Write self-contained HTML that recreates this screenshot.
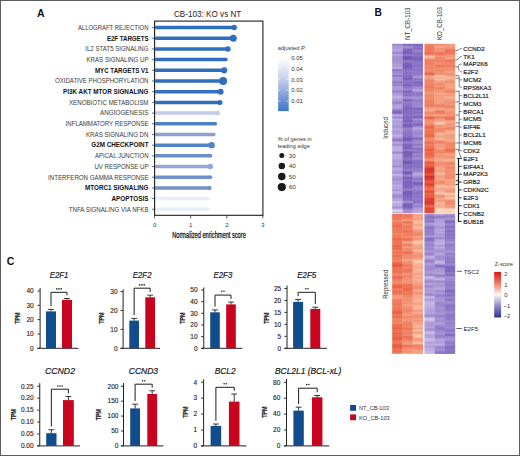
<!DOCTYPE html>
<html><head><meta charset="utf-8"><style>
html,body{margin:0;padding:0;background:#fff;overflow:hidden;}
svg{display:block;font-family:'Liberation Sans',sans-serif;}
</style></head><body>
<svg width="520" height="456" viewBox="0 0 520 456" style="font-family:'Liberation Sans',sans-serif">
<rect width="520" height="456" fill="#fff"/>
<text x="36.90" y="16.70" font-size="10.9" textLength="7.60" lengthAdjust="spacingAndGlyphs" font-weight="bold" fill="#111">A</text>
<text x="374.60" y="15.90" font-size="11.4" textLength="7.40" lengthAdjust="spacingAndGlyphs" font-weight="bold" fill="#111">B</text>
<text x="6.80" y="265.40" font-size="10.9" textLength="7.60" lengthAdjust="spacingAndGlyphs" font-weight="bold" fill="#111">C</text>
<text x="174.00" y="16.50" font-size="9.0" textLength="67.30" lengthAdjust="spacingAndGlyphs" fill="#222">CB-103: KO vs NT</text>
<text x="77.90" y="29.85" font-size="6.55" textLength="70.60" lengthAdjust="spacingAndGlyphs" fill="#3a3a3a">ALLOGRAFT REJECTION</text>
<line x1="152.2" y1="27.55" x2="154.60" y2="27.55" stroke="#333" stroke-width="0.8"/>
<line x1="155.20" y1="27.55" x2="234.20" y2="27.55" stroke="#2f6ebe" stroke-width="3.5"/>
<circle cx="234.20" cy="27.55" r="2.75" fill="#2f6ebe"/>
<text x="106.90" y="40.54" font-size="6.55" textLength="41.60" lengthAdjust="spacingAndGlyphs" font-weight="bold" fill="#111">E2F TARGETS</text>
<line x1="152.2" y1="38.24" x2="154.60" y2="38.24" stroke="#333" stroke-width="0.8"/>
<line x1="155.20" y1="38.24" x2="233.30" y2="38.24" stroke="#2f6ebe" stroke-width="3.5"/>
<circle cx="233.30" cy="38.24" r="3.50" fill="#2f6ebe"/>
<text x="85.25" y="51.23" font-size="6.55" textLength="63.25" lengthAdjust="spacingAndGlyphs" fill="#3a3a3a">IL2 STAT5 SIGNALING</text>
<line x1="152.2" y1="48.93" x2="154.60" y2="48.93" stroke="#333" stroke-width="0.8"/>
<line x1="155.20" y1="48.93" x2="227.90" y2="48.93" stroke="#2f6ebe" stroke-width="3.5"/>
<circle cx="227.90" cy="48.93" r="2.75" fill="#2f6ebe"/>
<text x="86.50" y="61.92" font-size="6.55" textLength="62.00" lengthAdjust="spacingAndGlyphs" fill="#3a3a3a">KRAS SIGNALING UP</text>
<line x1="152.2" y1="59.62" x2="154.60" y2="59.62" stroke="#333" stroke-width="0.8"/>
<line x1="155.20" y1="59.62" x2="226.00" y2="59.62" stroke="#2f6ebe" stroke-width="3.5"/>
<circle cx="226.00" cy="59.62" r="1.75" fill="#2f6ebe"/>
<text x="95.00" y="72.61" font-size="6.55" textLength="53.50" lengthAdjust="spacingAndGlyphs" font-weight="bold" fill="#111">MYC TARGETS V1</text>
<line x1="152.2" y1="70.31" x2="154.60" y2="70.31" stroke="#333" stroke-width="0.8"/>
<line x1="155.20" y1="70.31" x2="224.20" y2="70.31" stroke="#2f6ebe" stroke-width="3.5"/>
<circle cx="224.20" cy="70.31" r="3.10" fill="#2f6ebe"/>
<text x="55.00" y="83.30" font-size="6.55" textLength="93.50" lengthAdjust="spacingAndGlyphs" fill="#3a3a3a">OXIDATIVE PHOSPHORYLATION</text>
<line x1="152.2" y1="81.00" x2="154.60" y2="81.00" stroke="#333" stroke-width="0.8"/>
<line x1="155.20" y1="81.00" x2="223.10" y2="81.00" stroke="#2f6ebe" stroke-width="3.5"/>
<circle cx="223.10" cy="81.00" r="4.00" fill="#2f6ebe"/>
<text x="63.10" y="93.99" font-size="6.55" textLength="85.40" lengthAdjust="spacingAndGlyphs" font-weight="bold" fill="#111">PI3K AKT MTOR SIGNALING</text>
<line x1="152.2" y1="91.69" x2="154.60" y2="91.69" stroke="#333" stroke-width="0.8"/>
<line x1="155.20" y1="91.69" x2="220.60" y2="91.69" stroke="#3270bf" stroke-width="3.5"/>
<circle cx="220.60" cy="91.69" r="3.00" fill="#3270bf"/>
<text x="69.00" y="104.68" font-size="6.55" textLength="79.50" lengthAdjust="spacingAndGlyphs" fill="#3a3a3a">XENOBIOTIC METABOLISM</text>
<line x1="152.2" y1="102.38" x2="154.60" y2="102.38" stroke="#333" stroke-width="0.8"/>
<line x1="155.20" y1="102.38" x2="220.00" y2="102.38" stroke="#2f6ebe" stroke-width="3.5"/>
<circle cx="220.00" cy="102.38" r="2.50" fill="#2f6ebe"/>
<text x="100.00" y="115.37" font-size="6.55" textLength="48.50" lengthAdjust="spacingAndGlyphs" fill="#3a3a3a">ANGIOGENESIS</text>
<line x1="152.2" y1="113.07" x2="154.60" y2="113.07" stroke="#333" stroke-width="0.8"/>
<line x1="155.20" y1="113.07" x2="217.80" y2="113.07" stroke="#c4cde6" stroke-width="3.5"/>
<circle cx="217.80" cy="113.07" r="2.30" fill="#c4cde6"/>
<text x="65.60" y="126.06" font-size="6.55" textLength="82.90" lengthAdjust="spacingAndGlyphs" fill="#3a3a3a">INFLAMMATORY RESPONSE</text>
<line x1="152.2" y1="123.76" x2="154.60" y2="123.76" stroke="#333" stroke-width="0.8"/>
<line x1="155.20" y1="123.76" x2="215.50" y2="123.76" stroke="#4f82c4" stroke-width="3.5"/>
<circle cx="215.50" cy="123.76" r="1.75" fill="#4f82c4"/>
<text x="86.00" y="136.75" font-size="6.55" textLength="62.50" lengthAdjust="spacingAndGlyphs" fill="#3a3a3a">KRAS SIGNALING DN</text>
<line x1="152.2" y1="134.45" x2="154.60" y2="134.45" stroke="#333" stroke-width="0.8"/>
<line x1="155.20" y1="134.45" x2="213.90" y2="134.45" stroke="#8ba1d4" stroke-width="3.5"/>
<circle cx="213.90" cy="134.45" r="1.75" fill="#8ba1d4"/>
<text x="91.25" y="147.44" font-size="6.55" textLength="57.25" lengthAdjust="spacingAndGlyphs" font-weight="bold" fill="#111">G2M CHECKPOINT</text>
<line x1="152.2" y1="145.14" x2="154.60" y2="145.14" stroke="#333" stroke-width="0.8"/>
<line x1="155.20" y1="145.14" x2="211.60" y2="145.14" stroke="#5384c5" stroke-width="3.5"/>
<circle cx="211.60" cy="145.14" r="3.20" fill="#5384c5"/>
<text x="95.00" y="158.13" font-size="6.55" textLength="53.50" lengthAdjust="spacingAndGlyphs" fill="#3a3a3a">APICAL JUNCTION</text>
<line x1="152.2" y1="155.83" x2="154.60" y2="155.83" stroke="#333" stroke-width="0.8"/>
<line x1="155.20" y1="155.83" x2="210.60" y2="155.83" stroke="#6b8ec9" stroke-width="3.5"/>
<circle cx="210.60" cy="155.83" r="1.75" fill="#6b8ec9"/>
<text x="94.40" y="168.82" font-size="6.55" textLength="54.10" lengthAdjust="spacingAndGlyphs" fill="#3a3a3a">UV RESPONSE UP</text>
<line x1="152.2" y1="166.52" x2="154.60" y2="166.52" stroke="#333" stroke-width="0.8"/>
<line x1="155.20" y1="166.52" x2="210.30" y2="166.52" stroke="#92a7d7" stroke-width="3.5"/>
<circle cx="210.30" cy="166.52" r="2.70" fill="#92a7d7"/>
<text x="48.10" y="179.51" font-size="6.55" textLength="100.40" lengthAdjust="spacingAndGlyphs" fill="#3a3a3a">INTERFERON GAMMA RESPONSE</text>
<line x1="152.2" y1="177.21" x2="154.60" y2="177.21" stroke="#333" stroke-width="0.8"/>
<line x1="155.20" y1="177.21" x2="210.60" y2="177.21" stroke="#6f90ca" stroke-width="3.5"/>
<circle cx="210.60" cy="177.21" r="1.75" fill="#6f90ca"/>
<text x="85.00" y="190.20" font-size="6.55" textLength="63.50" lengthAdjust="spacingAndGlyphs" font-weight="bold" fill="#111">MTORC1 SIGNALING</text>
<line x1="152.2" y1="187.90" x2="154.60" y2="187.90" stroke="#333" stroke-width="0.8"/>
<line x1="155.20" y1="187.90" x2="209.40" y2="187.90" stroke="#7591cc" stroke-width="3.5"/>
<circle cx="209.40" cy="187.90" r="2.20" fill="#7591cc"/>
<text x="111.50" y="200.89" font-size="6.55" textLength="37.00" lengthAdjust="spacingAndGlyphs" font-weight="bold" fill="#111">APOPTOSIS</text>
<line x1="152.2" y1="198.59" x2="154.60" y2="198.59" stroke="#333" stroke-width="0.8"/>
<line x1="155.20" y1="198.59" x2="208.30" y2="198.59" stroke="#eceef5" stroke-width="3.5"/>
<circle cx="208.30" cy="198.59" r="1.70" fill="#eceef5"/>
<text x="68.75" y="211.58" font-size="6.55" textLength="79.75" lengthAdjust="spacingAndGlyphs" fill="#3a3a3a">TNFA SIGNALING VIA NFKB</text>
<line x1="152.2" y1="209.28" x2="154.60" y2="209.28" stroke="#333" stroke-width="0.8"/>
<line x1="155.20" y1="209.28" x2="208.00" y2="209.28" stroke="#e9edf7" stroke-width="3.5"/>
<circle cx="208.00" cy="209.28" r="1.70" fill="#e9edf7"/>
<rect x="154.60" y="21.10" width="108.30" height="194.20" fill="none" stroke="#1e1e1e" stroke-width="1.1"/>
<line x1="154.60" y1="215.30" x2="154.60" y2="218.4" stroke="#333" stroke-width="0.8"/>
<text x="154.60" y="226.80" font-size="6.0" text-anchor="middle" fill="#333">0</text>
<line x1="190.70" y1="215.30" x2="190.70" y2="218.4" stroke="#333" stroke-width="0.8"/>
<text x="190.70" y="226.80" font-size="6.0" text-anchor="middle" fill="#333">1</text>
<line x1="226.80" y1="215.30" x2="226.80" y2="218.4" stroke="#333" stroke-width="0.8"/>
<text x="226.80" y="226.80" font-size="6.0" text-anchor="middle" fill="#333">2</text>
<line x1="262.90" y1="215.30" x2="262.90" y2="218.4" stroke="#333" stroke-width="0.8"/>
<text x="262.90" y="226.80" font-size="6.0" text-anchor="middle" fill="#333">3</text>
<text x="172.20" y="238.30" font-size="8.8" textLength="73.60" lengthAdjust="spacingAndGlyphs" fill="#2a2a2a" stroke="#2a2a2a" stroke-width="0.35">Normalized enrichment score</text>
<text x="277.80" y="50.20" font-size="5.7" fill="#333">adjusted <tspan font-style="italic">P</tspan></text>
<defs><linearGradient id="gp" x1="0" y1="0" x2="0" y2="1"><stop offset="0" stop-color="#ffffff"/><stop offset="0.2" stop-color="#e3e9f5"/><stop offset="0.4" stop-color="#c3d1eb"/><stop offset="0.6" stop-color="#9cb3de"/><stop offset="0.8" stop-color="#6b92cf"/><stop offset="1" stop-color="#3a7ac6"/></linearGradient><linearGradient id="gz" x1="0" y1="0" x2="0" y2="1"><stop offset="0" stop-color="#d71414"/><stop offset="0.25" stop-color="#f07a68"/><stop offset="0.5" stop-color="#faf6f8"/><stop offset="0.75" stop-color="#9088cc"/><stop offset="1" stop-color="#2b3590"/></linearGradient></defs>
<rect x="278.1" y="57.2" width="10.6" height="53.9" fill="url(#gp)"/>
<text x="291.30" y="59.60" font-size="6.0" textLength="11.50" lengthAdjust="spacingAndGlyphs" fill="#333">0.05</text>
<line x1="278.1" y1="68.35" x2="280.3" y2="68.35" stroke="#fff" stroke-width="0.6"/><line x1="286.5" y1="68.35" x2="288.7" y2="68.35" stroke="#fff" stroke-width="0.6"/>
<text x="291.30" y="70.55" font-size="6.0" textLength="11.50" lengthAdjust="spacingAndGlyphs" fill="#333">0.04</text>
<line x1="278.1" y1="79.30" x2="280.3" y2="79.30" stroke="#fff" stroke-width="0.6"/><line x1="286.5" y1="79.30" x2="288.7" y2="79.30" stroke="#fff" stroke-width="0.6"/>
<text x="291.30" y="81.50" font-size="6.0" textLength="11.50" lengthAdjust="spacingAndGlyphs" fill="#333">0.03</text>
<line x1="278.1" y1="90.25" x2="280.3" y2="90.25" stroke="#fff" stroke-width="0.6"/><line x1="286.5" y1="90.25" x2="288.7" y2="90.25" stroke="#fff" stroke-width="0.6"/>
<text x="291.30" y="92.45" font-size="6.0" textLength="11.50" lengthAdjust="spacingAndGlyphs" fill="#333">0.02</text>
<line x1="278.1" y1="101.20" x2="280.3" y2="101.20" stroke="#fff" stroke-width="0.6"/><line x1="286.5" y1="101.20" x2="288.7" y2="101.20" stroke="#fff" stroke-width="0.6"/>
<text x="291.30" y="103.40" font-size="6.0" textLength="11.50" lengthAdjust="spacingAndGlyphs" fill="#333">0.01</text>
<text x="277.80" y="141.40" font-size="5.6" fill="#333">% of genes in</text>
<text x="277.80" y="147.70" font-size="5.6" fill="#333">leading edge</text>
<circle cx="281.8" cy="155.40" r="2.5" fill="#1a1a1a"/>
<text x="288.80" y="157.60" font-size="6.0" textLength="6.90" lengthAdjust="spacingAndGlyphs" fill="#333">30</text>
<circle cx="281.8" cy="165.95" r="3.25" fill="#1a1a1a"/>
<text x="288.80" y="168.15" font-size="6.0" textLength="6.90" lengthAdjust="spacingAndGlyphs" fill="#333">40</text>
<circle cx="281.8" cy="176.50" r="3.75" fill="#1a1a1a"/>
<text x="288.80" y="178.70" font-size="6.0" textLength="6.90" lengthAdjust="spacingAndGlyphs" fill="#333">50</text>
<circle cx="281.8" cy="187.05" r="4.1" fill="#1a1a1a"/>
<text x="288.80" y="189.25" font-size="6.0" textLength="6.90" lengthAdjust="spacingAndGlyphs" fill="#333">60</text>
<rect x="392.20" y="43.80" width="10.35" height="1.05" fill="#8d75c7"/>
<rect x="392.20" y="44.80" width="10.35" height="1.05" fill="#9680cc"/>
<rect x="392.20" y="45.80" width="10.35" height="1.05" fill="#9d88d0"/>
<rect x="392.20" y="46.80" width="10.35" height="1.05" fill="#a48fd3"/>
<rect x="392.20" y="47.80" width="10.35" height="1.05" fill="#a28dd2"/>
<rect x="392.20" y="48.80" width="10.35" height="1.05" fill="#ab96d6"/>
<rect x="392.20" y="49.80" width="10.35" height="1.05" fill="#b09dda"/>
<rect x="392.20" y="50.80" width="10.35" height="1.05" fill="#a793d5"/>
<rect x="392.20" y="51.80" width="10.35" height="1.05" fill="#927ac9"/>
<rect x="392.20" y="52.80" width="10.35" height="1.05" fill="#8a71c5"/>
<rect x="392.20" y="53.80" width="10.35" height="1.05" fill="#a590d3"/>
<rect x="392.20" y="54.80" width="10.35" height="1.05" fill="#ad99d8"/>
<rect x="392.20" y="55.80" width="10.35" height="1.05" fill="#9b85ce"/>
<rect x="392.20" y="56.80" width="10.35" height="1.05" fill="#9982cd"/>
<rect x="392.20" y="57.80" width="10.35" height="1.05" fill="#9881cd"/>
<rect x="392.20" y="58.80" width="10.35" height="1.05" fill="#9882cd"/>
<rect x="392.20" y="59.80" width="10.35" height="1.05" fill="#9780cc"/>
<rect x="392.20" y="60.80" width="10.35" height="1.05" fill="#9882cd"/>
<rect x="392.20" y="61.80" width="10.35" height="1.05" fill="#9d88cf"/>
<rect x="392.20" y="62.80" width="10.35" height="1.05" fill="#9b85ce"/>
<rect x="392.20" y="63.80" width="10.35" height="1.05" fill="#a692d4"/>
<rect x="392.20" y="64.80" width="10.35" height="1.05" fill="#a48fd3"/>
<rect x="392.20" y="65.80" width="10.35" height="1.05" fill="#a08ad1"/>
<rect x="392.20" y="66.80" width="10.35" height="1.05" fill="#b3a0db"/>
<rect x="392.20" y="67.80" width="10.35" height="1.05" fill="#b19dda"/>
<rect x="392.20" y="68.80" width="10.35" height="1.05" fill="#8d75c7"/>
<rect x="392.20" y="69.80" width="10.35" height="1.05" fill="#7c62be"/>
<rect x="392.20" y="70.80" width="10.35" height="1.05" fill="#8d75c7"/>
<rect x="392.20" y="71.80" width="10.35" height="1.05" fill="#8b73c6"/>
<rect x="392.20" y="72.80" width="10.35" height="1.05" fill="#9881cc"/>
<rect x="392.20" y="73.80" width="10.35" height="1.05" fill="#a28cd2"/>
<rect x="392.20" y="74.80" width="10.35" height="1.05" fill="#846bc2"/>
<rect x="392.20" y="75.80" width="10.35" height="1.05" fill="#8168c0"/>
<rect x="392.20" y="76.80" width="10.35" height="1.05" fill="#9c86cf"/>
<rect x="392.20" y="77.80" width="10.35" height="1.05" fill="#9e88d0"/>
<rect x="392.20" y="78.80" width="10.35" height="1.05" fill="#9b85ce"/>
<rect x="392.20" y="79.80" width="10.35" height="1.05" fill="#9a84ce"/>
<rect x="392.20" y="80.80" width="10.35" height="1.05" fill="#8b73c6"/>
<rect x="392.20" y="81.80" width="10.35" height="1.05" fill="#8067c0"/>
<rect x="392.20" y="82.80" width="10.35" height="1.05" fill="#917ac9"/>
<rect x="392.20" y="83.80" width="10.35" height="1.05" fill="#917ac9"/>
<rect x="392.20" y="84.80" width="10.35" height="1.05" fill="#876fc4"/>
<rect x="392.20" y="85.80" width="10.35" height="1.05" fill="#a08ad1"/>
<rect x="392.20" y="86.80" width="10.35" height="1.05" fill="#a691d4"/>
<rect x="392.20" y="87.80" width="10.35" height="1.05" fill="#a48ed3"/>
<rect x="392.20" y="88.80" width="10.35" height="1.05" fill="#a48fd3"/>
<rect x="392.20" y="89.80" width="10.35" height="1.05" fill="#9882cd"/>
<rect x="392.20" y="90.80" width="10.35" height="1.05" fill="#886fc4"/>
<rect x="392.20" y="91.80" width="10.35" height="1.05" fill="#917ac9"/>
<rect x="392.20" y="92.80" width="10.35" height="1.05" fill="#9f89d0"/>
<rect x="392.20" y="93.80" width="10.35" height="1.05" fill="#9f89d0"/>
<rect x="392.20" y="94.80" width="10.35" height="1.05" fill="#aa96d6"/>
<rect x="392.20" y="95.80" width="10.35" height="1.05" fill="#b6a4dd"/>
<rect x="392.20" y="96.80" width="10.35" height="1.05" fill="#bfaee2"/>
<rect x="392.20" y="97.80" width="10.35" height="1.05" fill="#ad9ad8"/>
<rect x="392.20" y="98.80" width="10.35" height="1.05" fill="#a692d4"/>
<rect x="392.20" y="99.80" width="10.35" height="1.05" fill="#a38dd2"/>
<rect x="392.20" y="100.80" width="10.35" height="1.05" fill="#9781cc"/>
<rect x="392.20" y="101.80" width="10.35" height="1.05" fill="#8a72c5"/>
<rect x="392.20" y="102.80" width="10.35" height="1.05" fill="#8e76c7"/>
<rect x="392.20" y="103.80" width="10.35" height="1.05" fill="#9e89d0"/>
<rect x="392.20" y="104.80" width="10.35" height="1.05" fill="#a691d4"/>
<rect x="392.20" y="105.80" width="10.35" height="1.05" fill="#ad99d8"/>
<rect x="392.20" y="106.80" width="10.35" height="1.05" fill="#ae9ad8"/>
<rect x="392.20" y="107.80" width="10.35" height="1.05" fill="#a590d3"/>
<rect x="392.20" y="108.80" width="10.35" height="1.05" fill="#947dca"/>
<rect x="392.20" y="109.80" width="10.35" height="1.05" fill="#8066c0"/>
<rect x="392.20" y="110.80" width="10.35" height="1.05" fill="#7459b9"/>
<rect x="392.20" y="111.80" width="10.35" height="1.05" fill="#6c50b5"/>
<rect x="392.20" y="112.80" width="10.35" height="1.05" fill="#7358b9"/>
<rect x="392.20" y="113.80" width="10.35" height="1.05" fill="#9f89d0"/>
<rect x="392.20" y="114.80" width="10.35" height="1.05" fill="#b7a5dd"/>
<rect x="392.20" y="115.80" width="10.35" height="1.05" fill="#a38ed3"/>
<rect x="392.20" y="116.80" width="10.35" height="1.05" fill="#8f77c8"/>
<rect x="392.20" y="117.80" width="10.35" height="1.05" fill="#9b85ce"/>
<rect x="392.20" y="118.80" width="10.35" height="1.05" fill="#b6a4dd"/>
<rect x="392.20" y="119.80" width="10.35" height="1.05" fill="#ad99d8"/>
<rect x="392.20" y="120.80" width="10.35" height="1.05" fill="#a48fd3"/>
<rect x="392.20" y="121.80" width="10.35" height="1.05" fill="#a691d4"/>
<rect x="392.20" y="122.80" width="10.35" height="1.05" fill="#a894d5"/>
<rect x="392.20" y="123.80" width="10.35" height="1.05" fill="#ab97d7"/>
<rect x="392.20" y="124.80" width="10.35" height="1.05" fill="#a691d4"/>
<rect x="392.20" y="125.80" width="10.35" height="1.05" fill="#a08ad1"/>
<rect x="392.20" y="126.80" width="10.35" height="1.05" fill="#9d87cf"/>
<rect x="392.20" y="127.80" width="10.35" height="1.05" fill="#ad99d8"/>
<rect x="392.20" y="128.80" width="10.35" height="1.05" fill="#ae9bd9"/>
<rect x="392.20" y="129.80" width="10.35" height="1.05" fill="#ad99d8"/>
<rect x="392.20" y="130.80" width="10.35" height="1.05" fill="#a08bd1"/>
<rect x="392.20" y="131.80" width="10.35" height="1.05" fill="#a18bd1"/>
<rect x="392.20" y="132.80" width="10.35" height="1.05" fill="#a691d4"/>
<rect x="392.20" y="133.80" width="10.35" height="1.05" fill="#a691d4"/>
<rect x="392.20" y="134.80" width="10.35" height="1.05" fill="#bba8df"/>
<rect x="392.20" y="135.80" width="10.35" height="1.05" fill="#b6a3dc"/>
<rect x="392.20" y="136.80" width="10.35" height="1.05" fill="#a590d3"/>
<rect x="392.20" y="137.80" width="10.35" height="1.05" fill="#9983cd"/>
<rect x="392.20" y="138.80" width="10.35" height="1.05" fill="#8870c4"/>
<rect x="392.20" y="139.80" width="10.35" height="1.05" fill="#7e64bf"/>
<rect x="392.20" y="140.80" width="10.35" height="1.05" fill="#937cca"/>
<rect x="392.20" y="141.80" width="10.35" height="1.05" fill="#ac97d7"/>
<rect x="392.20" y="142.80" width="10.35" height="1.05" fill="#b19dda"/>
<rect x="392.20" y="143.80" width="10.35" height="1.05" fill="#9882cd"/>
<rect x="392.20" y="144.80" width="10.35" height="1.05" fill="#9781cc"/>
<rect x="392.20" y="145.80" width="10.35" height="1.05" fill="#aa96d6"/>
<rect x="392.20" y="146.80" width="10.35" height="1.05" fill="#b9a7de"/>
<rect x="392.20" y="147.80" width="10.35" height="1.05" fill="#b29eda"/>
<rect x="392.20" y="148.80" width="10.35" height="1.05" fill="#b29fda"/>
<rect x="392.20" y="149.80" width="10.35" height="1.05" fill="#bcaae0"/>
<rect x="392.20" y="150.80" width="10.35" height="1.05" fill="#a995d6"/>
<rect x="392.20" y="151.80" width="10.35" height="1.05" fill="#917ac9"/>
<rect x="392.20" y="152.80" width="10.35" height="1.05" fill="#947dcb"/>
<rect x="392.20" y="153.80" width="10.35" height="1.05" fill="#b19eda"/>
<rect x="392.20" y="154.80" width="10.35" height="1.05" fill="#b8a5de"/>
<rect x="392.20" y="155.80" width="10.35" height="1.05" fill="#b7a5dd"/>
<rect x="392.20" y="156.80" width="10.35" height="1.05" fill="#b3a0db"/>
<rect x="392.20" y="157.80" width="10.35" height="1.05" fill="#b4a1db"/>
<rect x="392.20" y="158.80" width="10.35" height="1.05" fill="#af9bd9"/>
<rect x="392.20" y="159.80" width="10.35" height="1.05" fill="#a590d4"/>
<rect x="392.20" y="160.80" width="10.35" height="1.05" fill="#a08bd1"/>
<rect x="392.20" y="161.80" width="10.35" height="1.05" fill="#a590d4"/>
<rect x="392.20" y="162.80" width="10.35" height="1.05" fill="#a894d5"/>
<rect x="392.20" y="163.80" width="10.35" height="1.05" fill="#a692d4"/>
<rect x="392.20" y="164.80" width="10.35" height="1.05" fill="#9f89d0"/>
<rect x="392.20" y="165.80" width="10.35" height="1.05" fill="#927ac9"/>
<rect x="392.20" y="166.80" width="10.35" height="1.05" fill="#a08ad1"/>
<rect x="392.20" y="167.80" width="10.35" height="1.05" fill="#b19eda"/>
<rect x="392.20" y="168.80" width="10.35" height="1.05" fill="#b4a1dc"/>
<rect x="392.20" y="169.80" width="10.35" height="1.05" fill="#a995d6"/>
<rect x="392.20" y="170.80" width="10.35" height="1.05" fill="#a38ed3"/>
<rect x="392.20" y="171.80" width="10.35" height="1.05" fill="#9983cd"/>
<rect x="392.20" y="172.80" width="10.35" height="1.05" fill="#a08bd1"/>
<rect x="392.20" y="173.80" width="10.35" height="1.05" fill="#baa8df"/>
<rect x="392.20" y="174.80" width="10.35" height="1.05" fill="#b8a5de"/>
<rect x="392.20" y="175.80" width="10.35" height="1.05" fill="#a994d5"/>
<rect x="392.20" y="176.80" width="10.35" height="1.05" fill="#a38ed2"/>
<rect x="392.20" y="177.80" width="10.35" height="1.05" fill="#9c86cf"/>
<rect x="392.20" y="178.80" width="10.35" height="1.05" fill="#927ac9"/>
<rect x="392.20" y="179.80" width="10.35" height="1.05" fill="#9e88d0"/>
<rect x="392.20" y="180.80" width="10.35" height="1.05" fill="#a18cd2"/>
<rect x="392.20" y="181.80" width="10.35" height="1.05" fill="#a792d5"/>
<rect x="392.20" y="182.80" width="10.35" height="1.05" fill="#a08ad1"/>
<rect x="392.20" y="183.80" width="10.35" height="1.05" fill="#a995d6"/>
<rect x="392.20" y="184.80" width="10.35" height="1.05" fill="#b5a2dc"/>
<rect x="392.20" y="185.80" width="10.35" height="1.05" fill="#b19eda"/>
<rect x="392.20" y="186.80" width="10.35" height="1.05" fill="#ab96d6"/>
<rect x="392.20" y="187.80" width="10.35" height="1.05" fill="#b19dda"/>
<rect x="392.20" y="188.80" width="10.35" height="1.05" fill="#a893d5"/>
<rect x="392.20" y="189.80" width="10.35" height="1.05" fill="#9c86cf"/>
<rect x="392.20" y="190.80" width="10.35" height="1.05" fill="#ae9bd9"/>
<rect x="392.20" y="191.80" width="10.35" height="1.05" fill="#bdabe0"/>
<rect x="392.20" y="192.80" width="10.35" height="1.05" fill="#ae9ad8"/>
<rect x="392.20" y="193.80" width="10.35" height="1.05" fill="#9f89d0"/>
<rect x="392.20" y="194.80" width="10.35" height="1.05" fill="#967fcc"/>
<rect x="392.20" y="195.80" width="10.35" height="1.05" fill="#947dca"/>
<rect x="392.20" y="196.80" width="10.35" height="1.05" fill="#937cca"/>
<rect x="392.20" y="197.80" width="10.35" height="1.05" fill="#a691d4"/>
<rect x="392.20" y="198.80" width="10.35" height="1.05" fill="#ad99d8"/>
<rect x="392.20" y="199.80" width="10.35" height="1.05" fill="#a591d4"/>
<rect x="392.20" y="200.80" width="10.35" height="1.05" fill="#c0aee2"/>
<rect x="392.20" y="201.80" width="10.35" height="1.05" fill="#ccbce8"/>
<rect x="392.20" y="202.80" width="10.35" height="1.05" fill="#b4a1dc"/>
<rect x="392.20" y="203.80" width="10.35" height="1.05" fill="#b6a3dc"/>
<rect x="392.20" y="204.80" width="10.35" height="1.05" fill="#b8a6de"/>
<rect x="392.20" y="205.80" width="10.35" height="1.05" fill="#a38ed2"/>
<rect x="392.20" y="206.80" width="10.35" height="1.05" fill="#9e88d0"/>
<rect x="392.20" y="207.80" width="10.35" height="1.05" fill="#9d87cf"/>
<rect x="392.20" y="208.80" width="10.35" height="1.05" fill="#c9b9e7"/>
<rect x="392.20" y="209.80" width="10.35" height="1.05" fill="#dbcdf0"/>
<rect x="392.20" y="210.80" width="10.35" height="1.05" fill="#d6c8ee"/>
<rect x="392.20" y="211.80" width="10.35" height="1.05" fill="#bcaae0"/>
<rect x="402.50" y="43.80" width="10.35" height="1.05" fill="#7257b8"/>
<rect x="402.50" y="44.80" width="10.35" height="1.05" fill="#755bba"/>
<rect x="402.50" y="45.80" width="10.35" height="1.05" fill="#8b73c6"/>
<rect x="402.50" y="46.80" width="10.35" height="1.05" fill="#9d88cf"/>
<rect x="402.50" y="47.80" width="10.35" height="1.05" fill="#8971c5"/>
<rect x="402.50" y="48.80" width="10.35" height="1.05" fill="#7358b9"/>
<rect x="402.50" y="49.80" width="10.35" height="1.05" fill="#6e52b6"/>
<rect x="402.50" y="50.80" width="10.35" height="1.05" fill="#7257b8"/>
<rect x="402.50" y="51.80" width="10.35" height="1.05" fill="#644ab0"/>
<rect x="402.50" y="52.80" width="10.35" height="1.05" fill="#644ab0"/>
<rect x="402.50" y="53.80" width="10.35" height="1.05" fill="#7f65bf"/>
<rect x="402.50" y="54.80" width="10.35" height="1.05" fill="#856cc2"/>
<rect x="402.50" y="55.80" width="10.35" height="1.05" fill="#6a4eb4"/>
<rect x="402.50" y="56.80" width="10.35" height="1.05" fill="#5e45ab"/>
<rect x="402.50" y="57.80" width="10.35" height="1.05" fill="#5d44aa"/>
<rect x="402.50" y="58.80" width="10.35" height="1.05" fill="#6248ae"/>
<rect x="402.50" y="59.80" width="10.35" height="1.05" fill="#7459b9"/>
<rect x="402.50" y="60.80" width="10.35" height="1.05" fill="#8971c5"/>
<rect x="402.50" y="61.80" width="10.35" height="1.05" fill="#7a60bc"/>
<rect x="402.50" y="62.80" width="10.35" height="1.05" fill="#6d52b6"/>
<rect x="402.50" y="63.80" width="10.35" height="1.05" fill="#6b4fb5"/>
<rect x="402.50" y="64.80" width="10.35" height="1.05" fill="#694db3"/>
<rect x="402.50" y="65.80" width="10.35" height="1.05" fill="#6148ae"/>
<rect x="402.50" y="66.80" width="10.35" height="1.05" fill="#644ab0"/>
<rect x="402.50" y="67.80" width="10.35" height="1.05" fill="#6e53b6"/>
<rect x="402.50" y="68.80" width="10.35" height="1.05" fill="#7054b7"/>
<rect x="402.50" y="69.80" width="10.35" height="1.05" fill="#795fbc"/>
<rect x="402.50" y="70.80" width="10.35" height="1.05" fill="#836ac1"/>
<rect x="402.50" y="71.80" width="10.35" height="1.05" fill="#7e64be"/>
<rect x="402.50" y="72.80" width="10.35" height="1.05" fill="#785dbb"/>
<rect x="402.50" y="73.80" width="10.35" height="1.05" fill="#8167c0"/>
<rect x="402.50" y="74.80" width="10.35" height="1.05" fill="#775dbb"/>
<rect x="402.50" y="75.80" width="10.35" height="1.05" fill="#755aba"/>
<rect x="402.50" y="76.80" width="10.35" height="1.05" fill="#7359b9"/>
<rect x="402.50" y="77.80" width="10.35" height="1.05" fill="#664bb1"/>
<rect x="402.50" y="78.80" width="10.35" height="1.05" fill="#684db3"/>
<rect x="402.50" y="79.80" width="10.35" height="1.05" fill="#7b62bd"/>
<rect x="402.50" y="80.80" width="10.35" height="1.05" fill="#7a60bd"/>
<rect x="402.50" y="81.80" width="10.35" height="1.05" fill="#785ebc"/>
<rect x="402.50" y="82.80" width="10.35" height="1.05" fill="#7f65bf"/>
<rect x="402.50" y="83.80" width="10.35" height="1.05" fill="#7054b7"/>
<rect x="402.50" y="84.80" width="10.35" height="1.05" fill="#694db3"/>
<rect x="402.50" y="85.80" width="10.35" height="1.05" fill="#7c63be"/>
<rect x="402.50" y="86.80" width="10.35" height="1.05" fill="#8167c0"/>
<rect x="402.50" y="87.80" width="10.35" height="1.05" fill="#8269c1"/>
<rect x="402.50" y="88.80" width="10.35" height="1.05" fill="#967fcb"/>
<rect x="402.50" y="89.80" width="10.35" height="1.05" fill="#856cc3"/>
<rect x="402.50" y="90.80" width="10.35" height="1.05" fill="#684cb2"/>
<rect x="402.50" y="91.80" width="10.35" height="1.05" fill="#6e53b6"/>
<rect x="402.50" y="92.80" width="10.35" height="1.05" fill="#846cc2"/>
<rect x="402.50" y="93.80" width="10.35" height="1.05" fill="#7e65bf"/>
<rect x="402.50" y="94.80" width="10.35" height="1.05" fill="#765bba"/>
<rect x="402.50" y="95.80" width="10.35" height="1.05" fill="#8971c5"/>
<rect x="402.50" y="96.80" width="10.35" height="1.05" fill="#9882cd"/>
<rect x="402.50" y="97.80" width="10.35" height="1.05" fill="#9780cc"/>
<rect x="402.50" y="98.80" width="10.35" height="1.05" fill="#7d63be"/>
<rect x="402.50" y="99.80" width="10.35" height="1.05" fill="#7155b8"/>
<rect x="402.50" y="100.80" width="10.35" height="1.05" fill="#775cbb"/>
<rect x="402.50" y="101.80" width="10.35" height="1.05" fill="#8b73c6"/>
<rect x="402.50" y="102.80" width="10.35" height="1.05" fill="#8168c0"/>
<rect x="402.50" y="103.80" width="10.35" height="1.05" fill="#8067c0"/>
<rect x="402.50" y="104.80" width="10.35" height="1.05" fill="#7c62bd"/>
<rect x="402.50" y="105.80" width="10.35" height="1.05" fill="#7d63be"/>
<rect x="402.50" y="106.80" width="10.35" height="1.05" fill="#7055b7"/>
<rect x="402.50" y="107.80" width="10.35" height="1.05" fill="#6b4fb4"/>
<rect x="402.50" y="108.80" width="10.35" height="1.05" fill="#745aba"/>
<rect x="402.50" y="109.80" width="10.35" height="1.05" fill="#7257b8"/>
<rect x="402.50" y="110.80" width="10.35" height="1.05" fill="#7257b8"/>
<rect x="402.50" y="111.80" width="10.35" height="1.05" fill="#7359b9"/>
<rect x="402.50" y="112.80" width="10.35" height="1.05" fill="#7156b8"/>
<rect x="402.50" y="113.80" width="10.35" height="1.05" fill="#7b61bd"/>
<rect x="402.50" y="114.80" width="10.35" height="1.05" fill="#7c62be"/>
<rect x="402.50" y="115.80" width="10.35" height="1.05" fill="#745aba"/>
<rect x="402.50" y="116.80" width="10.35" height="1.05" fill="#6d51b5"/>
<rect x="402.50" y="117.80" width="10.35" height="1.05" fill="#7055b7"/>
<rect x="402.50" y="118.80" width="10.35" height="1.05" fill="#785ebb"/>
<rect x="402.50" y="119.80" width="10.35" height="1.05" fill="#6a4eb4"/>
<rect x="402.50" y="120.80" width="10.35" height="1.05" fill="#684cb2"/>
<rect x="402.50" y="121.80" width="10.35" height="1.05" fill="#795fbc"/>
<rect x="402.50" y="122.80" width="10.35" height="1.05" fill="#7c62bd"/>
<rect x="402.50" y="123.80" width="10.35" height="1.05" fill="#694eb4"/>
<rect x="402.50" y="124.80" width="10.35" height="1.05" fill="#684cb2"/>
<rect x="402.50" y="125.80" width="10.35" height="1.05" fill="#6a4eb4"/>
<rect x="402.50" y="126.80" width="10.35" height="1.05" fill="#7257b8"/>
<rect x="402.50" y="127.80" width="10.35" height="1.05" fill="#886fc4"/>
<rect x="402.50" y="128.80" width="10.35" height="1.05" fill="#8a72c5"/>
<rect x="402.50" y="129.80" width="10.35" height="1.05" fill="#8b73c5"/>
<rect x="402.50" y="130.80" width="10.35" height="1.05" fill="#8167c0"/>
<rect x="402.50" y="131.80" width="10.35" height="1.05" fill="#7f65bf"/>
<rect x="402.50" y="132.80" width="10.35" height="1.05" fill="#7f65bf"/>
<rect x="402.50" y="133.80" width="10.35" height="1.05" fill="#7b61bd"/>
<rect x="402.50" y="134.80" width="10.35" height="1.05" fill="#7e64bf"/>
<rect x="402.50" y="135.80" width="10.35" height="1.05" fill="#775dbb"/>
<rect x="402.50" y="136.80" width="10.35" height="1.05" fill="#785dbb"/>
<rect x="402.50" y="137.80" width="10.35" height="1.05" fill="#664bb1"/>
<rect x="402.50" y="138.80" width="10.35" height="1.05" fill="#5e45ab"/>
<rect x="402.50" y="139.80" width="10.35" height="1.05" fill="#694db3"/>
<rect x="402.50" y="140.80" width="10.35" height="1.05" fill="#775dbb"/>
<rect x="402.50" y="141.80" width="10.35" height="1.05" fill="#876fc4"/>
<rect x="402.50" y="142.80" width="10.35" height="1.05" fill="#856cc2"/>
<rect x="402.50" y="143.80" width="10.35" height="1.05" fill="#6e53b6"/>
<rect x="402.50" y="144.80" width="10.35" height="1.05" fill="#674cb2"/>
<rect x="402.50" y="145.80" width="10.35" height="1.05" fill="#755aba"/>
<rect x="402.50" y="146.80" width="10.35" height="1.05" fill="#6d52b6"/>
<rect x="402.50" y="147.80" width="10.35" height="1.05" fill="#664bb1"/>
<rect x="402.50" y="148.80" width="10.35" height="1.05" fill="#775cbb"/>
<rect x="402.50" y="149.80" width="10.35" height="1.05" fill="#856cc2"/>
<rect x="402.50" y="150.80" width="10.35" height="1.05" fill="#6e52b6"/>
<rect x="402.50" y="151.80" width="10.35" height="1.05" fill="#6349af"/>
<rect x="402.50" y="152.80" width="10.35" height="1.05" fill="#664bb1"/>
<rect x="402.50" y="153.80" width="10.35" height="1.05" fill="#694db3"/>
<rect x="402.50" y="154.80" width="10.35" height="1.05" fill="#6d52b6"/>
<rect x="402.50" y="155.80" width="10.35" height="1.05" fill="#6c50b5"/>
<rect x="402.50" y="156.80" width="10.35" height="1.05" fill="#7054b7"/>
<rect x="402.50" y="157.80" width="10.35" height="1.05" fill="#8066c0"/>
<rect x="402.50" y="158.80" width="10.35" height="1.05" fill="#7d63be"/>
<rect x="402.50" y="159.80" width="10.35" height="1.05" fill="#775cbb"/>
<rect x="402.50" y="160.80" width="10.35" height="1.05" fill="#684cb2"/>
<rect x="402.50" y="161.80" width="10.35" height="1.05" fill="#5e45ab"/>
<rect x="402.50" y="162.80" width="10.35" height="1.05" fill="#5d45ab"/>
<rect x="402.50" y="163.80" width="10.35" height="1.05" fill="#7459b9"/>
<rect x="402.50" y="164.80" width="10.35" height="1.05" fill="#785dbb"/>
<rect x="402.50" y="165.80" width="10.35" height="1.05" fill="#6f54b7"/>
<rect x="402.50" y="166.80" width="10.35" height="1.05" fill="#765bba"/>
<rect x="402.50" y="167.80" width="10.35" height="1.05" fill="#755aba"/>
<rect x="402.50" y="168.80" width="10.35" height="1.05" fill="#836ac1"/>
<rect x="402.50" y="169.80" width="10.35" height="1.05" fill="#8870c4"/>
<rect x="402.50" y="170.80" width="10.35" height="1.05" fill="#755aba"/>
<rect x="402.50" y="171.80" width="10.35" height="1.05" fill="#6349af"/>
<rect x="402.50" y="172.80" width="10.35" height="1.05" fill="#6147ad"/>
<rect x="402.50" y="173.80" width="10.35" height="1.05" fill="#755bba"/>
<rect x="402.50" y="174.80" width="10.35" height="1.05" fill="#8f78c8"/>
<rect x="402.50" y="175.80" width="10.35" height="1.05" fill="#866dc3"/>
<rect x="402.50" y="176.80" width="10.35" height="1.05" fill="#6c50b5"/>
<rect x="402.50" y="177.80" width="10.35" height="1.05" fill="#654ab0"/>
<rect x="402.50" y="178.80" width="10.35" height="1.05" fill="#7156b8"/>
<rect x="402.50" y="179.80" width="10.35" height="1.05" fill="#7e64be"/>
<rect x="402.50" y="180.80" width="10.35" height="1.05" fill="#674cb2"/>
<rect x="402.50" y="181.80" width="10.35" height="1.05" fill="#6a4eb4"/>
<rect x="402.50" y="182.80" width="10.35" height="1.05" fill="#6c50b5"/>
<rect x="402.50" y="183.80" width="10.35" height="1.05" fill="#7054b7"/>
<rect x="402.50" y="184.80" width="10.35" height="1.05" fill="#6a4eb4"/>
<rect x="402.50" y="185.80" width="10.35" height="1.05" fill="#7156b8"/>
<rect x="402.50" y="186.80" width="10.35" height="1.05" fill="#6c50b5"/>
<rect x="402.50" y="187.80" width="10.35" height="1.05" fill="#785ebc"/>
<rect x="402.50" y="188.80" width="10.35" height="1.05" fill="#8971c5"/>
<rect x="402.50" y="189.80" width="10.35" height="1.05" fill="#8168c0"/>
<rect x="402.50" y="190.80" width="10.35" height="1.05" fill="#6f54b7"/>
<rect x="402.50" y="191.80" width="10.35" height="1.05" fill="#644ab0"/>
<rect x="402.50" y="192.80" width="10.35" height="1.05" fill="#6248ae"/>
<rect x="402.50" y="193.80" width="10.35" height="1.05" fill="#694db3"/>
<rect x="402.50" y="194.80" width="10.35" height="1.05" fill="#6f53b6"/>
<rect x="402.50" y="195.80" width="10.35" height="1.05" fill="#6a4eb4"/>
<rect x="402.50" y="196.80" width="10.35" height="1.05" fill="#6f53b6"/>
<rect x="402.50" y="197.80" width="10.35" height="1.05" fill="#765bba"/>
<rect x="402.50" y="198.80" width="10.35" height="1.05" fill="#7257b8"/>
<rect x="402.50" y="199.80" width="10.35" height="1.05" fill="#795ebc"/>
<rect x="402.50" y="200.80" width="10.35" height="1.05" fill="#957ecb"/>
<rect x="402.50" y="201.80" width="10.35" height="1.05" fill="#9b85ce"/>
<rect x="402.50" y="202.80" width="10.35" height="1.05" fill="#785ebc"/>
<rect x="402.50" y="203.80" width="10.35" height="1.05" fill="#6a4eb4"/>
<rect x="402.50" y="204.80" width="10.35" height="1.05" fill="#684db3"/>
<rect x="402.50" y="205.80" width="10.35" height="1.05" fill="#654bb1"/>
<rect x="402.50" y="206.80" width="10.35" height="1.05" fill="#6f53b7"/>
<rect x="402.50" y="207.80" width="10.35" height="1.05" fill="#7459b9"/>
<rect x="402.50" y="208.80" width="10.35" height="1.05" fill="#8e76c7"/>
<rect x="402.50" y="209.80" width="10.35" height="1.05" fill="#957ecb"/>
<rect x="402.50" y="210.80" width="10.35" height="1.05" fill="#9a83ce"/>
<rect x="402.50" y="211.80" width="10.35" height="1.05" fill="#967fcb"/>
<rect x="412.80" y="43.80" width="10.25" height="1.05" fill="#7257b8"/>
<rect x="412.80" y="44.80" width="10.25" height="1.05" fill="#6e53b6"/>
<rect x="412.80" y="45.80" width="10.25" height="1.05" fill="#7b61bd"/>
<rect x="412.80" y="46.80" width="10.25" height="1.05" fill="#8168c0"/>
<rect x="412.80" y="47.80" width="10.25" height="1.05" fill="#7156b8"/>
<rect x="412.80" y="48.80" width="10.25" height="1.05" fill="#7c62be"/>
<rect x="412.80" y="49.80" width="10.25" height="1.05" fill="#8c74c6"/>
<rect x="412.80" y="50.80" width="10.25" height="1.05" fill="#8b73c5"/>
<rect x="412.80" y="51.80" width="10.25" height="1.05" fill="#8167c0"/>
<rect x="412.80" y="52.80" width="10.25" height="1.05" fill="#775dbb"/>
<rect x="412.80" y="53.80" width="10.25" height="1.05" fill="#7a60bc"/>
<rect x="412.80" y="54.80" width="10.25" height="1.05" fill="#7f65bf"/>
<rect x="412.80" y="55.80" width="10.25" height="1.05" fill="#775cbb"/>
<rect x="412.80" y="56.80" width="10.25" height="1.05" fill="#7257b8"/>
<rect x="412.80" y="57.80" width="10.25" height="1.05" fill="#684cb2"/>
<rect x="412.80" y="58.80" width="10.25" height="1.05" fill="#6e52b6"/>
<rect x="412.80" y="59.80" width="10.25" height="1.05" fill="#755aba"/>
<rect x="412.80" y="60.80" width="10.25" height="1.05" fill="#795fbc"/>
<rect x="412.80" y="61.80" width="10.25" height="1.05" fill="#7b61bd"/>
<rect x="412.80" y="62.80" width="10.25" height="1.05" fill="#836ac1"/>
<rect x="412.80" y="63.80" width="10.25" height="1.05" fill="#7d63be"/>
<rect x="412.80" y="64.80" width="10.25" height="1.05" fill="#7d64be"/>
<rect x="412.80" y="65.80" width="10.25" height="1.05" fill="#785dbb"/>
<rect x="412.80" y="66.80" width="10.25" height="1.05" fill="#8168c0"/>
<rect x="412.80" y="67.80" width="10.25" height="1.05" fill="#8870c4"/>
<rect x="412.80" y="68.80" width="10.25" height="1.05" fill="#7e64bf"/>
<rect x="412.80" y="69.80" width="10.25" height="1.05" fill="#795ebc"/>
<rect x="412.80" y="70.80" width="10.25" height="1.05" fill="#836ac1"/>
<rect x="412.80" y="71.80" width="10.25" height="1.05" fill="#846bc2"/>
<rect x="412.80" y="72.80" width="10.25" height="1.05" fill="#8067c0"/>
<rect x="412.80" y="73.80" width="10.25" height="1.05" fill="#8067c0"/>
<rect x="412.80" y="74.80" width="10.25" height="1.05" fill="#8b73c6"/>
<rect x="412.80" y="75.80" width="10.25" height="1.05" fill="#9d87cf"/>
<rect x="412.80" y="76.80" width="10.25" height="1.05" fill="#9f89d0"/>
<rect x="412.80" y="77.80" width="10.25" height="1.05" fill="#8870c4"/>
<rect x="412.80" y="78.80" width="10.25" height="1.05" fill="#7d63be"/>
<rect x="412.80" y="79.80" width="10.25" height="1.05" fill="#8a72c5"/>
<rect x="412.80" y="80.80" width="10.25" height="1.05" fill="#7c62be"/>
<rect x="412.80" y="81.80" width="10.25" height="1.05" fill="#684cb2"/>
<rect x="412.80" y="82.80" width="10.25" height="1.05" fill="#7a60bc"/>
<rect x="412.80" y="83.80" width="10.25" height="1.05" fill="#795fbc"/>
<rect x="412.80" y="84.80" width="10.25" height="1.05" fill="#6e52b6"/>
<rect x="412.80" y="85.80" width="10.25" height="1.05" fill="#846bc2"/>
<rect x="412.80" y="86.80" width="10.25" height="1.05" fill="#937cca"/>
<rect x="412.80" y="87.80" width="10.25" height="1.05" fill="#9179c9"/>
<rect x="412.80" y="88.80" width="10.25" height="1.05" fill="#a590d3"/>
<rect x="412.80" y="89.80" width="10.25" height="1.05" fill="#ae9ad8"/>
<rect x="412.80" y="90.80" width="10.25" height="1.05" fill="#9c87cf"/>
<rect x="412.80" y="91.80" width="10.25" height="1.05" fill="#8e76c7"/>
<rect x="412.80" y="92.80" width="10.25" height="1.05" fill="#856cc2"/>
<rect x="412.80" y="93.80" width="10.25" height="1.05" fill="#7b61bd"/>
<rect x="412.80" y="94.80" width="10.25" height="1.05" fill="#836ac1"/>
<rect x="412.80" y="95.80" width="10.25" height="1.05" fill="#9179c9"/>
<rect x="412.80" y="96.80" width="10.25" height="1.05" fill="#9b85ce"/>
<rect x="412.80" y="97.80" width="10.25" height="1.05" fill="#9d87cf"/>
<rect x="412.80" y="98.80" width="10.25" height="1.05" fill="#927ac9"/>
<rect x="412.80" y="99.80" width="10.25" height="1.05" fill="#846bc2"/>
<rect x="412.80" y="100.80" width="10.25" height="1.05" fill="#866dc3"/>
<rect x="412.80" y="101.80" width="10.25" height="1.05" fill="#8f77c8"/>
<rect x="412.80" y="102.80" width="10.25" height="1.05" fill="#8d75c7"/>
<rect x="412.80" y="103.80" width="10.25" height="1.05" fill="#9079c8"/>
<rect x="412.80" y="104.80" width="10.25" height="1.05" fill="#917ac9"/>
<rect x="412.80" y="105.80" width="10.25" height="1.05" fill="#947dca"/>
<rect x="412.80" y="106.80" width="10.25" height="1.05" fill="#8e76c7"/>
<rect x="412.80" y="107.80" width="10.25" height="1.05" fill="#7054b7"/>
<rect x="412.80" y="108.80" width="10.25" height="1.05" fill="#6d51b5"/>
<rect x="412.80" y="109.80" width="10.25" height="1.05" fill="#8168c0"/>
<rect x="412.80" y="110.80" width="10.25" height="1.05" fill="#7c62bd"/>
<rect x="412.80" y="111.80" width="10.25" height="1.05" fill="#795fbc"/>
<rect x="412.80" y="112.80" width="10.25" height="1.05" fill="#785ebc"/>
<rect x="412.80" y="113.80" width="10.25" height="1.05" fill="#866ec3"/>
<rect x="412.80" y="114.80" width="10.25" height="1.05" fill="#846bc2"/>
<rect x="412.80" y="115.80" width="10.25" height="1.05" fill="#7156b8"/>
<rect x="412.80" y="116.80" width="10.25" height="1.05" fill="#684db3"/>
<rect x="412.80" y="117.80" width="10.25" height="1.05" fill="#8168c0"/>
<rect x="412.80" y="118.80" width="10.25" height="1.05" fill="#9b85ce"/>
<rect x="412.80" y="119.80" width="10.25" height="1.05" fill="#9078c8"/>
<rect x="412.80" y="120.80" width="10.25" height="1.05" fill="#836ac1"/>
<rect x="412.80" y="121.80" width="10.25" height="1.05" fill="#8a72c5"/>
<rect x="412.80" y="122.80" width="10.25" height="1.05" fill="#836ac1"/>
<rect x="412.80" y="123.80" width="10.25" height="1.05" fill="#6a4eb4"/>
<rect x="412.80" y="124.80" width="10.25" height="1.05" fill="#7459b9"/>
<rect x="412.80" y="125.80" width="10.25" height="1.05" fill="#8c74c6"/>
<rect x="412.80" y="126.80" width="10.25" height="1.05" fill="#9c87cf"/>
<rect x="412.80" y="127.80" width="10.25" height="1.05" fill="#af9bd9"/>
<rect x="412.80" y="128.80" width="10.25" height="1.05" fill="#a995d6"/>
<rect x="412.80" y="129.80" width="10.25" height="1.05" fill="#9a84ce"/>
<rect x="412.80" y="130.80" width="10.25" height="1.05" fill="#9780cc"/>
<rect x="412.80" y="131.80" width="10.25" height="1.05" fill="#947dcb"/>
<rect x="412.80" y="132.80" width="10.25" height="1.05" fill="#9078c8"/>
<rect x="412.80" y="133.80" width="10.25" height="1.05" fill="#917ac9"/>
<rect x="412.80" y="134.80" width="10.25" height="1.05" fill="#9c86cf"/>
<rect x="412.80" y="135.80" width="10.25" height="1.05" fill="#9a84ce"/>
<rect x="412.80" y="136.80" width="10.25" height="1.05" fill="#8970c4"/>
<rect x="412.80" y="137.80" width="10.25" height="1.05" fill="#765bba"/>
<rect x="412.80" y="138.80" width="10.25" height="1.05" fill="#795fbc"/>
<rect x="412.80" y="139.80" width="10.25" height="1.05" fill="#8b73c6"/>
<rect x="412.80" y="140.80" width="10.25" height="1.05" fill="#8e77c8"/>
<rect x="412.80" y="141.80" width="10.25" height="1.05" fill="#9b84ce"/>
<rect x="412.80" y="142.80" width="10.25" height="1.05" fill="#947ecb"/>
<rect x="412.80" y="143.80" width="10.25" height="1.05" fill="#8269c1"/>
<rect x="412.80" y="144.80" width="10.25" height="1.05" fill="#846bc2"/>
<rect x="412.80" y="145.80" width="10.25" height="1.05" fill="#967fcb"/>
<rect x="412.80" y="146.80" width="10.25" height="1.05" fill="#947dcb"/>
<rect x="412.80" y="147.80" width="10.25" height="1.05" fill="#7a60bd"/>
<rect x="412.80" y="148.80" width="10.25" height="1.05" fill="#7b61bd"/>
<rect x="412.80" y="149.80" width="10.25" height="1.05" fill="#8a72c5"/>
<rect x="412.80" y="150.80" width="10.25" height="1.05" fill="#8066c0"/>
<rect x="412.80" y="151.80" width="10.25" height="1.05" fill="#755aba"/>
<rect x="412.80" y="152.80" width="10.25" height="1.05" fill="#8b73c5"/>
<rect x="412.80" y="153.80" width="10.25" height="1.05" fill="#917ac9"/>
<rect x="412.80" y="154.80" width="10.25" height="1.05" fill="#886fc4"/>
<rect x="412.80" y="155.80" width="10.25" height="1.05" fill="#876fc4"/>
<rect x="412.80" y="156.80" width="10.25" height="1.05" fill="#8f77c8"/>
<rect x="412.80" y="157.80" width="10.25" height="1.05" fill="#967fcc"/>
<rect x="412.80" y="158.80" width="10.25" height="1.05" fill="#947ecb"/>
<rect x="412.80" y="159.80" width="10.25" height="1.05" fill="#8067c0"/>
<rect x="412.80" y="160.80" width="10.25" height="1.05" fill="#775dbb"/>
<rect x="412.80" y="161.80" width="10.25" height="1.05" fill="#795fbc"/>
<rect x="412.80" y="162.80" width="10.25" height="1.05" fill="#7156b8"/>
<rect x="412.80" y="163.80" width="10.25" height="1.05" fill="#7e64bf"/>
<rect x="412.80" y="164.80" width="10.25" height="1.05" fill="#8168c0"/>
<rect x="412.80" y="165.80" width="10.25" height="1.05" fill="#7359b9"/>
<rect x="412.80" y="166.80" width="10.25" height="1.05" fill="#7d64be"/>
<rect x="412.80" y="167.80" width="10.25" height="1.05" fill="#8067c0"/>
<rect x="412.80" y="168.80" width="10.25" height="1.05" fill="#8b73c6"/>
<rect x="412.80" y="169.80" width="10.25" height="1.05" fill="#846bc2"/>
<rect x="412.80" y="170.80" width="10.25" height="1.05" fill="#8c75c6"/>
<rect x="412.80" y="171.80" width="10.25" height="1.05" fill="#9e88d0"/>
<rect x="412.80" y="172.80" width="10.25" height="1.05" fill="#aa96d6"/>
<rect x="412.80" y="173.80" width="10.25" height="1.05" fill="#b4a1dc"/>
<rect x="412.80" y="174.80" width="10.25" height="1.05" fill="#a691d4"/>
<rect x="412.80" y="175.80" width="10.25" height="1.05" fill="#9882cd"/>
<rect x="412.80" y="176.80" width="10.25" height="1.05" fill="#9780cc"/>
<rect x="412.80" y="177.80" width="10.25" height="1.05" fill="#856dc3"/>
<rect x="412.80" y="178.80" width="10.25" height="1.05" fill="#7b61bd"/>
<rect x="412.80" y="179.80" width="10.25" height="1.05" fill="#8b73c6"/>
<rect x="412.80" y="180.80" width="10.25" height="1.05" fill="#8870c4"/>
<rect x="412.80" y="181.80" width="10.25" height="1.05" fill="#755aba"/>
<rect x="412.80" y="182.80" width="10.25" height="1.05" fill="#664bb1"/>
<rect x="412.80" y="183.80" width="10.25" height="1.05" fill="#694db3"/>
<rect x="412.80" y="184.80" width="10.25" height="1.05" fill="#7c63be"/>
<rect x="412.80" y="185.80" width="10.25" height="1.05" fill="#8870c4"/>
<rect x="412.80" y="186.80" width="10.25" height="1.05" fill="#8c74c6"/>
<rect x="412.80" y="187.80" width="10.25" height="1.05" fill="#957ecb"/>
<rect x="412.80" y="188.80" width="10.25" height="1.05" fill="#9079c9"/>
<rect x="412.80" y="189.80" width="10.25" height="1.05" fill="#846bc2"/>
<rect x="412.80" y="190.80" width="10.25" height="1.05" fill="#8168c1"/>
<rect x="412.80" y="191.80" width="10.25" height="1.05" fill="#7a60bc"/>
<rect x="412.80" y="192.80" width="10.25" height="1.05" fill="#795fbc"/>
<rect x="412.80" y="193.80" width="10.25" height="1.05" fill="#7d63be"/>
<rect x="412.80" y="194.80" width="10.25" height="1.05" fill="#866ec3"/>
<rect x="412.80" y="195.80" width="10.25" height="1.05" fill="#7b61bd"/>
<rect x="412.80" y="196.80" width="10.25" height="1.05" fill="#7a60bd"/>
<rect x="412.80" y="197.80" width="10.25" height="1.05" fill="#8870c4"/>
<rect x="412.80" y="198.80" width="10.25" height="1.05" fill="#846bc2"/>
<rect x="412.80" y="199.80" width="10.25" height="1.05" fill="#7e65bf"/>
<rect x="412.80" y="200.80" width="10.25" height="1.05" fill="#7a60bc"/>
<rect x="412.80" y="201.80" width="10.25" height="1.05" fill="#7d63be"/>
<rect x="412.80" y="202.80" width="10.25" height="1.05" fill="#856cc2"/>
<rect x="412.80" y="203.80" width="10.25" height="1.05" fill="#9d87cf"/>
<rect x="412.80" y="204.80" width="10.25" height="1.05" fill="#937cca"/>
<rect x="412.80" y="205.80" width="10.25" height="1.05" fill="#846bc2"/>
<rect x="412.80" y="206.80" width="10.25" height="1.05" fill="#9a84ce"/>
<rect x="412.80" y="207.80" width="10.25" height="1.05" fill="#a38ed3"/>
<rect x="412.80" y="208.80" width="10.25" height="1.05" fill="#ab97d7"/>
<rect x="412.80" y="209.80" width="10.25" height="1.05" fill="#a48fd3"/>
<rect x="412.80" y="210.80" width="10.25" height="1.05" fill="#b3a0db"/>
<rect x="412.80" y="211.80" width="10.25" height="1.05" fill="#b09dda"/>
<rect x="424.50" y="43.80" width="10.25" height="1.05" fill="#f07754"/>
<rect x="424.50" y="44.80" width="10.25" height="1.05" fill="#ef7351"/>
<rect x="424.50" y="45.80" width="10.25" height="1.05" fill="#ef6b49"/>
<rect x="424.50" y="46.80" width="10.25" height="1.05" fill="#ef6e4b"/>
<rect x="424.50" y="47.80" width="10.25" height="1.05" fill="#ef6e4b"/>
<rect x="424.50" y="48.80" width="10.25" height="1.05" fill="#ee6744"/>
<rect x="424.50" y="49.80" width="10.25" height="1.05" fill="#ee6a48"/>
<rect x="424.50" y="50.80" width="10.25" height="1.05" fill="#ef6f4d"/>
<rect x="424.50" y="51.80" width="10.25" height="1.05" fill="#ee6441"/>
<rect x="424.50" y="52.80" width="10.25" height="1.05" fill="#ed5f3c"/>
<rect x="424.50" y="53.80" width="10.25" height="1.05" fill="#ed613e"/>
<rect x="424.50" y="54.80" width="10.25" height="1.05" fill="#f39271"/>
<rect x="424.50" y="55.80" width="10.25" height="1.05" fill="#f7b594"/>
<rect x="424.50" y="56.80" width="10.25" height="1.05" fill="#f6b392"/>
<rect x="424.50" y="57.80" width="10.25" height="1.05" fill="#f49a79"/>
<rect x="424.50" y="58.80" width="10.25" height="1.05" fill="#f18360"/>
<rect x="424.50" y="59.80" width="10.25" height="1.05" fill="#ef6d4a"/>
<rect x="424.50" y="60.80" width="10.25" height="1.05" fill="#ef704d"/>
<rect x="424.50" y="61.80" width="10.25" height="1.05" fill="#f07653"/>
<rect x="424.50" y="62.80" width="10.25" height="1.05" fill="#ef6c49"/>
<rect x="424.50" y="63.80" width="10.25" height="1.05" fill="#f07553"/>
<rect x="424.50" y="64.80" width="10.25" height="1.05" fill="#f07653"/>
<rect x="424.50" y="65.80" width="10.25" height="1.05" fill="#f1815f"/>
<rect x="424.50" y="66.80" width="10.25" height="1.05" fill="#ef7351"/>
<rect x="424.50" y="67.80" width="10.25" height="1.05" fill="#ef6e4b"/>
<rect x="424.50" y="68.80" width="10.25" height="1.05" fill="#f07957"/>
<rect x="424.50" y="69.80" width="10.25" height="1.05" fill="#f17f5d"/>
<rect x="424.50" y="70.80" width="10.25" height="1.05" fill="#f07b58"/>
<rect x="424.50" y="71.80" width="10.25" height="1.05" fill="#ef724f"/>
<rect x="424.50" y="72.80" width="10.25" height="1.05" fill="#ec5835"/>
<rect x="424.50" y="73.80" width="10.25" height="1.05" fill="#eb4c29"/>
<rect x="424.50" y="74.80" width="10.25" height="1.05" fill="#f07b58"/>
<rect x="424.50" y="75.80" width="10.25" height="1.05" fill="#f49c7a"/>
<rect x="424.50" y="76.80" width="10.25" height="1.05" fill="#f49b79"/>
<rect x="424.50" y="77.80" width="10.25" height="1.05" fill="#f39473"/>
<rect x="424.50" y="78.80" width="10.25" height="1.05" fill="#f28c6a"/>
<rect x="424.50" y="79.80" width="10.25" height="1.05" fill="#f07553"/>
<rect x="424.50" y="80.80" width="10.25" height="1.05" fill="#ef7350"/>
<rect x="424.50" y="81.80" width="10.25" height="1.05" fill="#f07a58"/>
<rect x="424.50" y="82.80" width="10.25" height="1.05" fill="#f07c5a"/>
<rect x="424.50" y="83.80" width="10.25" height="1.05" fill="#ef6f4d"/>
<rect x="424.50" y="84.80" width="10.25" height="1.05" fill="#f07856"/>
<rect x="424.50" y="85.80" width="10.25" height="1.05" fill="#ee6a47"/>
<rect x="424.50" y="86.80" width="10.25" height="1.05" fill="#ee6542"/>
<rect x="424.50" y="87.80" width="10.25" height="1.05" fill="#f07653"/>
<rect x="424.50" y="88.80" width="10.25" height="1.05" fill="#f07553"/>
<rect x="424.50" y="89.80" width="10.25" height="1.05" fill="#ef7351"/>
<rect x="424.50" y="90.80" width="10.25" height="1.05" fill="#f07754"/>
<rect x="424.50" y="91.80" width="10.25" height="1.05" fill="#f28967"/>
<rect x="424.50" y="92.80" width="10.25" height="1.05" fill="#f3906e"/>
<rect x="424.50" y="93.80" width="10.25" height="1.05" fill="#f17f5d"/>
<rect x="424.50" y="94.80" width="10.25" height="1.05" fill="#f07855"/>
<rect x="424.50" y="95.80" width="10.25" height="1.05" fill="#f07d5b"/>
<rect x="424.50" y="96.80" width="10.25" height="1.05" fill="#f07c5a"/>
<rect x="424.50" y="97.80" width="10.25" height="1.05" fill="#f17e5b"/>
<rect x="424.50" y="98.80" width="10.25" height="1.05" fill="#f07c5a"/>
<rect x="424.50" y="99.80" width="10.25" height="1.05" fill="#f07754"/>
<rect x="424.50" y="100.80" width="10.25" height="1.05" fill="#ef6d4a"/>
<rect x="424.50" y="101.80" width="10.25" height="1.05" fill="#ef714e"/>
<rect x="424.50" y="102.80" width="10.25" height="1.05" fill="#ef7451"/>
<rect x="424.50" y="103.80" width="10.25" height="1.05" fill="#ef704d"/>
<rect x="424.50" y="104.80" width="10.25" height="1.05" fill="#ee6744"/>
<rect x="424.50" y="105.80" width="10.25" height="1.05" fill="#f07755"/>
<rect x="424.50" y="106.80" width="10.25" height="1.05" fill="#f18260"/>
<rect x="424.50" y="107.80" width="10.25" height="1.05" fill="#f39371"/>
<rect x="424.50" y="108.80" width="10.25" height="1.05" fill="#f49e7d"/>
<rect x="424.50" y="109.80" width="10.25" height="1.05" fill="#f49d7c"/>
<rect x="424.50" y="110.80" width="10.25" height="1.05" fill="#f39170"/>
<rect x="424.50" y="111.80" width="10.25" height="1.05" fill="#f17e5c"/>
<rect x="424.50" y="112.80" width="10.25" height="1.05" fill="#f07b58"/>
<rect x="424.50" y="113.80" width="10.25" height="1.05" fill="#f17f5d"/>
<rect x="424.50" y="114.80" width="10.25" height="1.05" fill="#f39675"/>
<rect x="424.50" y="115.80" width="10.25" height="1.05" fill="#f17f5d"/>
<rect x="424.50" y="116.80" width="10.25" height="1.05" fill="#eb4b28"/>
<rect x="424.50" y="117.80" width="10.25" height="1.05" fill="#ec512e"/>
<rect x="424.50" y="118.80" width="10.25" height="1.05" fill="#ef6d4b"/>
<rect x="424.50" y="119.80" width="10.25" height="1.05" fill="#f1805e"/>
<rect x="424.50" y="120.80" width="10.25" height="1.05" fill="#f28765"/>
<rect x="424.50" y="121.80" width="10.25" height="1.05" fill="#f18664"/>
<rect x="424.50" y="122.80" width="10.25" height="1.05" fill="#f28c6a"/>
<rect x="424.50" y="123.80" width="10.25" height="1.05" fill="#f17e5c"/>
<rect x="424.50" y="124.80" width="10.25" height="1.05" fill="#ef6b49"/>
<rect x="424.50" y="125.80" width="10.25" height="1.05" fill="#ee623f"/>
<rect x="424.50" y="126.80" width="10.25" height="1.05" fill="#eb4c29"/>
<rect x="424.50" y="127.80" width="10.25" height="1.05" fill="#ed5936"/>
<rect x="424.50" y="128.80" width="10.25" height="1.05" fill="#ee6542"/>
<rect x="424.50" y="129.80" width="10.25" height="1.05" fill="#ee6946"/>
<rect x="424.50" y="130.80" width="10.25" height="1.05" fill="#ed5b38"/>
<rect x="424.50" y="131.80" width="10.25" height="1.05" fill="#ed5f3c"/>
<rect x="424.50" y="132.80" width="10.25" height="1.05" fill="#ee6845"/>
<rect x="424.50" y="133.80" width="10.25" height="1.05" fill="#ed5d3a"/>
<rect x="424.50" y="134.80" width="10.25" height="1.05" fill="#ec532f"/>
<rect x="424.50" y="135.80" width="10.25" height="1.05" fill="#ec5431"/>
<rect x="424.50" y="136.80" width="10.25" height="1.05" fill="#ee6a47"/>
<rect x="424.50" y="137.80" width="10.25" height="1.05" fill="#f1815f"/>
<rect x="424.50" y="138.80" width="10.25" height="1.05" fill="#f18360"/>
<rect x="424.50" y="139.80" width="10.25" height="1.05" fill="#f07956"/>
<rect x="424.50" y="140.80" width="10.25" height="1.05" fill="#ef7451"/>
<rect x="424.50" y="141.80" width="10.25" height="1.05" fill="#ed613e"/>
<rect x="424.50" y="142.80" width="10.25" height="1.05" fill="#ed613e"/>
<rect x="424.50" y="143.80" width="10.25" height="1.05" fill="#ef6f4c"/>
<rect x="424.50" y="144.80" width="10.25" height="1.05" fill="#ef6f4c"/>
<rect x="424.50" y="145.80" width="10.25" height="1.05" fill="#ed5f3b"/>
<rect x="424.50" y="146.80" width="10.25" height="1.05" fill="#ee6441"/>
<rect x="424.50" y="147.80" width="10.25" height="1.05" fill="#ed5e3b"/>
<rect x="424.50" y="148.80" width="10.25" height="1.05" fill="#eb4b28"/>
<rect x="424.50" y="149.80" width="10.25" height="1.05" fill="#ea4622"/>
<rect x="424.50" y="150.80" width="10.25" height="1.05" fill="#ed5b38"/>
<rect x="424.50" y="151.80" width="10.25" height="1.05" fill="#ed5b38"/>
<rect x="424.50" y="152.80" width="10.25" height="1.05" fill="#ec5633"/>
<rect x="424.50" y="153.80" width="10.25" height="1.05" fill="#ec512e"/>
<rect x="424.50" y="154.80" width="10.25" height="1.05" fill="#ed5a37"/>
<rect x="424.50" y="155.80" width="10.25" height="1.05" fill="#ed603c"/>
<rect x="424.50" y="156.80" width="10.25" height="1.05" fill="#ed603d"/>
<rect x="424.50" y="157.80" width="10.25" height="1.05" fill="#f07855"/>
<rect x="424.50" y="158.80" width="10.25" height="1.05" fill="#f28764"/>
<rect x="424.50" y="159.80" width="10.25" height="1.05" fill="#f28e6c"/>
<rect x="424.50" y="160.80" width="10.25" height="1.05" fill="#ee6b48"/>
<rect x="424.50" y="161.80" width="10.25" height="1.05" fill="#eb4824"/>
<rect x="424.50" y="162.80" width="10.25" height="1.05" fill="#eb4824"/>
<rect x="424.50" y="163.80" width="10.25" height="1.05" fill="#ec5633"/>
<rect x="424.50" y="164.80" width="10.25" height="1.05" fill="#eb4e2b"/>
<rect x="424.50" y="165.80" width="10.25" height="1.05" fill="#eb4825"/>
<rect x="424.50" y="166.80" width="10.25" height="1.05" fill="#e53b1d"/>
<rect x="424.50" y="167.80" width="10.25" height="1.05" fill="#d5231a"/>
<rect x="424.50" y="168.80" width="10.25" height="1.05" fill="#d4211a"/>
<rect x="424.50" y="169.80" width="10.25" height="1.05" fill="#cf1b19"/>
<rect x="424.50" y="170.80" width="10.25" height="1.05" fill="#d6241a"/>
<rect x="424.50" y="171.80" width="10.25" height="1.05" fill="#d8271b"/>
<rect x="424.50" y="172.80" width="10.25" height="1.05" fill="#df321c"/>
<rect x="424.50" y="173.80" width="10.25" height="1.05" fill="#ea431f"/>
<rect x="424.50" y="174.80" width="10.25" height="1.05" fill="#e53a1d"/>
<rect x="424.50" y="175.80" width="10.25" height="1.05" fill="#cc1619"/>
<rect x="424.50" y="176.80" width="10.25" height="1.05" fill="#ca1318"/>
<rect x="424.50" y="177.80" width="10.25" height="1.05" fill="#d5231a"/>
<rect x="424.50" y="178.80" width="10.25" height="1.05" fill="#d4211a"/>
<rect x="424.50" y="179.80" width="10.25" height="1.05" fill="#df321c"/>
<rect x="424.50" y="180.80" width="10.25" height="1.05" fill="#eb4a26"/>
<rect x="424.50" y="181.80" width="10.25" height="1.05" fill="#ea431f"/>
<rect x="424.50" y="182.80" width="10.25" height="1.05" fill="#e3371d"/>
<rect x="424.50" y="183.80" width="10.25" height="1.05" fill="#d6251b"/>
<rect x="424.50" y="184.80" width="10.25" height="1.05" fill="#e2361d"/>
<rect x="424.50" y="185.80" width="10.25" height="1.05" fill="#eb4925"/>
<rect x="424.50" y="186.80" width="10.25" height="1.05" fill="#eb4f2b"/>
<rect x="424.50" y="187.80" width="10.25" height="1.05" fill="#ed5d3a"/>
<rect x="424.50" y="188.80" width="10.25" height="1.05" fill="#ed623f"/>
<rect x="424.50" y="189.80" width="10.25" height="1.05" fill="#ec522f"/>
<rect x="424.50" y="190.80" width="10.25" height="1.05" fill="#e53b1d"/>
<rect x="424.50" y="191.80" width="10.25" height="1.05" fill="#e53a1d"/>
<rect x="424.50" y="192.80" width="10.25" height="1.05" fill="#ec5431"/>
<rect x="424.50" y="193.80" width="10.25" height="1.05" fill="#eb4f2b"/>
<rect x="424.50" y="194.80" width="10.25" height="1.05" fill="#ea4622"/>
<rect x="424.50" y="195.80" width="10.25" height="1.05" fill="#eb4925"/>
<rect x="424.50" y="196.80" width="10.25" height="1.05" fill="#eb4c29"/>
<rect x="424.50" y="197.80" width="10.25" height="1.05" fill="#dc2d1c"/>
<rect x="424.50" y="198.80" width="10.25" height="1.05" fill="#d6251a"/>
<rect x="424.50" y="199.80" width="10.25" height="1.05" fill="#da2b1b"/>
<rect x="424.50" y="200.80" width="10.25" height="1.05" fill="#d7261b"/>
<rect x="424.50" y="201.80" width="10.25" height="1.05" fill="#d4221a"/>
<rect x="424.50" y="202.80" width="10.25" height="1.05" fill="#d7261b"/>
<rect x="424.50" y="203.80" width="10.25" height="1.05" fill="#da2b1b"/>
<rect x="424.50" y="204.80" width="10.25" height="1.05" fill="#eb4723"/>
<rect x="424.50" y="205.80" width="10.25" height="1.05" fill="#ed603d"/>
<rect x="424.50" y="206.80" width="10.25" height="1.05" fill="#eb4925"/>
<rect x="424.50" y="207.80" width="10.25" height="1.05" fill="#dc2e1c"/>
<rect x="424.50" y="208.80" width="10.25" height="1.05" fill="#de311c"/>
<rect x="424.50" y="209.80" width="10.25" height="1.05" fill="#e3381d"/>
<rect x="424.50" y="210.80" width="10.25" height="1.05" fill="#e53a1d"/>
<rect x="424.50" y="211.80" width="10.25" height="1.05" fill="#da2b1b"/>
<rect x="434.70" y="43.80" width="10.25" height="1.05" fill="#f07d5b"/>
<rect x="434.70" y="44.80" width="10.25" height="1.05" fill="#f28765"/>
<rect x="434.70" y="45.80" width="10.25" height="1.05" fill="#f39674"/>
<rect x="434.70" y="46.80" width="10.25" height="1.05" fill="#f49d7b"/>
<rect x="434.70" y="47.80" width="10.25" height="1.05" fill="#f28967"/>
<rect x="434.70" y="48.80" width="10.25" height="1.05" fill="#f07c59"/>
<rect x="434.70" y="49.80" width="10.25" height="1.05" fill="#f28866"/>
<rect x="434.70" y="50.80" width="10.25" height="1.05" fill="#f28a68"/>
<rect x="434.70" y="51.80" width="10.25" height="1.05" fill="#ef7351"/>
<rect x="434.70" y="52.80" width="10.25" height="1.05" fill="#ee6542"/>
<rect x="434.70" y="53.80" width="10.25" height="1.05" fill="#ee6542"/>
<rect x="434.70" y="54.80" width="10.25" height="1.05" fill="#f07956"/>
<rect x="434.70" y="55.80" width="10.25" height="1.05" fill="#f28a68"/>
<rect x="434.70" y="56.80" width="10.25" height="1.05" fill="#f07957"/>
<rect x="434.70" y="57.80" width="10.25" height="1.05" fill="#f07c59"/>
<rect x="434.70" y="58.80" width="10.25" height="1.05" fill="#f07a57"/>
<rect x="434.70" y="59.80" width="10.25" height="1.05" fill="#ef704d"/>
<rect x="434.70" y="60.80" width="10.25" height="1.05" fill="#f07552"/>
<rect x="434.70" y="61.80" width="10.25" height="1.05" fill="#f07a57"/>
<rect x="434.70" y="62.80" width="10.25" height="1.05" fill="#f1815f"/>
<rect x="434.70" y="63.80" width="10.25" height="1.05" fill="#f17e5c"/>
<rect x="434.70" y="64.80" width="10.25" height="1.05" fill="#ed623f"/>
<rect x="434.70" y="65.80" width="10.25" height="1.05" fill="#ef6c4a"/>
<rect x="434.70" y="66.80" width="10.25" height="1.05" fill="#ef7350"/>
<rect x="434.70" y="67.80" width="10.25" height="1.05" fill="#f1815f"/>
<rect x="434.70" y="68.80" width="10.25" height="1.05" fill="#f18361"/>
<rect x="434.70" y="69.80" width="10.25" height="1.05" fill="#f07654"/>
<rect x="434.70" y="70.80" width="10.25" height="1.05" fill="#f07b58"/>
<rect x="434.70" y="71.80" width="10.25" height="1.05" fill="#f28765"/>
<rect x="434.70" y="72.80" width="10.25" height="1.05" fill="#f1805e"/>
<rect x="434.70" y="73.80" width="10.25" height="1.05" fill="#f17f5d"/>
<rect x="434.70" y="74.80" width="10.25" height="1.05" fill="#f6ac8b"/>
<rect x="434.70" y="75.80" width="10.25" height="1.05" fill="#f8bf9e"/>
<rect x="434.70" y="76.80" width="10.25" height="1.05" fill="#f5a482"/>
<rect x="434.70" y="77.80" width="10.25" height="1.05" fill="#f5a988"/>
<rect x="434.70" y="78.80" width="10.25" height="1.05" fill="#f7b897"/>
<rect x="434.70" y="79.80" width="10.25" height="1.05" fill="#f5a685"/>
<rect x="434.70" y="80.80" width="10.25" height="1.05" fill="#f49a78"/>
<rect x="434.70" y="81.80" width="10.25" height="1.05" fill="#f28a68"/>
<rect x="434.70" y="82.80" width="10.25" height="1.05" fill="#f17f5d"/>
<rect x="434.70" y="83.80" width="10.25" height="1.05" fill="#f17f5c"/>
<rect x="434.70" y="84.80" width="10.25" height="1.05" fill="#f18461"/>
<rect x="434.70" y="85.80" width="10.25" height="1.05" fill="#f28a68"/>
<rect x="434.70" y="86.80" width="10.25" height="1.05" fill="#f1805d"/>
<rect x="434.70" y="87.80" width="10.25" height="1.05" fill="#ef7250"/>
<rect x="434.70" y="88.80" width="10.25" height="1.05" fill="#f07957"/>
<rect x="434.70" y="89.80" width="10.25" height="1.05" fill="#f28e6c"/>
<rect x="434.70" y="90.80" width="10.25" height="1.05" fill="#f18563"/>
<rect x="434.70" y="91.80" width="10.25" height="1.05" fill="#f28b69"/>
<rect x="434.70" y="92.80" width="10.25" height="1.05" fill="#f49f7e"/>
<rect x="434.70" y="93.80" width="10.25" height="1.05" fill="#f49d7b"/>
<rect x="434.70" y="94.80" width="10.25" height="1.05" fill="#f3906f"/>
<rect x="434.70" y="95.80" width="10.25" height="1.05" fill="#f39270"/>
<rect x="434.70" y="96.80" width="10.25" height="1.05" fill="#f39674"/>
<rect x="434.70" y="97.80" width="10.25" height="1.05" fill="#f3916f"/>
<rect x="434.70" y="98.80" width="10.25" height="1.05" fill="#f39472"/>
<rect x="434.70" y="99.80" width="10.25" height="1.05" fill="#f49a78"/>
<rect x="434.70" y="100.80" width="10.25" height="1.05" fill="#f28c6a"/>
<rect x="434.70" y="101.80" width="10.25" height="1.05" fill="#f39574"/>
<rect x="434.70" y="102.80" width="10.25" height="1.05" fill="#f3916f"/>
<rect x="434.70" y="103.80" width="10.25" height="1.05" fill="#f18562"/>
<rect x="434.70" y="104.80" width="10.25" height="1.05" fill="#ef7250"/>
<rect x="434.70" y="105.80" width="10.25" height="1.05" fill="#f07552"/>
<rect x="434.70" y="106.80" width="10.25" height="1.05" fill="#f18462"/>
<rect x="434.70" y="107.80" width="10.25" height="1.05" fill="#f39270"/>
<rect x="434.70" y="108.80" width="10.25" height="1.05" fill="#f49f7e"/>
<rect x="434.70" y="109.80" width="10.25" height="1.05" fill="#f18664"/>
<rect x="434.70" y="110.80" width="10.25" height="1.05" fill="#ee6441"/>
<rect x="434.70" y="111.80" width="10.25" height="1.05" fill="#ef6c49"/>
<rect x="434.70" y="112.80" width="10.25" height="1.05" fill="#ef6e4c"/>
<rect x="434.70" y="113.80" width="10.25" height="1.05" fill="#f18563"/>
<rect x="434.70" y="114.80" width="10.25" height="1.05" fill="#f49c7b"/>
<rect x="434.70" y="115.80" width="10.25" height="1.05" fill="#f28966"/>
<rect x="434.70" y="116.80" width="10.25" height="1.05" fill="#ee6a47"/>
<rect x="434.70" y="117.80" width="10.25" height="1.05" fill="#f07956"/>
<rect x="434.70" y="118.80" width="10.25" height="1.05" fill="#f39371"/>
<rect x="434.70" y="119.80" width="10.25" height="1.05" fill="#f39674"/>
<rect x="434.70" y="120.80" width="10.25" height="1.05" fill="#f49d7c"/>
<rect x="434.70" y="121.80" width="10.25" height="1.05" fill="#f7b796"/>
<rect x="434.70" y="122.80" width="10.25" height="1.05" fill="#f9cbab"/>
<rect x="434.70" y="123.80" width="10.25" height="1.05" fill="#f6b08f"/>
<rect x="434.70" y="124.80" width="10.25" height="1.05" fill="#f28f6d"/>
<rect x="434.70" y="125.80" width="10.25" height="1.05" fill="#f28b69"/>
<rect x="434.70" y="126.80" width="10.25" height="1.05" fill="#f28967"/>
<rect x="434.70" y="127.80" width="10.25" height="1.05" fill="#f07c59"/>
<rect x="434.70" y="128.80" width="10.25" height="1.05" fill="#f07d5b"/>
<rect x="434.70" y="129.80" width="10.25" height="1.05" fill="#f07c5a"/>
<rect x="434.70" y="130.80" width="10.25" height="1.05" fill="#f07654"/>
<rect x="434.70" y="131.80" width="10.25" height="1.05" fill="#f28c6a"/>
<rect x="434.70" y="132.80" width="10.25" height="1.05" fill="#f5a382"/>
<rect x="434.70" y="133.80" width="10.25" height="1.05" fill="#f6b08f"/>
<rect x="434.70" y="134.80" width="10.25" height="1.05" fill="#f49a79"/>
<rect x="434.70" y="135.80" width="10.25" height="1.05" fill="#f39472"/>
<rect x="434.70" y="136.80" width="10.25" height="1.05" fill="#f49b7a"/>
<rect x="434.70" y="137.80" width="10.25" height="1.05" fill="#f5ab89"/>
<rect x="434.70" y="138.80" width="10.25" height="1.05" fill="#f5aa89"/>
<rect x="434.70" y="139.80" width="10.25" height="1.05" fill="#f39573"/>
<rect x="434.70" y="140.80" width="10.25" height="1.05" fill="#f17d5b"/>
<rect x="434.70" y="141.80" width="10.25" height="1.05" fill="#ef6b48"/>
<rect x="434.70" y="142.80" width="10.25" height="1.05" fill="#f07b59"/>
<rect x="434.70" y="143.80" width="10.25" height="1.05" fill="#f39371"/>
<rect x="434.70" y="144.80" width="10.25" height="1.05" fill="#f28f6d"/>
<rect x="434.70" y="145.80" width="10.25" height="1.05" fill="#f18361"/>
<rect x="434.70" y="146.80" width="10.25" height="1.05" fill="#f39472"/>
<rect x="434.70" y="147.80" width="10.25" height="1.05" fill="#f39876"/>
<rect x="434.70" y="148.80" width="10.25" height="1.05" fill="#f28a68"/>
<rect x="434.70" y="149.80" width="10.25" height="1.05" fill="#f07c5a"/>
<rect x="434.70" y="150.80" width="10.25" height="1.05" fill="#f07b59"/>
<rect x="434.70" y="151.80" width="10.25" height="1.05" fill="#ef7350"/>
<rect x="434.70" y="152.80" width="10.25" height="1.05" fill="#f1805d"/>
<rect x="434.70" y="153.80" width="10.25" height="1.05" fill="#f39371"/>
<rect x="434.70" y="154.80" width="10.25" height="1.05" fill="#f17f5d"/>
<rect x="434.70" y="155.80" width="10.25" height="1.05" fill="#f28866"/>
<rect x="434.70" y="156.80" width="10.25" height="1.05" fill="#f3916f"/>
<rect x="434.70" y="157.80" width="10.25" height="1.05" fill="#f3916f"/>
<rect x="434.70" y="158.80" width="10.25" height="1.05" fill="#f49c7b"/>
<rect x="434.70" y="159.80" width="10.25" height="1.05" fill="#f5a786"/>
<rect x="434.70" y="160.80" width="10.25" height="1.05" fill="#f39674"/>
<rect x="434.70" y="161.80" width="10.25" height="1.05" fill="#f18361"/>
<rect x="434.70" y="162.80" width="10.25" height="1.05" fill="#f07956"/>
<rect x="434.70" y="163.80" width="10.25" height="1.05" fill="#f18663"/>
<rect x="434.70" y="164.80" width="10.25" height="1.05" fill="#f1815f"/>
<rect x="434.70" y="165.80" width="10.25" height="1.05" fill="#f28765"/>
<rect x="434.70" y="166.80" width="10.25" height="1.05" fill="#f39775"/>
<rect x="434.70" y="167.80" width="10.25" height="1.05" fill="#f49c7a"/>
<rect x="434.70" y="168.80" width="10.25" height="1.05" fill="#f49977"/>
<rect x="434.70" y="169.80" width="10.25" height="1.05" fill="#f28f6e"/>
<rect x="434.70" y="170.80" width="10.25" height="1.05" fill="#f39371"/>
<rect x="434.70" y="171.80" width="10.25" height="1.05" fill="#f4a17f"/>
<rect x="434.70" y="172.80" width="10.25" height="1.05" fill="#f6af8e"/>
<rect x="434.70" y="173.80" width="10.25" height="1.05" fill="#f6b190"/>
<rect x="434.70" y="174.80" width="10.25" height="1.05" fill="#f49a78"/>
<rect x="434.70" y="175.80" width="10.25" height="1.05" fill="#f28d6b"/>
<rect x="434.70" y="176.80" width="10.25" height="1.05" fill="#f39674"/>
<rect x="434.70" y="177.80" width="10.25" height="1.05" fill="#f39674"/>
<rect x="434.70" y="178.80" width="10.25" height="1.05" fill="#f49a79"/>
<rect x="434.70" y="179.80" width="10.25" height="1.05" fill="#f39170"/>
<rect x="434.70" y="180.80" width="10.25" height="1.05" fill="#f18563"/>
<rect x="434.70" y="181.80" width="10.25" height="1.05" fill="#f17e5c"/>
<rect x="434.70" y="182.80" width="10.25" height="1.05" fill="#f1805e"/>
<rect x="434.70" y="183.80" width="10.25" height="1.05" fill="#f28e6c"/>
<rect x="434.70" y="184.80" width="10.25" height="1.05" fill="#f5a887"/>
<rect x="434.70" y="185.80" width="10.25" height="1.05" fill="#f7b897"/>
<rect x="434.70" y="186.80" width="10.25" height="1.05" fill="#f6ac8b"/>
<rect x="434.70" y="187.80" width="10.25" height="1.05" fill="#f4a07f"/>
<rect x="434.70" y="188.80" width="10.25" height="1.05" fill="#f39876"/>
<rect x="434.70" y="189.80" width="10.25" height="1.05" fill="#f4a180"/>
<rect x="434.70" y="190.80" width="10.25" height="1.05" fill="#f4a07f"/>
<rect x="434.70" y="191.80" width="10.25" height="1.05" fill="#f7b594"/>
<rect x="434.70" y="192.80" width="10.25" height="1.05" fill="#f9cdad"/>
<rect x="434.70" y="193.80" width="10.25" height="1.05" fill="#f6ad8c"/>
<rect x="434.70" y="194.80" width="10.25" height="1.05" fill="#f18664"/>
<rect x="434.70" y="195.80" width="10.25" height="1.05" fill="#f18260"/>
<rect x="434.70" y="196.80" width="10.25" height="1.05" fill="#f28765"/>
<rect x="434.70" y="197.80" width="10.25" height="1.05" fill="#f39876"/>
<rect x="434.70" y="198.80" width="10.25" height="1.05" fill="#f5a382"/>
<rect x="434.70" y="199.80" width="10.25" height="1.05" fill="#f3916f"/>
<rect x="434.70" y="200.80" width="10.25" height="1.05" fill="#f28b69"/>
<rect x="434.70" y="201.80" width="10.25" height="1.05" fill="#f5a685"/>
<rect x="434.70" y="202.80" width="10.25" height="1.05" fill="#f7b796"/>
<rect x="434.70" y="203.80" width="10.25" height="1.05" fill="#f6ac8b"/>
<rect x="434.70" y="204.80" width="10.25" height="1.05" fill="#f49f7e"/>
<rect x="434.70" y="205.80" width="10.25" height="1.05" fill="#f49f7e"/>
<rect x="434.70" y="206.80" width="10.25" height="1.05" fill="#f5a584"/>
<rect x="434.70" y="207.80" width="10.25" height="1.05" fill="#f8be9d"/>
<rect x="434.70" y="208.80" width="10.25" height="1.05" fill="#fad4b4"/>
<rect x="434.70" y="209.80" width="10.25" height="1.05" fill="#fad4b4"/>
<rect x="434.70" y="210.80" width="10.25" height="1.05" fill="#fad4b4"/>
<rect x="434.70" y="211.80" width="10.25" height="1.05" fill="#fad4b4"/>
<rect x="444.90" y="43.80" width="10.25" height="1.05" fill="#f3916f"/>
<rect x="444.90" y="44.80" width="10.25" height="1.05" fill="#f39674"/>
<rect x="444.90" y="45.80" width="10.25" height="1.05" fill="#f3916f"/>
<rect x="444.90" y="46.80" width="10.25" height="1.05" fill="#f28c6a"/>
<rect x="444.90" y="47.80" width="10.25" height="1.05" fill="#f18462"/>
<rect x="444.90" y="48.80" width="10.25" height="1.05" fill="#f07654"/>
<rect x="444.90" y="49.80" width="10.25" height="1.05" fill="#ed5b38"/>
<rect x="444.90" y="50.80" width="10.25" height="1.05" fill="#ed613e"/>
<rect x="444.90" y="51.80" width="10.25" height="1.05" fill="#ee6946"/>
<rect x="444.90" y="52.80" width="10.25" height="1.05" fill="#ee6744"/>
<rect x="444.90" y="53.80" width="10.25" height="1.05" fill="#ef7451"/>
<rect x="444.90" y="54.80" width="10.25" height="1.05" fill="#f28f6d"/>
<rect x="444.90" y="55.80" width="10.25" height="1.05" fill="#f28765"/>
<rect x="444.90" y="56.80" width="10.25" height="1.05" fill="#f28e6c"/>
<rect x="444.90" y="57.80" width="10.25" height="1.05" fill="#f5a382"/>
<rect x="444.90" y="58.80" width="10.25" height="1.05" fill="#f1815f"/>
<rect x="444.90" y="59.80" width="10.25" height="1.05" fill="#ed623e"/>
<rect x="444.90" y="60.80" width="10.25" height="1.05" fill="#ef6d4a"/>
<rect x="444.90" y="61.80" width="10.25" height="1.05" fill="#f07452"/>
<rect x="444.90" y="62.80" width="10.25" height="1.05" fill="#f07754"/>
<rect x="444.90" y="63.80" width="10.25" height="1.05" fill="#f07c59"/>
<rect x="444.90" y="64.80" width="10.25" height="1.05" fill="#ef6c49"/>
<rect x="444.90" y="65.80" width="10.25" height="1.05" fill="#ef6d4a"/>
<rect x="444.90" y="66.80" width="10.25" height="1.05" fill="#f07956"/>
<rect x="444.90" y="67.80" width="10.25" height="1.05" fill="#f18563"/>
<rect x="444.90" y="68.80" width="10.25" height="1.05" fill="#f1805d"/>
<rect x="444.90" y="69.80" width="10.25" height="1.05" fill="#f1815f"/>
<rect x="444.90" y="70.80" width="10.25" height="1.05" fill="#f28e6c"/>
<rect x="444.90" y="71.80" width="10.25" height="1.05" fill="#f49978"/>
<rect x="444.90" y="72.80" width="10.25" height="1.05" fill="#f18462"/>
<rect x="444.90" y="73.80" width="10.25" height="1.05" fill="#f1815f"/>
<rect x="444.90" y="74.80" width="10.25" height="1.05" fill="#f28b69"/>
<rect x="444.90" y="75.80" width="10.25" height="1.05" fill="#f49d7c"/>
<rect x="444.90" y="76.80" width="10.25" height="1.05" fill="#f6ad8c"/>
<rect x="444.90" y="77.80" width="10.25" height="1.05" fill="#f6ae8d"/>
<rect x="444.90" y="78.80" width="10.25" height="1.05" fill="#f5a382"/>
<rect x="444.90" y="79.80" width="10.25" height="1.05" fill="#f28f6d"/>
<rect x="444.90" y="80.80" width="10.25" height="1.05" fill="#f18664"/>
<rect x="444.90" y="81.80" width="10.25" height="1.05" fill="#f18360"/>
<rect x="444.90" y="82.80" width="10.25" height="1.05" fill="#f28a68"/>
<rect x="444.90" y="83.80" width="10.25" height="1.05" fill="#f39372"/>
<rect x="444.90" y="84.80" width="10.25" height="1.05" fill="#f49a78"/>
<rect x="444.90" y="85.80" width="10.25" height="1.05" fill="#f39473"/>
<rect x="444.90" y="86.80" width="10.25" height="1.05" fill="#f39775"/>
<rect x="444.90" y="87.80" width="10.25" height="1.05" fill="#f39372"/>
<rect x="444.90" y="88.80" width="10.25" height="1.05" fill="#f28967"/>
<rect x="444.90" y="89.80" width="10.25" height="1.05" fill="#f17f5d"/>
<rect x="444.90" y="90.80" width="10.25" height="1.05" fill="#ef704d"/>
<rect x="444.90" y="91.80" width="10.25" height="1.05" fill="#f07754"/>
<rect x="444.90" y="92.80" width="10.25" height="1.05" fill="#f39270"/>
<rect x="444.90" y="93.80" width="10.25" height="1.05" fill="#f28e6d"/>
<rect x="444.90" y="94.80" width="10.25" height="1.05" fill="#f28e6d"/>
<rect x="444.90" y="95.80" width="10.25" height="1.05" fill="#f49b7a"/>
<rect x="444.90" y="96.80" width="10.25" height="1.05" fill="#f6ab8a"/>
<rect x="444.90" y="97.80" width="10.25" height="1.05" fill="#f5a281"/>
<rect x="444.90" y="98.80" width="10.25" height="1.05" fill="#f39371"/>
<rect x="444.90" y="99.80" width="10.25" height="1.05" fill="#f3906e"/>
<rect x="444.90" y="100.80" width="10.25" height="1.05" fill="#f28866"/>
<rect x="444.90" y="101.80" width="10.25" height="1.05" fill="#f18462"/>
<rect x="444.90" y="102.80" width="10.25" height="1.05" fill="#f18461"/>
<rect x="444.90" y="103.80" width="10.25" height="1.05" fill="#f28f6d"/>
<rect x="444.90" y="104.80" width="10.25" height="1.05" fill="#f18462"/>
<rect x="444.90" y="105.80" width="10.25" height="1.05" fill="#ef704d"/>
<rect x="444.90" y="106.80" width="10.25" height="1.05" fill="#f07957"/>
<rect x="444.90" y="107.80" width="10.25" height="1.05" fill="#f18563"/>
<rect x="444.90" y="108.80" width="10.25" height="1.05" fill="#f39674"/>
<rect x="444.90" y="109.80" width="10.25" height="1.05" fill="#f49b7a"/>
<rect x="444.90" y="110.80" width="10.25" height="1.05" fill="#f28b69"/>
<rect x="444.90" y="111.80" width="10.25" height="1.05" fill="#f28967"/>
<rect x="444.90" y="112.80" width="10.25" height="1.05" fill="#f17e5b"/>
<rect x="444.90" y="113.80" width="10.25" height="1.05" fill="#f18664"/>
<rect x="444.90" y="114.80" width="10.25" height="1.05" fill="#f28866"/>
<rect x="444.90" y="115.80" width="10.25" height="1.05" fill="#f1805e"/>
<rect x="444.90" y="116.80" width="10.25" height="1.05" fill="#ee6a47"/>
<rect x="444.90" y="117.80" width="10.25" height="1.05" fill="#ec5834"/>
<rect x="444.90" y="118.80" width="10.25" height="1.05" fill="#ee6441"/>
<rect x="444.90" y="119.80" width="10.25" height="1.05" fill="#f18664"/>
<rect x="444.90" y="120.80" width="10.25" height="1.05" fill="#f4a07f"/>
<rect x="444.90" y="121.80" width="10.25" height="1.05" fill="#f4a07f"/>
<rect x="444.90" y="122.80" width="10.25" height="1.05" fill="#f39674"/>
<rect x="444.90" y="123.80" width="10.25" height="1.05" fill="#f18260"/>
<rect x="444.90" y="124.80" width="10.25" height="1.05" fill="#f28e6c"/>
<rect x="444.90" y="125.80" width="10.25" height="1.05" fill="#f39775"/>
<rect x="444.90" y="126.80" width="10.25" height="1.05" fill="#f18462"/>
<rect x="444.90" y="127.80" width="10.25" height="1.05" fill="#f07552"/>
<rect x="444.90" y="128.80" width="10.25" height="1.05" fill="#f07956"/>
<rect x="444.90" y="129.80" width="10.25" height="1.05" fill="#f3916f"/>
<rect x="444.90" y="130.80" width="10.25" height="1.05" fill="#f5a482"/>
<rect x="444.90" y="131.80" width="10.25" height="1.05" fill="#f5a887"/>
<rect x="444.90" y="132.80" width="10.25" height="1.05" fill="#f5a483"/>
<rect x="444.90" y="133.80" width="10.25" height="1.05" fill="#f39876"/>
<rect x="444.90" y="134.80" width="10.25" height="1.05" fill="#f28f6d"/>
<rect x="444.90" y="135.80" width="10.25" height="1.05" fill="#f39675"/>
<rect x="444.90" y="136.80" width="10.25" height="1.05" fill="#f28b69"/>
<rect x="444.90" y="137.80" width="10.25" height="1.05" fill="#f39270"/>
<rect x="444.90" y="138.80" width="10.25" height="1.05" fill="#f49d7b"/>
<rect x="444.90" y="139.80" width="10.25" height="1.05" fill="#f4a180"/>
<rect x="444.90" y="140.80" width="10.25" height="1.05" fill="#f39876"/>
<rect x="444.90" y="141.80" width="10.25" height="1.05" fill="#f18462"/>
<rect x="444.90" y="142.80" width="10.25" height="1.05" fill="#f07855"/>
<rect x="444.90" y="143.80" width="10.25" height="1.05" fill="#f07755"/>
<rect x="444.90" y="144.80" width="10.25" height="1.05" fill="#f17e5c"/>
<rect x="444.90" y="145.80" width="10.25" height="1.05" fill="#f07956"/>
<rect x="444.90" y="146.80" width="10.25" height="1.05" fill="#f07c59"/>
<rect x="444.90" y="147.80" width="10.25" height="1.05" fill="#f07553"/>
<rect x="444.90" y="148.80" width="10.25" height="1.05" fill="#ee6744"/>
<rect x="444.90" y="149.80" width="10.25" height="1.05" fill="#ed5936"/>
<rect x="444.90" y="150.80" width="10.25" height="1.05" fill="#ed623f"/>
<rect x="444.90" y="151.80" width="10.25" height="1.05" fill="#ef6f4c"/>
<rect x="444.90" y="152.80" width="10.25" height="1.05" fill="#f18462"/>
<rect x="444.90" y="153.80" width="10.25" height="1.05" fill="#f49978"/>
<rect x="444.90" y="154.80" width="10.25" height="1.05" fill="#f49d7b"/>
<rect x="444.90" y="155.80" width="10.25" height="1.05" fill="#f18462"/>
<rect x="444.90" y="156.80" width="10.25" height="1.05" fill="#f1815f"/>
<rect x="444.90" y="157.80" width="10.25" height="1.05" fill="#f39674"/>
<rect x="444.90" y="158.80" width="10.25" height="1.05" fill="#f4a180"/>
<rect x="444.90" y="159.80" width="10.25" height="1.05" fill="#f5a887"/>
<rect x="444.90" y="160.80" width="10.25" height="1.05" fill="#f49f7e"/>
<rect x="444.90" y="161.80" width="10.25" height="1.05" fill="#f18462"/>
<rect x="444.90" y="162.80" width="10.25" height="1.05" fill="#ef7451"/>
<rect x="444.90" y="163.80" width="10.25" height="1.05" fill="#f07b58"/>
<rect x="444.90" y="164.80" width="10.25" height="1.05" fill="#f18563"/>
<rect x="444.90" y="165.80" width="10.25" height="1.05" fill="#f18562"/>
<rect x="444.90" y="166.80" width="10.25" height="1.05" fill="#f07754"/>
<rect x="444.90" y="167.80" width="10.25" height="1.05" fill="#f07552"/>
<rect x="444.90" y="168.80" width="10.25" height="1.05" fill="#f18664"/>
<rect x="444.90" y="169.80" width="10.25" height="1.05" fill="#f28765"/>
<rect x="444.90" y="170.80" width="10.25" height="1.05" fill="#f07855"/>
<rect x="444.90" y="171.80" width="10.25" height="1.05" fill="#f18260"/>
<rect x="444.90" y="172.80" width="10.25" height="1.05" fill="#f28866"/>
<rect x="444.90" y="173.80" width="10.25" height="1.05" fill="#f07c5a"/>
<rect x="444.90" y="174.80" width="10.25" height="1.05" fill="#f17f5c"/>
<rect x="444.90" y="175.80" width="10.25" height="1.05" fill="#f17f5d"/>
<rect x="444.90" y="176.80" width="10.25" height="1.05" fill="#f07a58"/>
<rect x="444.90" y="177.80" width="10.25" height="1.05" fill="#f07b58"/>
<rect x="444.90" y="178.80" width="10.25" height="1.05" fill="#f28e6c"/>
<rect x="444.90" y="179.80" width="10.25" height="1.05" fill="#f49e7d"/>
<rect x="444.90" y="180.80" width="10.25" height="1.05" fill="#f49977"/>
<rect x="444.90" y="181.80" width="10.25" height="1.05" fill="#f28e6c"/>
<rect x="444.90" y="182.80" width="10.25" height="1.05" fill="#f49978"/>
<rect x="444.90" y="183.80" width="10.25" height="1.05" fill="#f28a68"/>
<rect x="444.90" y="184.80" width="10.25" height="1.05" fill="#f49b79"/>
<rect x="444.90" y="185.80" width="10.25" height="1.05" fill="#f7b594"/>
<rect x="444.90" y="186.80" width="10.25" height="1.05" fill="#f6b190"/>
<rect x="444.90" y="187.80" width="10.25" height="1.05" fill="#f49e7d"/>
<rect x="444.90" y="188.80" width="10.25" height="1.05" fill="#f28e6c"/>
<rect x="444.90" y="189.80" width="10.25" height="1.05" fill="#f39472"/>
<rect x="444.90" y="190.80" width="10.25" height="1.05" fill="#f1815e"/>
<rect x="444.90" y="191.80" width="10.25" height="1.05" fill="#f28966"/>
<rect x="444.90" y="192.80" width="10.25" height="1.05" fill="#f8c2a2"/>
<rect x="444.90" y="193.80" width="10.25" height="1.05" fill="#f8c1a1"/>
<rect x="444.90" y="194.80" width="10.25" height="1.05" fill="#f5aa89"/>
<rect x="444.90" y="195.80" width="10.25" height="1.05" fill="#f49c7a"/>
<rect x="444.90" y="196.80" width="10.25" height="1.05" fill="#f6b291"/>
<rect x="444.90" y="197.80" width="10.25" height="1.05" fill="#f8c09f"/>
<rect x="444.90" y="198.80" width="10.25" height="1.05" fill="#f5aa88"/>
<rect x="444.90" y="199.80" width="10.25" height="1.05" fill="#f28765"/>
<rect x="444.90" y="200.80" width="10.25" height="1.05" fill="#f07d5a"/>
<rect x="444.90" y="201.80" width="10.25" height="1.05" fill="#f17f5d"/>
<rect x="444.90" y="202.80" width="10.25" height="1.05" fill="#f07754"/>
<rect x="444.90" y="203.80" width="10.25" height="1.05" fill="#f18260"/>
<rect x="444.90" y="204.80" width="10.25" height="1.05" fill="#f3916f"/>
<rect x="444.90" y="205.80" width="10.25" height="1.05" fill="#f28d6b"/>
<rect x="444.90" y="206.80" width="10.25" height="1.05" fill="#f28d6b"/>
<rect x="444.90" y="207.80" width="10.25" height="1.05" fill="#f5aa89"/>
<rect x="444.90" y="208.80" width="10.25" height="1.05" fill="#fad4b4"/>
<rect x="444.90" y="209.80" width="10.25" height="1.05" fill="#fad4b4"/>
<rect x="444.90" y="210.80" width="10.25" height="1.05" fill="#f9cfaf"/>
<rect x="444.90" y="211.80" width="10.25" height="1.05" fill="#f9ceae"/>
<rect x="392.20" y="213.70" width="10.35" height="1.05" fill="#ed603d"/>
<rect x="392.20" y="214.70" width="10.35" height="1.05" fill="#ec5834"/>
<rect x="392.20" y="215.70" width="10.35" height="1.05" fill="#ec5734"/>
<rect x="392.20" y="216.70" width="10.35" height="1.05" fill="#ee623f"/>
<rect x="392.20" y="217.70" width="10.35" height="1.05" fill="#ed5b37"/>
<rect x="392.20" y="218.70" width="10.35" height="1.05" fill="#ed5f3c"/>
<rect x="392.20" y="219.70" width="10.35" height="1.05" fill="#ef714e"/>
<rect x="392.20" y="220.70" width="10.35" height="1.05" fill="#ef7350"/>
<rect x="392.20" y="221.70" width="10.35" height="1.05" fill="#ee6946"/>
<rect x="392.20" y="222.70" width="10.35" height="1.05" fill="#ed603c"/>
<rect x="392.20" y="223.70" width="10.35" height="1.05" fill="#ec5835"/>
<rect x="392.20" y="224.70" width="10.35" height="1.05" fill="#ec5834"/>
<rect x="392.20" y="225.70" width="10.35" height="1.05" fill="#eb4926"/>
<rect x="392.20" y="226.70" width="10.35" height="1.05" fill="#eb4f2c"/>
<rect x="392.20" y="227.70" width="10.35" height="1.05" fill="#ed613e"/>
<rect x="392.20" y="228.70" width="10.35" height="1.05" fill="#ed5b38"/>
<rect x="392.20" y="229.70" width="10.35" height="1.05" fill="#ed5c39"/>
<rect x="392.20" y="230.70" width="10.35" height="1.05" fill="#ed613e"/>
<rect x="392.20" y="231.70" width="10.35" height="1.05" fill="#ed5f3c"/>
<rect x="392.20" y="232.70" width="10.35" height="1.05" fill="#ed613e"/>
<rect x="392.20" y="233.70" width="10.35" height="1.05" fill="#ef7250"/>
<rect x="392.20" y="234.70" width="10.35" height="1.05" fill="#ee6946"/>
<rect x="392.20" y="235.70" width="10.35" height="1.05" fill="#ed623e"/>
<rect x="392.20" y="236.70" width="10.35" height="1.05" fill="#ee6643"/>
<rect x="392.20" y="237.70" width="10.35" height="1.05" fill="#ec5532"/>
<rect x="392.20" y="238.70" width="10.35" height="1.05" fill="#eb4824"/>
<rect x="392.20" y="239.70" width="10.35" height="1.05" fill="#ec512d"/>
<rect x="392.20" y="240.70" width="10.35" height="1.05" fill="#ed5a36"/>
<rect x="392.20" y="241.70" width="10.35" height="1.05" fill="#ec5734"/>
<rect x="392.20" y="242.70" width="10.35" height="1.05" fill="#ed5b38"/>
<rect x="392.20" y="243.70" width="10.35" height="1.05" fill="#ed5b38"/>
<rect x="392.20" y="244.70" width="10.35" height="1.05" fill="#ec5330"/>
<rect x="392.20" y="245.70" width="10.35" height="1.05" fill="#ea4320"/>
<rect x="392.20" y="246.70" width="10.35" height="1.05" fill="#ec5330"/>
<rect x="392.20" y="247.70" width="10.35" height="1.05" fill="#ec512d"/>
<rect x="392.20" y="248.70" width="10.35" height="1.05" fill="#eb4b27"/>
<rect x="392.20" y="249.70" width="10.35" height="1.05" fill="#ee6340"/>
<rect x="392.20" y="250.70" width="10.35" height="1.05" fill="#ee6a47"/>
<rect x="392.20" y="251.70" width="10.35" height="1.05" fill="#ec502c"/>
<rect x="392.20" y="252.70" width="10.35" height="1.05" fill="#ec5935"/>
<rect x="392.20" y="253.70" width="10.35" height="1.05" fill="#ee6643"/>
<rect x="392.20" y="254.70" width="10.35" height="1.05" fill="#ec5431"/>
<rect x="392.20" y="255.70" width="10.35" height="1.05" fill="#eb4c28"/>
<rect x="392.20" y="256.70" width="10.35" height="1.05" fill="#ed5c39"/>
<rect x="392.20" y="257.70" width="10.35" height="1.05" fill="#ed5f3c"/>
<rect x="392.20" y="258.70" width="10.35" height="1.05" fill="#ed623e"/>
<rect x="392.20" y="259.70" width="10.35" height="1.05" fill="#ef6e4c"/>
<rect x="392.20" y="260.70" width="10.35" height="1.05" fill="#ef6c49"/>
<rect x="392.20" y="261.70" width="10.35" height="1.05" fill="#ec5430"/>
<rect x="392.20" y="262.70" width="10.35" height="1.05" fill="#ea4420"/>
<rect x="392.20" y="263.70" width="10.35" height="1.05" fill="#e63d1d"/>
<rect x="392.20" y="264.70" width="10.35" height="1.05" fill="#dd2f1c"/>
<rect x="392.20" y="265.70" width="10.35" height="1.05" fill="#e53a1d"/>
<rect x="392.20" y="266.70" width="10.35" height="1.05" fill="#ec512d"/>
<rect x="392.20" y="267.70" width="10.35" height="1.05" fill="#ec5532"/>
<rect x="392.20" y="268.70" width="10.35" height="1.05" fill="#ec5531"/>
<rect x="392.20" y="269.70" width="10.35" height="1.05" fill="#ec5935"/>
<rect x="392.20" y="270.70" width="10.35" height="1.05" fill="#ec5431"/>
<rect x="392.20" y="271.70" width="10.35" height="1.05" fill="#eb4f2b"/>
<rect x="392.20" y="272.70" width="10.35" height="1.05" fill="#ed5d39"/>
<rect x="392.20" y="273.70" width="10.35" height="1.05" fill="#ef704d"/>
<rect x="392.20" y="274.70" width="10.35" height="1.05" fill="#ef6c4a"/>
<rect x="392.20" y="275.70" width="10.35" height="1.05" fill="#ed5c39"/>
<rect x="392.20" y="276.70" width="10.35" height="1.05" fill="#eb4e2b"/>
<rect x="392.20" y="277.70" width="10.35" height="1.05" fill="#eb4a27"/>
<rect x="392.20" y="278.70" width="10.35" height="1.05" fill="#ed5e3b"/>
<rect x="392.20" y="279.70" width="10.35" height="1.05" fill="#ee6845"/>
<rect x="392.20" y="280.70" width="10.35" height="1.05" fill="#ee6946"/>
<rect x="392.20" y="281.70" width="10.35" height="1.05" fill="#f07855"/>
<rect x="392.20" y="282.70" width="10.35" height="1.05" fill="#f07654"/>
<rect x="392.20" y="283.70" width="10.35" height="1.05" fill="#ed603c"/>
<rect x="392.20" y="284.70" width="10.35" height="1.05" fill="#ec522e"/>
<rect x="392.20" y="285.70" width="10.35" height="1.05" fill="#e9401e"/>
<rect x="392.20" y="286.70" width="10.35" height="1.05" fill="#e63c1d"/>
<rect x="392.20" y="287.70" width="10.35" height="1.05" fill="#eb4f2c"/>
<rect x="392.20" y="288.70" width="10.35" height="1.05" fill="#ee6845"/>
<rect x="392.20" y="289.70" width="10.35" height="1.05" fill="#ed5d3a"/>
<rect x="392.20" y="290.70" width="10.35" height="1.05" fill="#ec5431"/>
<rect x="392.20" y="291.70" width="10.35" height="1.05" fill="#ec502c"/>
<rect x="392.20" y="292.70" width="10.35" height="1.05" fill="#ec5430"/>
<rect x="392.20" y="293.70" width="10.35" height="1.05" fill="#ed603d"/>
<rect x="392.20" y="294.70" width="10.35" height="1.05" fill="#f07855"/>
<rect x="392.20" y="295.70" width="10.35" height="1.05" fill="#f28866"/>
<rect x="392.20" y="296.70" width="10.35" height="1.05" fill="#f18664"/>
<rect x="392.20" y="297.70" width="10.35" height="1.05" fill="#f18361"/>
<rect x="392.20" y="298.70" width="10.35" height="1.05" fill="#f07856"/>
<rect x="392.20" y="299.70" width="10.35" height="1.05" fill="#ee6441"/>
<rect x="392.20" y="300.70" width="10.35" height="1.05" fill="#ed5c39"/>
<rect x="392.20" y="301.70" width="10.35" height="1.05" fill="#ee6643"/>
<rect x="392.20" y="302.70" width="10.35" height="1.05" fill="#ed5c39"/>
<rect x="392.20" y="303.70" width="10.35" height="1.05" fill="#ed5936"/>
<rect x="392.20" y="304.70" width="10.35" height="1.05" fill="#ec5835"/>
<rect x="392.20" y="305.70" width="10.35" height="1.05" fill="#ee6542"/>
<rect x="392.20" y="306.70" width="10.35" height="1.05" fill="#ee6542"/>
<rect x="392.20" y="307.70" width="10.35" height="1.05" fill="#ed5e3b"/>
<rect x="392.20" y="308.70" width="10.35" height="1.05" fill="#ec5532"/>
<rect x="392.20" y="309.70" width="10.35" height="1.05" fill="#ec5633"/>
<rect x="392.20" y="310.70" width="10.35" height="1.05" fill="#eb4f2b"/>
<rect x="392.20" y="311.70" width="10.35" height="1.05" fill="#e73e1d"/>
<rect x="392.20" y="312.70" width="10.35" height="1.05" fill="#ea431f"/>
<rect x="392.20" y="313.70" width="10.35" height="1.05" fill="#ec5633"/>
<rect x="392.20" y="314.70" width="10.35" height="1.05" fill="#ed5d3a"/>
<rect x="392.20" y="315.70" width="10.35" height="1.05" fill="#ec5330"/>
<rect x="392.20" y="316.70" width="10.35" height="1.05" fill="#eb4c28"/>
<rect x="392.20" y="317.70" width="10.35" height="1.05" fill="#ed5e3a"/>
<rect x="392.20" y="318.70" width="10.35" height="1.05" fill="#ef6e4b"/>
<rect x="392.20" y="319.70" width="10.35" height="1.05" fill="#ef6d4a"/>
<rect x="392.20" y="320.70" width="10.35" height="1.05" fill="#ed5d3a"/>
<rect x="392.20" y="321.70" width="10.35" height="1.05" fill="#ef6c4a"/>
<rect x="392.20" y="322.70" width="10.35" height="1.05" fill="#ef6f4d"/>
<rect x="392.20" y="323.70" width="10.35" height="1.05" fill="#ed5d3a"/>
<rect x="392.20" y="324.70" width="10.35" height="1.05" fill="#ec512d"/>
<rect x="392.20" y="325.70" width="10.35" height="1.05" fill="#eb4d2a"/>
<rect x="392.20" y="326.70" width="10.35" height="1.05" fill="#eb4b27"/>
<rect x="392.20" y="327.70" width="10.35" height="1.05" fill="#e73e1e"/>
<rect x="392.20" y="328.70" width="10.35" height="1.05" fill="#eb4f2c"/>
<rect x="392.20" y="329.70" width="10.35" height="1.05" fill="#ec5734"/>
<rect x="392.20" y="330.70" width="10.35" height="1.05" fill="#ec5734"/>
<rect x="392.20" y="331.70" width="10.35" height="1.05" fill="#ec5430"/>
<rect x="392.20" y="332.70" width="10.35" height="1.05" fill="#e83f1e"/>
<rect x="392.20" y="333.70" width="10.35" height="1.05" fill="#eb4f2c"/>
<rect x="392.20" y="334.70" width="10.35" height="1.05" fill="#ec522f"/>
<rect x="392.20" y="335.70" width="10.35" height="1.05" fill="#eb4a26"/>
<rect x="392.20" y="336.70" width="10.35" height="1.05" fill="#ea4623"/>
<rect x="392.20" y="337.70" width="10.35" height="1.05" fill="#e8401e"/>
<rect x="392.20" y="338.70" width="10.35" height="1.05" fill="#e83f1e"/>
<rect x="392.20" y="339.70" width="10.35" height="1.05" fill="#eb4e2a"/>
<rect x="392.20" y="340.70" width="10.35" height="1.05" fill="#ec5835"/>
<rect x="392.20" y="341.70" width="10.35" height="1.05" fill="#ee6340"/>
<rect x="392.20" y="342.70" width="10.35" height="1.05" fill="#ed5936"/>
<rect x="392.20" y="343.70" width="10.35" height="1.05" fill="#eb4c29"/>
<rect x="392.20" y="344.70" width="10.35" height="1.05" fill="#e73d1d"/>
<rect x="392.20" y="345.70" width="10.35" height="1.05" fill="#e0341c"/>
<rect x="392.20" y="346.70" width="10.35" height="1.05" fill="#e9411e"/>
<rect x="392.20" y="347.70" width="10.35" height="1.05" fill="#e83f1e"/>
<rect x="392.20" y="348.70" width="10.35" height="1.05" fill="#ec5835"/>
<rect x="392.20" y="349.70" width="10.35" height="1.05" fill="#ed5b38"/>
<rect x="392.20" y="350.70" width="10.35" height="1.05" fill="#eb4a26"/>
<rect x="392.20" y="351.70" width="10.35" height="1.05" fill="#ec5834"/>
<rect x="392.20" y="352.70" width="10.35" height="1.05" fill="#ef724f"/>
<rect x="402.50" y="213.70" width="10.35" height="1.05" fill="#ef6c49"/>
<rect x="402.50" y="214.70" width="10.35" height="1.05" fill="#ed5d3a"/>
<rect x="402.50" y="215.70" width="10.35" height="1.05" fill="#ed5d3a"/>
<rect x="402.50" y="216.70" width="10.35" height="1.05" fill="#ed5e3b"/>
<rect x="402.50" y="217.70" width="10.35" height="1.05" fill="#ed5d3a"/>
<rect x="402.50" y="218.70" width="10.35" height="1.05" fill="#f1815e"/>
<rect x="402.50" y="219.70" width="10.35" height="1.05" fill="#f28f6d"/>
<rect x="402.50" y="220.70" width="10.35" height="1.05" fill="#ef714f"/>
<rect x="402.50" y="221.70" width="10.35" height="1.05" fill="#ec522f"/>
<rect x="402.50" y="222.70" width="10.35" height="1.05" fill="#ee6542"/>
<rect x="402.50" y="223.70" width="10.35" height="1.05" fill="#ef7350"/>
<rect x="402.50" y="224.70" width="10.35" height="1.05" fill="#ef6d4b"/>
<rect x="402.50" y="225.70" width="10.35" height="1.05" fill="#ee6340"/>
<rect x="402.50" y="226.70" width="10.35" height="1.05" fill="#ec5835"/>
<rect x="402.50" y="227.70" width="10.35" height="1.05" fill="#ee6946"/>
<rect x="402.50" y="228.70" width="10.35" height="1.05" fill="#ee6845"/>
<rect x="402.50" y="229.70" width="10.35" height="1.05" fill="#ed5f3c"/>
<rect x="402.50" y="230.70" width="10.35" height="1.05" fill="#eb4d29"/>
<rect x="402.50" y="231.70" width="10.35" height="1.05" fill="#ed5c39"/>
<rect x="402.50" y="232.70" width="10.35" height="1.05" fill="#ee6441"/>
<rect x="402.50" y="233.70" width="10.35" height="1.05" fill="#ee6744"/>
<rect x="402.50" y="234.70" width="10.35" height="1.05" fill="#ed5c39"/>
<rect x="402.50" y="235.70" width="10.35" height="1.05" fill="#ef6c49"/>
<rect x="402.50" y="236.70" width="10.35" height="1.05" fill="#f17f5d"/>
<rect x="402.50" y="237.70" width="10.35" height="1.05" fill="#ed5f3b"/>
<rect x="402.50" y="238.70" width="10.35" height="1.05" fill="#ec502c"/>
<rect x="402.50" y="239.70" width="10.35" height="1.05" fill="#ec5935"/>
<rect x="402.50" y="240.70" width="10.35" height="1.05" fill="#ef6f4d"/>
<rect x="402.50" y="241.70" width="10.35" height="1.05" fill="#f39472"/>
<rect x="402.50" y="242.70" width="10.35" height="1.05" fill="#f39270"/>
<rect x="402.50" y="243.70" width="10.35" height="1.05" fill="#ef6c49"/>
<rect x="402.50" y="244.70" width="10.35" height="1.05" fill="#ed623e"/>
<rect x="402.50" y="245.70" width="10.35" height="1.05" fill="#f07855"/>
<rect x="402.50" y="246.70" width="10.35" height="1.05" fill="#f28b69"/>
<rect x="402.50" y="247.70" width="10.35" height="1.05" fill="#f07c5a"/>
<rect x="402.50" y="248.70" width="10.35" height="1.05" fill="#ef6f4c"/>
<rect x="402.50" y="249.70" width="10.35" height="1.05" fill="#f07856"/>
<rect x="402.50" y="250.70" width="10.35" height="1.05" fill="#ef704d"/>
<rect x="402.50" y="251.70" width="10.35" height="1.05" fill="#ec522e"/>
<rect x="402.50" y="252.70" width="10.35" height="1.05" fill="#ec5633"/>
<rect x="402.50" y="253.70" width="10.35" height="1.05" fill="#ef6d4a"/>
<rect x="402.50" y="254.70" width="10.35" height="1.05" fill="#ef724f"/>
<rect x="402.50" y="255.70" width="10.35" height="1.05" fill="#f07a58"/>
<rect x="402.50" y="256.70" width="10.35" height="1.05" fill="#ef704d"/>
<rect x="402.50" y="257.70" width="10.35" height="1.05" fill="#ef6f4c"/>
<rect x="402.50" y="258.70" width="10.35" height="1.05" fill="#f28765"/>
<rect x="402.50" y="259.70" width="10.35" height="1.05" fill="#f39776"/>
<rect x="402.50" y="260.70" width="10.35" height="1.05" fill="#f18664"/>
<rect x="402.50" y="261.70" width="10.35" height="1.05" fill="#f07653"/>
<rect x="402.50" y="262.70" width="10.35" height="1.05" fill="#f07754"/>
<rect x="402.50" y="263.70" width="10.35" height="1.05" fill="#f07754"/>
<rect x="402.50" y="264.70" width="10.35" height="1.05" fill="#ed5936"/>
<rect x="402.50" y="265.70" width="10.35" height="1.05" fill="#ed5b38"/>
<rect x="402.50" y="266.70" width="10.35" height="1.05" fill="#f07856"/>
<rect x="402.50" y="267.70" width="10.35" height="1.05" fill="#ef6d4a"/>
<rect x="402.50" y="268.70" width="10.35" height="1.05" fill="#ed5f3c"/>
<rect x="402.50" y="269.70" width="10.35" height="1.05" fill="#ed5b38"/>
<rect x="402.50" y="270.70" width="10.35" height="1.05" fill="#ed5936"/>
<rect x="402.50" y="271.70" width="10.35" height="1.05" fill="#ee6643"/>
<rect x="402.50" y="272.70" width="10.35" height="1.05" fill="#ef704e"/>
<rect x="402.50" y="273.70" width="10.35" height="1.05" fill="#f17e5c"/>
<rect x="402.50" y="274.70" width="10.35" height="1.05" fill="#f07b59"/>
<rect x="402.50" y="275.70" width="10.35" height="1.05" fill="#ee6744"/>
<rect x="402.50" y="276.70" width="10.35" height="1.05" fill="#ee6b48"/>
<rect x="402.50" y="277.70" width="10.35" height="1.05" fill="#f07654"/>
<rect x="402.50" y="278.70" width="10.35" height="1.05" fill="#f17e5b"/>
<rect x="402.50" y="279.70" width="10.35" height="1.05" fill="#f17f5d"/>
<rect x="402.50" y="280.70" width="10.35" height="1.05" fill="#f07a57"/>
<rect x="402.50" y="281.70" width="10.35" height="1.05" fill="#f1805d"/>
<rect x="402.50" y="282.70" width="10.35" height="1.05" fill="#f07d5b"/>
<rect x="402.50" y="283.70" width="10.35" height="1.05" fill="#ed5c38"/>
<rect x="402.50" y="284.70" width="10.35" height="1.05" fill="#eb4d29"/>
<rect x="402.50" y="285.70" width="10.35" height="1.05" fill="#ed5e3b"/>
<rect x="402.50" y="286.70" width="10.35" height="1.05" fill="#ec5835"/>
<rect x="402.50" y="287.70" width="10.35" height="1.05" fill="#ec502c"/>
<rect x="402.50" y="288.70" width="10.35" height="1.05" fill="#eb4925"/>
<rect x="402.50" y="289.70" width="10.35" height="1.05" fill="#eb4a27"/>
<rect x="402.50" y="290.70" width="10.35" height="1.05" fill="#ec5734"/>
<rect x="402.50" y="291.70" width="10.35" height="1.05" fill="#ed613d"/>
<rect x="402.50" y="292.70" width="10.35" height="1.05" fill="#ed5c39"/>
<rect x="402.50" y="293.70" width="10.35" height="1.05" fill="#ec512e"/>
<rect x="402.50" y="294.70" width="10.35" height="1.05" fill="#ef6e4b"/>
<rect x="402.50" y="295.70" width="10.35" height="1.05" fill="#ef6c49"/>
<rect x="402.50" y="296.70" width="10.35" height="1.05" fill="#ef724f"/>
<rect x="402.50" y="297.70" width="10.35" height="1.05" fill="#f1815e"/>
<rect x="402.50" y="298.70" width="10.35" height="1.05" fill="#f07754"/>
<rect x="402.50" y="299.70" width="10.35" height="1.05" fill="#ef6c49"/>
<rect x="402.50" y="300.70" width="10.35" height="1.05" fill="#f18664"/>
<rect x="402.50" y="301.70" width="10.35" height="1.05" fill="#f18260"/>
<rect x="402.50" y="302.70" width="10.35" height="1.05" fill="#f07452"/>
<rect x="402.50" y="303.70" width="10.35" height="1.05" fill="#f18664"/>
<rect x="402.50" y="304.70" width="10.35" height="1.05" fill="#f39371"/>
<rect x="402.50" y="305.70" width="10.35" height="1.05" fill="#f18361"/>
<rect x="402.50" y="306.70" width="10.35" height="1.05" fill="#f18260"/>
<rect x="402.50" y="307.70" width="10.35" height="1.05" fill="#f07b59"/>
<rect x="402.50" y="308.70" width="10.35" height="1.05" fill="#f07552"/>
<rect x="402.50" y="309.70" width="10.35" height="1.05" fill="#ee6744"/>
<rect x="402.50" y="310.70" width="10.35" height="1.05" fill="#ee6845"/>
<rect x="402.50" y="311.70" width="10.35" height="1.05" fill="#f07b58"/>
<rect x="402.50" y="312.70" width="10.35" height="1.05" fill="#f07654"/>
<rect x="402.50" y="313.70" width="10.35" height="1.05" fill="#f07d5a"/>
<rect x="402.50" y="314.70" width="10.35" height="1.05" fill="#f28f6d"/>
<rect x="402.50" y="315.70" width="10.35" height="1.05" fill="#f07b59"/>
<rect x="402.50" y="316.70" width="10.35" height="1.05" fill="#ee6845"/>
<rect x="402.50" y="317.70" width="10.35" height="1.05" fill="#f07c5a"/>
<rect x="402.50" y="318.70" width="10.35" height="1.05" fill="#f07d5a"/>
<rect x="402.50" y="319.70" width="10.35" height="1.05" fill="#f18664"/>
<rect x="402.50" y="320.70" width="10.35" height="1.05" fill="#f1805d"/>
<rect x="402.50" y="321.70" width="10.35" height="1.05" fill="#ee6b48"/>
<rect x="402.50" y="322.70" width="10.35" height="1.05" fill="#ee6946"/>
<rect x="402.50" y="323.70" width="10.35" height="1.05" fill="#ee6b48"/>
<rect x="402.50" y="324.70" width="10.35" height="1.05" fill="#ed613e"/>
<rect x="402.50" y="325.70" width="10.35" height="1.05" fill="#ef6e4b"/>
<rect x="402.50" y="326.70" width="10.35" height="1.05" fill="#f07754"/>
<rect x="402.50" y="327.70" width="10.35" height="1.05" fill="#ec5330"/>
<rect x="402.50" y="328.70" width="10.35" height="1.05" fill="#ed5e3a"/>
<rect x="402.50" y="329.70" width="10.35" height="1.05" fill="#ee6a47"/>
<rect x="402.50" y="330.70" width="10.35" height="1.05" fill="#ef6e4b"/>
<rect x="402.50" y="331.70" width="10.35" height="1.05" fill="#ef704d"/>
<rect x="402.50" y="332.70" width="10.35" height="1.05" fill="#ed5f3c"/>
<rect x="402.50" y="333.70" width="10.35" height="1.05" fill="#ef704d"/>
<rect x="402.50" y="334.70" width="10.35" height="1.05" fill="#f07552"/>
<rect x="402.50" y="335.70" width="10.35" height="1.05" fill="#ed5e3b"/>
<rect x="402.50" y="336.70" width="10.35" height="1.05" fill="#eb4e2a"/>
<rect x="402.50" y="337.70" width="10.35" height="1.05" fill="#ec5632"/>
<rect x="402.50" y="338.70" width="10.35" height="1.05" fill="#ee6744"/>
<rect x="402.50" y="339.70" width="10.35" height="1.05" fill="#ef6c49"/>
<rect x="402.50" y="340.70" width="10.35" height="1.05" fill="#ef714e"/>
<rect x="402.50" y="341.70" width="10.35" height="1.05" fill="#f18260"/>
<rect x="402.50" y="342.70" width="10.35" height="1.05" fill="#f18664"/>
<rect x="402.50" y="343.70" width="10.35" height="1.05" fill="#f18664"/>
<rect x="402.50" y="344.70" width="10.35" height="1.05" fill="#ee6542"/>
<rect x="402.50" y="345.70" width="10.35" height="1.05" fill="#eb4f2c"/>
<rect x="402.50" y="346.70" width="10.35" height="1.05" fill="#ee6946"/>
<rect x="402.50" y="347.70" width="10.35" height="1.05" fill="#ef7350"/>
<rect x="402.50" y="348.70" width="10.35" height="1.05" fill="#f07d5b"/>
<rect x="402.50" y="349.70" width="10.35" height="1.05" fill="#f18260"/>
<rect x="402.50" y="350.70" width="10.35" height="1.05" fill="#f07c5a"/>
<rect x="402.50" y="351.70" width="10.35" height="1.05" fill="#f17d5b"/>
<rect x="402.50" y="352.70" width="10.35" height="1.05" fill="#f28866"/>
<rect x="412.80" y="213.70" width="10.25" height="1.05" fill="#f4a280"/>
<rect x="412.80" y="214.70" width="10.25" height="1.05" fill="#f39372"/>
<rect x="412.80" y="215.70" width="10.25" height="1.05" fill="#f39270"/>
<rect x="412.80" y="216.70" width="10.25" height="1.05" fill="#f49d7b"/>
<rect x="412.80" y="217.70" width="10.25" height="1.05" fill="#f28a68"/>
<rect x="412.80" y="218.70" width="10.25" height="1.05" fill="#f28866"/>
<rect x="412.80" y="219.70" width="10.25" height="1.05" fill="#f39675"/>
<rect x="412.80" y="220.70" width="10.25" height="1.05" fill="#f4a280"/>
<rect x="412.80" y="221.70" width="10.25" height="1.05" fill="#f6b392"/>
<rect x="412.80" y="222.70" width="10.25" height="1.05" fill="#f6ad8c"/>
<rect x="412.80" y="223.70" width="10.25" height="1.05" fill="#f4a07e"/>
<rect x="412.80" y="224.70" width="10.25" height="1.05" fill="#f39371"/>
<rect x="412.80" y="225.70" width="10.25" height="1.05" fill="#f49e7c"/>
<rect x="412.80" y="226.70" width="10.25" height="1.05" fill="#f6b190"/>
<rect x="412.80" y="227.70" width="10.25" height="1.05" fill="#f6b392"/>
<rect x="412.80" y="228.70" width="10.25" height="1.05" fill="#f39573"/>
<rect x="412.80" y="229.70" width="10.25" height="1.05" fill="#f28e6c"/>
<rect x="412.80" y="230.70" width="10.25" height="1.05" fill="#f18260"/>
<rect x="412.80" y="231.70" width="10.25" height="1.05" fill="#f07553"/>
<rect x="412.80" y="232.70" width="10.25" height="1.05" fill="#f07957"/>
<rect x="412.80" y="233.70" width="10.25" height="1.05" fill="#ef7351"/>
<rect x="412.80" y="234.70" width="10.25" height="1.05" fill="#ee6946"/>
<rect x="412.80" y="235.70" width="10.25" height="1.05" fill="#f28d6b"/>
<rect x="412.80" y="236.70" width="10.25" height="1.05" fill="#f39876"/>
<rect x="412.80" y="237.70" width="10.25" height="1.05" fill="#f07a58"/>
<rect x="412.80" y="238.70" width="10.25" height="1.05" fill="#f07754"/>
<rect x="412.80" y="239.70" width="10.25" height="1.05" fill="#f49a79"/>
<rect x="412.80" y="240.70" width="10.25" height="1.05" fill="#f6b190"/>
<rect x="412.80" y="241.70" width="10.25" height="1.05" fill="#f8c2a1"/>
<rect x="412.80" y="242.70" width="10.25" height="1.05" fill="#f7b998"/>
<rect x="412.80" y="243.70" width="10.25" height="1.05" fill="#f4a07f"/>
<rect x="412.80" y="244.70" width="10.25" height="1.05" fill="#f4a07f"/>
<rect x="412.80" y="245.70" width="10.25" height="1.05" fill="#f39270"/>
<rect x="412.80" y="246.70" width="10.25" height="1.05" fill="#f39371"/>
<rect x="412.80" y="247.70" width="10.25" height="1.05" fill="#f28866"/>
<rect x="412.80" y="248.70" width="10.25" height="1.05" fill="#f28c6a"/>
<rect x="412.80" y="249.70" width="10.25" height="1.05" fill="#f7b594"/>
<rect x="412.80" y="250.70" width="10.25" height="1.05" fill="#f6ad8b"/>
<rect x="412.80" y="251.70" width="10.25" height="1.05" fill="#f28f6d"/>
<rect x="412.80" y="252.70" width="10.25" height="1.05" fill="#f28c6a"/>
<rect x="412.80" y="253.70" width="10.25" height="1.05" fill="#f28d6b"/>
<rect x="412.80" y="254.70" width="10.25" height="1.05" fill="#f17d5b"/>
<rect x="412.80" y="255.70" width="10.25" height="1.05" fill="#f07653"/>
<rect x="412.80" y="256.70" width="10.25" height="1.05" fill="#f1805e"/>
<rect x="412.80" y="257.70" width="10.25" height="1.05" fill="#f28967"/>
<rect x="412.80" y="258.70" width="10.25" height="1.05" fill="#f3916f"/>
<rect x="412.80" y="259.70" width="10.25" height="1.05" fill="#f5a281"/>
<rect x="412.80" y="260.70" width="10.25" height="1.05" fill="#f8c4a4"/>
<rect x="412.80" y="261.70" width="10.25" height="1.05" fill="#f9c9a9"/>
<rect x="412.80" y="262.70" width="10.25" height="1.05" fill="#f5a887"/>
<rect x="412.80" y="263.70" width="10.25" height="1.05" fill="#f49e7d"/>
<rect x="412.80" y="264.70" width="10.25" height="1.05" fill="#f5a483"/>
<rect x="412.80" y="265.70" width="10.25" height="1.05" fill="#f49a79"/>
<rect x="412.80" y="266.70" width="10.25" height="1.05" fill="#f49978"/>
<rect x="412.80" y="267.70" width="10.25" height="1.05" fill="#f39977"/>
<rect x="412.80" y="268.70" width="10.25" height="1.05" fill="#f5a483"/>
<rect x="412.80" y="269.70" width="10.25" height="1.05" fill="#f5a988"/>
<rect x="412.80" y="270.70" width="10.25" height="1.05" fill="#f4a17f"/>
<rect x="412.80" y="271.70" width="10.25" height="1.05" fill="#f5a584"/>
<rect x="412.80" y="272.70" width="10.25" height="1.05" fill="#f3916f"/>
<rect x="412.80" y="273.70" width="10.25" height="1.05" fill="#f28f6e"/>
<rect x="412.80" y="274.70" width="10.25" height="1.05" fill="#f49a78"/>
<rect x="412.80" y="275.70" width="10.25" height="1.05" fill="#f5ab8a"/>
<rect x="412.80" y="276.70" width="10.25" height="1.05" fill="#f39473"/>
<rect x="412.80" y="277.70" width="10.25" height="1.05" fill="#f3906e"/>
<rect x="412.80" y="278.70" width="10.25" height="1.05" fill="#f5a786"/>
<rect x="412.80" y="279.70" width="10.25" height="1.05" fill="#f5a988"/>
<rect x="412.80" y="280.70" width="10.25" height="1.05" fill="#f49978"/>
<rect x="412.80" y="281.70" width="10.25" height="1.05" fill="#f39876"/>
<rect x="412.80" y="282.70" width="10.25" height="1.05" fill="#f28b69"/>
<rect x="412.80" y="283.70" width="10.25" height="1.05" fill="#f28c6a"/>
<rect x="412.80" y="284.70" width="10.25" height="1.05" fill="#f28967"/>
<rect x="412.80" y="285.70" width="10.25" height="1.05" fill="#f07c59"/>
<rect x="412.80" y="286.70" width="10.25" height="1.05" fill="#ef7451"/>
<rect x="412.80" y="287.70" width="10.25" height="1.05" fill="#f07552"/>
<rect x="412.80" y="288.70" width="10.25" height="1.05" fill="#f1805d"/>
<rect x="412.80" y="289.70" width="10.25" height="1.05" fill="#f49c7a"/>
<rect x="412.80" y="290.70" width="10.25" height="1.05" fill="#f5a281"/>
<rect x="412.80" y="291.70" width="10.25" height="1.05" fill="#f07d5a"/>
<rect x="412.80" y="292.70" width="10.25" height="1.05" fill="#f07a58"/>
<rect x="412.80" y="293.70" width="10.25" height="1.05" fill="#f28866"/>
<rect x="412.80" y="294.70" width="10.25" height="1.05" fill="#f49b7a"/>
<rect x="412.80" y="295.70" width="10.25" height="1.05" fill="#f39574"/>
<rect x="412.80" y="296.70" width="10.25" height="1.05" fill="#f39775"/>
<rect x="412.80" y="297.70" width="10.25" height="1.05" fill="#f39876"/>
<rect x="412.80" y="298.70" width="10.25" height="1.05" fill="#f5a584"/>
<rect x="412.80" y="299.70" width="10.25" height="1.05" fill="#f49f7d"/>
<rect x="412.80" y="300.70" width="10.25" height="1.05" fill="#f5a281"/>
<rect x="412.80" y="301.70" width="10.25" height="1.05" fill="#f5a887"/>
<rect x="412.80" y="302.70" width="10.25" height="1.05" fill="#f28c6a"/>
<rect x="412.80" y="303.70" width="10.25" height="1.05" fill="#f28967"/>
<rect x="412.80" y="304.70" width="10.25" height="1.05" fill="#f5a684"/>
<rect x="412.80" y="305.70" width="10.25" height="1.05" fill="#f5a786"/>
<rect x="412.80" y="306.70" width="10.25" height="1.05" fill="#f5a786"/>
<rect x="412.80" y="307.70" width="10.25" height="1.05" fill="#f6b493"/>
<rect x="412.80" y="308.70" width="10.25" height="1.05" fill="#f5a583"/>
<rect x="412.80" y="309.70" width="10.25" height="1.05" fill="#f18462"/>
<rect x="412.80" y="310.70" width="10.25" height="1.05" fill="#f18360"/>
<rect x="412.80" y="311.70" width="10.25" height="1.05" fill="#f5a381"/>
<rect x="412.80" y="312.70" width="10.25" height="1.05" fill="#f5a483"/>
<rect x="412.80" y="313.70" width="10.25" height="1.05" fill="#f18664"/>
<rect x="412.80" y="314.70" width="10.25" height="1.05" fill="#f07856"/>
<rect x="412.80" y="315.70" width="10.25" height="1.05" fill="#f07a58"/>
<rect x="412.80" y="316.70" width="10.25" height="1.05" fill="#f07855"/>
<rect x="412.80" y="317.70" width="10.25" height="1.05" fill="#f18562"/>
<rect x="412.80" y="318.70" width="10.25" height="1.05" fill="#f3906e"/>
<rect x="412.80" y="319.70" width="10.25" height="1.05" fill="#f17f5d"/>
<rect x="412.80" y="320.70" width="10.25" height="1.05" fill="#f07c5a"/>
<rect x="412.80" y="321.70" width="10.25" height="1.05" fill="#f39371"/>
<rect x="412.80" y="322.70" width="10.25" height="1.05" fill="#f39270"/>
<rect x="412.80" y="323.70" width="10.25" height="1.05" fill="#f39170"/>
<rect x="412.80" y="324.70" width="10.25" height="1.05" fill="#f39877"/>
<rect x="412.80" y="325.70" width="10.25" height="1.05" fill="#f6ab8a"/>
<rect x="412.80" y="326.70" width="10.25" height="1.05" fill="#f5a785"/>
<rect x="412.80" y="327.70" width="10.25" height="1.05" fill="#f28c6a"/>
<rect x="412.80" y="328.70" width="10.25" height="1.05" fill="#f39674"/>
<rect x="412.80" y="329.70" width="10.25" height="1.05" fill="#f6b291"/>
<rect x="412.80" y="330.70" width="10.25" height="1.05" fill="#f5a685"/>
<rect x="412.80" y="331.70" width="10.25" height="1.05" fill="#f28e6c"/>
<rect x="412.80" y="332.70" width="10.25" height="1.05" fill="#f28d6b"/>
<rect x="412.80" y="333.70" width="10.25" height="1.05" fill="#f5a483"/>
<rect x="412.80" y="334.70" width="10.25" height="1.05" fill="#f7b897"/>
<rect x="412.80" y="335.70" width="10.25" height="1.05" fill="#f8be9e"/>
<rect x="412.80" y="336.70" width="10.25" height="1.05" fill="#f6ae8d"/>
<rect x="412.80" y="337.70" width="10.25" height="1.05" fill="#f39270"/>
<rect x="412.80" y="338.70" width="10.25" height="1.05" fill="#f28765"/>
<rect x="412.80" y="339.70" width="10.25" height="1.05" fill="#f28765"/>
<rect x="412.80" y="340.70" width="10.25" height="1.05" fill="#f3916f"/>
<rect x="412.80" y="341.70" width="10.25" height="1.05" fill="#f5a988"/>
<rect x="412.80" y="342.70" width="10.25" height="1.05" fill="#f7b897"/>
<rect x="412.80" y="343.70" width="10.25" height="1.05" fill="#f39876"/>
<rect x="412.80" y="344.70" width="10.25" height="1.05" fill="#ee6744"/>
<rect x="412.80" y="345.70" width="10.25" height="1.05" fill="#ee6340"/>
<rect x="412.80" y="346.70" width="10.25" height="1.05" fill="#f07654"/>
<rect x="412.80" y="347.70" width="10.25" height="1.05" fill="#ef6e4b"/>
<rect x="412.80" y="348.70" width="10.25" height="1.05" fill="#f07755"/>
<rect x="412.80" y="349.70" width="10.25" height="1.05" fill="#f28e6c"/>
<rect x="412.80" y="350.70" width="10.25" height="1.05" fill="#f28c6a"/>
<rect x="412.80" y="351.70" width="10.25" height="1.05" fill="#f18563"/>
<rect x="412.80" y="352.70" width="10.25" height="1.05" fill="#f3916f"/>
<rect x="424.50" y="213.70" width="10.25" height="1.05" fill="#8d75c7"/>
<rect x="424.50" y="214.70" width="10.25" height="1.05" fill="#876ec3"/>
<rect x="424.50" y="215.70" width="10.25" height="1.05" fill="#7b61bd"/>
<rect x="424.50" y="216.70" width="10.25" height="1.05" fill="#6f54b7"/>
<rect x="424.50" y="217.70" width="10.25" height="1.05" fill="#765cba"/>
<rect x="424.50" y="218.70" width="10.25" height="1.05" fill="#836ac1"/>
<rect x="424.50" y="219.70" width="10.25" height="1.05" fill="#7f66bf"/>
<rect x="424.50" y="220.70" width="10.25" height="1.05" fill="#745ab9"/>
<rect x="424.50" y="221.70" width="10.25" height="1.05" fill="#785ebc"/>
<rect x="424.50" y="222.70" width="10.25" height="1.05" fill="#9b85ce"/>
<rect x="424.50" y="223.70" width="10.25" height="1.05" fill="#a18cd2"/>
<rect x="424.50" y="224.70" width="10.25" height="1.05" fill="#917ac9"/>
<rect x="424.50" y="225.70" width="10.25" height="1.05" fill="#856cc3"/>
<rect x="424.50" y="226.70" width="10.25" height="1.05" fill="#775dbb"/>
<rect x="424.50" y="227.70" width="10.25" height="1.05" fill="#745aba"/>
<rect x="424.50" y="228.70" width="10.25" height="1.05" fill="#7f65bf"/>
<rect x="424.50" y="229.70" width="10.25" height="1.05" fill="#846bc2"/>
<rect x="424.50" y="230.70" width="10.25" height="1.05" fill="#7c62bd"/>
<rect x="424.50" y="231.70" width="10.25" height="1.05" fill="#8066c0"/>
<rect x="424.50" y="232.70" width="10.25" height="1.05" fill="#866dc3"/>
<rect x="424.50" y="233.70" width="10.25" height="1.05" fill="#7a60bd"/>
<rect x="424.50" y="234.70" width="10.25" height="1.05" fill="#866ec3"/>
<rect x="424.50" y="235.70" width="10.25" height="1.05" fill="#9e88d0"/>
<rect x="424.50" y="236.70" width="10.25" height="1.05" fill="#8e77c7"/>
<rect x="424.50" y="237.70" width="10.25" height="1.05" fill="#745aba"/>
<rect x="424.50" y="238.70" width="10.25" height="1.05" fill="#7256b8"/>
<rect x="424.50" y="239.70" width="10.25" height="1.05" fill="#7156b8"/>
<rect x="424.50" y="240.70" width="10.25" height="1.05" fill="#7c62be"/>
<rect x="424.50" y="241.70" width="10.25" height="1.05" fill="#9881cc"/>
<rect x="424.50" y="242.70" width="10.25" height="1.05" fill="#8f77c8"/>
<rect x="424.50" y="243.70" width="10.25" height="1.05" fill="#856cc2"/>
<rect x="424.50" y="244.70" width="10.25" height="1.05" fill="#846bc2"/>
<rect x="424.50" y="245.70" width="10.25" height="1.05" fill="#8a72c5"/>
<rect x="424.50" y="246.70" width="10.25" height="1.05" fill="#937cca"/>
<rect x="424.50" y="247.70" width="10.25" height="1.05" fill="#8b74c6"/>
<rect x="424.50" y="248.70" width="10.25" height="1.05" fill="#836ac1"/>
<rect x="424.50" y="249.70" width="10.25" height="1.05" fill="#8b73c5"/>
<rect x="424.50" y="250.70" width="10.25" height="1.05" fill="#9e89d0"/>
<rect x="424.50" y="251.70" width="10.25" height="1.05" fill="#937cca"/>
<rect x="424.50" y="252.70" width="10.25" height="1.05" fill="#856cc2"/>
<rect x="424.50" y="253.70" width="10.25" height="1.05" fill="#8066c0"/>
<rect x="424.50" y="254.70" width="10.25" height="1.05" fill="#8a72c5"/>
<rect x="424.50" y="255.70" width="10.25" height="1.05" fill="#a994d6"/>
<rect x="424.50" y="256.70" width="10.25" height="1.05" fill="#b6a3dd"/>
<rect x="424.50" y="257.70" width="10.25" height="1.05" fill="#a590d3"/>
<rect x="424.50" y="258.70" width="10.25" height="1.05" fill="#9882cd"/>
<rect x="424.50" y="259.70" width="10.25" height="1.05" fill="#8c74c6"/>
<rect x="424.50" y="260.70" width="10.25" height="1.05" fill="#7c62be"/>
<rect x="424.50" y="261.70" width="10.25" height="1.05" fill="#866dc3"/>
<rect x="424.50" y="262.70" width="10.25" height="1.05" fill="#957ecb"/>
<rect x="424.50" y="263.70" width="10.25" height="1.05" fill="#9f89d0"/>
<rect x="424.50" y="264.70" width="10.25" height="1.05" fill="#9d87cf"/>
<rect x="424.50" y="265.70" width="10.25" height="1.05" fill="#8971c5"/>
<rect x="424.50" y="266.70" width="10.25" height="1.05" fill="#8d75c7"/>
<rect x="424.50" y="267.70" width="10.25" height="1.05" fill="#8d75c7"/>
<rect x="424.50" y="268.70" width="10.25" height="1.05" fill="#876fc4"/>
<rect x="424.50" y="269.70" width="10.25" height="1.05" fill="#9079c8"/>
<rect x="424.50" y="270.70" width="10.25" height="1.05" fill="#957ecb"/>
<rect x="424.50" y="271.70" width="10.25" height="1.05" fill="#9a84ce"/>
<rect x="424.50" y="272.70" width="10.25" height="1.05" fill="#9d87cf"/>
<rect x="424.50" y="273.70" width="10.25" height="1.05" fill="#8f78c8"/>
<rect x="424.50" y="274.70" width="10.25" height="1.05" fill="#8167c0"/>
<rect x="424.50" y="275.70" width="10.25" height="1.05" fill="#a28dd2"/>
<rect x="424.50" y="276.70" width="10.25" height="1.05" fill="#c1afe2"/>
<rect x="424.50" y="277.70" width="10.25" height="1.05" fill="#b5a2dc"/>
<rect x="424.50" y="278.70" width="10.25" height="1.05" fill="#ac98d7"/>
<rect x="424.50" y="279.70" width="10.25" height="1.05" fill="#9780cc"/>
<rect x="424.50" y="280.70" width="10.25" height="1.05" fill="#8a72c5"/>
<rect x="424.50" y="281.70" width="10.25" height="1.05" fill="#8970c4"/>
<rect x="424.50" y="282.70" width="10.25" height="1.05" fill="#9e88d0"/>
<rect x="424.50" y="283.70" width="10.25" height="1.05" fill="#aa96d6"/>
<rect x="424.50" y="284.70" width="10.25" height="1.05" fill="#947dca"/>
<rect x="424.50" y="285.70" width="10.25" height="1.05" fill="#8c74c6"/>
<rect x="424.50" y="286.70" width="10.25" height="1.05" fill="#8e76c7"/>
<rect x="424.50" y="287.70" width="10.25" height="1.05" fill="#9e88d0"/>
<rect x="424.50" y="288.70" width="10.25" height="1.05" fill="#a691d4"/>
<rect x="424.50" y="289.70" width="10.25" height="1.05" fill="#9780cc"/>
<rect x="424.50" y="290.70" width="10.25" height="1.05" fill="#9a83cd"/>
<rect x="424.50" y="291.70" width="10.25" height="1.05" fill="#a691d4"/>
<rect x="424.50" y="292.70" width="10.25" height="1.05" fill="#9c86cf"/>
<rect x="424.50" y="293.70" width="10.25" height="1.05" fill="#846bc2"/>
<rect x="424.50" y="294.70" width="10.25" height="1.05" fill="#846bc2"/>
<rect x="424.50" y="295.70" width="10.25" height="1.05" fill="#a894d5"/>
<rect x="424.50" y="296.70" width="10.25" height="1.05" fill="#c0aee2"/>
<rect x="424.50" y="297.70" width="10.25" height="1.05" fill="#b6a3dd"/>
<rect x="424.50" y="298.70" width="10.25" height="1.05" fill="#9d87cf"/>
<rect x="424.50" y="299.70" width="10.25" height="1.05" fill="#9e89d0"/>
<rect x="424.50" y="300.70" width="10.25" height="1.05" fill="#ae9bd9"/>
<rect x="424.50" y="301.70" width="10.25" height="1.05" fill="#b19dda"/>
<rect x="424.50" y="302.70" width="10.25" height="1.05" fill="#bba9df"/>
<rect x="424.50" y="303.70" width="10.25" height="1.05" fill="#c0afe2"/>
<rect x="424.50" y="304.70" width="10.25" height="1.05" fill="#b3a0db"/>
<rect x="424.50" y="305.70" width="10.25" height="1.05" fill="#ae9ad8"/>
<rect x="424.50" y="306.70" width="10.25" height="1.05" fill="#b3a0db"/>
<rect x="424.50" y="307.70" width="10.25" height="1.05" fill="#af9cd9"/>
<rect x="424.50" y="308.70" width="10.25" height="1.05" fill="#a18cd2"/>
<rect x="424.50" y="309.70" width="10.25" height="1.05" fill="#aa96d6"/>
<rect x="424.50" y="310.70" width="10.25" height="1.05" fill="#9e89d0"/>
<rect x="424.50" y="311.70" width="10.25" height="1.05" fill="#a28cd2"/>
<rect x="424.50" y="312.70" width="10.25" height="1.05" fill="#a995d6"/>
<rect x="424.50" y="313.70" width="10.25" height="1.05" fill="#9c86cf"/>
<rect x="424.50" y="314.70" width="10.25" height="1.05" fill="#8a72c5"/>
<rect x="424.50" y="315.70" width="10.25" height="1.05" fill="#8870c4"/>
<rect x="424.50" y="316.70" width="10.25" height="1.05" fill="#9f8ad1"/>
<rect x="424.50" y="317.70" width="10.25" height="1.05" fill="#c1afe2"/>
<rect x="424.50" y="318.70" width="10.25" height="1.05" fill="#ccbce8"/>
<rect x="424.50" y="319.70" width="10.25" height="1.05" fill="#c3b1e3"/>
<rect x="424.50" y="320.70" width="10.25" height="1.05" fill="#b3a0db"/>
<rect x="424.50" y="321.70" width="10.25" height="1.05" fill="#a28cd2"/>
<rect x="424.50" y="322.70" width="10.25" height="1.05" fill="#9c86cf"/>
<rect x="424.50" y="323.70" width="10.25" height="1.05" fill="#a48fd3"/>
<rect x="424.50" y="324.70" width="10.25" height="1.05" fill="#9a84ce"/>
<rect x="424.50" y="325.70" width="10.25" height="1.05" fill="#9a84ce"/>
<rect x="424.50" y="326.70" width="10.25" height="1.05" fill="#aa96d6"/>
<rect x="424.50" y="327.70" width="10.25" height="1.05" fill="#9f89d0"/>
<rect x="424.50" y="328.70" width="10.25" height="1.05" fill="#8b73c6"/>
<rect x="424.50" y="329.70" width="10.25" height="1.05" fill="#9983cd"/>
<rect x="424.50" y="330.70" width="10.25" height="1.05" fill="#a590d4"/>
<rect x="424.50" y="331.70" width="10.25" height="1.05" fill="#beace1"/>
<rect x="424.50" y="332.70" width="10.25" height="1.05" fill="#c0afe2"/>
<rect x="424.50" y="333.70" width="10.25" height="1.05" fill="#ad99d8"/>
<rect x="424.50" y="334.70" width="10.25" height="1.05" fill="#a893d5"/>
<rect x="424.50" y="335.70" width="10.25" height="1.05" fill="#a590d4"/>
<rect x="424.50" y="336.70" width="10.25" height="1.05" fill="#a591d4"/>
<rect x="424.50" y="337.70" width="10.25" height="1.05" fill="#b19eda"/>
<rect x="424.50" y="338.70" width="10.25" height="1.05" fill="#bdabe1"/>
<rect x="424.50" y="339.70" width="10.25" height="1.05" fill="#bdabe1"/>
<rect x="424.50" y="340.70" width="10.25" height="1.05" fill="#baa8df"/>
<rect x="424.50" y="341.70" width="10.25" height="1.05" fill="#9e88d0"/>
<rect x="424.50" y="342.70" width="10.25" height="1.05" fill="#a28dd2"/>
<rect x="424.50" y="343.70" width="10.25" height="1.05" fill="#b19eda"/>
<rect x="424.50" y="344.70" width="10.25" height="1.05" fill="#b09cd9"/>
<rect x="424.50" y="345.70" width="10.25" height="1.05" fill="#a08bd1"/>
<rect x="424.50" y="346.70" width="10.25" height="1.05" fill="#a08bd1"/>
<rect x="424.50" y="347.70" width="10.25" height="1.05" fill="#ae9ad8"/>
<rect x="424.50" y="348.70" width="10.25" height="1.05" fill="#b09cd9"/>
<rect x="424.50" y="349.70" width="10.25" height="1.05" fill="#ae9ad8"/>
<rect x="424.50" y="350.70" width="10.25" height="1.05" fill="#b8a5de"/>
<rect x="424.50" y="351.70" width="10.25" height="1.05" fill="#bfade1"/>
<rect x="424.50" y="352.70" width="10.25" height="1.05" fill="#baa8df"/>
<rect x="434.70" y="213.70" width="10.25" height="1.05" fill="#a793d5"/>
<rect x="434.70" y="214.70" width="10.25" height="1.05" fill="#9e89d0"/>
<rect x="434.70" y="215.70" width="10.25" height="1.05" fill="#866dc3"/>
<rect x="434.70" y="216.70" width="10.25" height="1.05" fill="#7257b8"/>
<rect x="434.70" y="217.70" width="10.25" height="1.05" fill="#8f77c8"/>
<rect x="434.70" y="218.70" width="10.25" height="1.05" fill="#9882cd"/>
<rect x="434.70" y="219.70" width="10.25" height="1.05" fill="#9f8ad0"/>
<rect x="434.70" y="220.70" width="10.25" height="1.05" fill="#a08ad1"/>
<rect x="434.70" y="221.70" width="10.25" height="1.05" fill="#9e88d0"/>
<rect x="434.70" y="222.70" width="10.25" height="1.05" fill="#a691d4"/>
<rect x="434.70" y="223.70" width="10.25" height="1.05" fill="#ac98d7"/>
<rect x="434.70" y="224.70" width="10.25" height="1.05" fill="#a691d4"/>
<rect x="434.70" y="225.70" width="10.25" height="1.05" fill="#9e88d0"/>
<rect x="434.70" y="226.70" width="10.25" height="1.05" fill="#917ac9"/>
<rect x="434.70" y="227.70" width="10.25" height="1.05" fill="#957ecb"/>
<rect x="434.70" y="228.70" width="10.25" height="1.05" fill="#a893d5"/>
<rect x="434.70" y="229.70" width="10.25" height="1.05" fill="#a793d5"/>
<rect x="434.70" y="230.70" width="10.25" height="1.05" fill="#a28dd2"/>
<rect x="434.70" y="231.70" width="10.25" height="1.05" fill="#a792d4"/>
<rect x="434.70" y="232.70" width="10.25" height="1.05" fill="#a691d4"/>
<rect x="434.70" y="233.70" width="10.25" height="1.05" fill="#9780cc"/>
<rect x="434.70" y="234.70" width="10.25" height="1.05" fill="#9a84ce"/>
<rect x="434.70" y="235.70" width="10.25" height="1.05" fill="#a590d3"/>
<rect x="434.70" y="236.70" width="10.25" height="1.05" fill="#957ecb"/>
<rect x="434.70" y="237.70" width="10.25" height="1.05" fill="#836ac2"/>
<rect x="434.70" y="238.70" width="10.25" height="1.05" fill="#9881cc"/>
<rect x="434.70" y="239.70" width="10.25" height="1.05" fill="#ac98d7"/>
<rect x="434.70" y="240.70" width="10.25" height="1.05" fill="#a591d4"/>
<rect x="434.70" y="241.70" width="10.25" height="1.05" fill="#af9bd9"/>
<rect x="434.70" y="242.70" width="10.25" height="1.05" fill="#b7a4dd"/>
<rect x="434.70" y="243.70" width="10.25" height="1.05" fill="#ae9ad8"/>
<rect x="434.70" y="244.70" width="10.25" height="1.05" fill="#a28dd2"/>
<rect x="434.70" y="245.70" width="10.25" height="1.05" fill="#9d87cf"/>
<rect x="434.70" y="246.70" width="10.25" height="1.05" fill="#af9bd9"/>
<rect x="434.70" y="247.70" width="10.25" height="1.05" fill="#ad99d8"/>
<rect x="434.70" y="248.70" width="10.25" height="1.05" fill="#9f89d0"/>
<rect x="434.70" y="249.70" width="10.25" height="1.05" fill="#957ecb"/>
<rect x="434.70" y="250.70" width="10.25" height="1.05" fill="#917ac9"/>
<rect x="434.70" y="251.70" width="10.25" height="1.05" fill="#957ecb"/>
<rect x="434.70" y="252.70" width="10.25" height="1.05" fill="#a590d3"/>
<rect x="434.70" y="253.70" width="10.25" height="1.05" fill="#a793d5"/>
<rect x="434.70" y="254.70" width="10.25" height="1.05" fill="#9d88cf"/>
<rect x="434.70" y="255.70" width="10.25" height="1.05" fill="#917ac9"/>
<rect x="434.70" y="256.70" width="10.25" height="1.05" fill="#8c74c6"/>
<rect x="434.70" y="257.70" width="10.25" height="1.05" fill="#927ac9"/>
<rect x="434.70" y="258.70" width="10.25" height="1.05" fill="#8a72c5"/>
<rect x="434.70" y="259.70" width="10.25" height="1.05" fill="#9a84ce"/>
<rect x="434.70" y="260.70" width="10.25" height="1.05" fill="#ad99d8"/>
<rect x="434.70" y="261.70" width="10.25" height="1.05" fill="#beade1"/>
<rect x="434.70" y="262.70" width="10.25" height="1.05" fill="#b5a2dc"/>
<rect x="434.70" y="263.70" width="10.25" height="1.05" fill="#9c86cf"/>
<rect x="434.70" y="264.70" width="10.25" height="1.05" fill="#7a60bc"/>
<rect x="434.70" y="265.70" width="10.25" height="1.05" fill="#684cb2"/>
<rect x="434.70" y="266.70" width="10.25" height="1.05" fill="#795fbc"/>
<rect x="434.70" y="267.70" width="10.25" height="1.05" fill="#8c74c6"/>
<rect x="434.70" y="268.70" width="10.25" height="1.05" fill="#9983cd"/>
<rect x="434.70" y="269.70" width="10.25" height="1.05" fill="#9d87cf"/>
<rect x="434.70" y="270.70" width="10.25" height="1.05" fill="#9680cc"/>
<rect x="434.70" y="271.70" width="10.25" height="1.05" fill="#9c86cf"/>
<rect x="434.70" y="272.70" width="10.25" height="1.05" fill="#a48fd3"/>
<rect x="434.70" y="273.70" width="10.25" height="1.05" fill="#9c86cf"/>
<rect x="434.70" y="274.70" width="10.25" height="1.05" fill="#8268c1"/>
<rect x="434.70" y="275.70" width="10.25" height="1.05" fill="#7e65bf"/>
<rect x="434.70" y="276.70" width="10.25" height="1.05" fill="#917ac9"/>
<rect x="434.70" y="277.70" width="10.25" height="1.05" fill="#a995d6"/>
<rect x="434.70" y="278.70" width="10.25" height="1.05" fill="#b9a6de"/>
<rect x="434.70" y="279.70" width="10.25" height="1.05" fill="#a793d5"/>
<rect x="434.70" y="280.70" width="10.25" height="1.05" fill="#8a71c5"/>
<rect x="434.70" y="281.70" width="10.25" height="1.05" fill="#8b73c6"/>
<rect x="434.70" y="282.70" width="10.25" height="1.05" fill="#9c86cf"/>
<rect x="434.70" y="283.70" width="10.25" height="1.05" fill="#a18bd1"/>
<rect x="434.70" y="284.70" width="10.25" height="1.05" fill="#947dca"/>
<rect x="434.70" y="285.70" width="10.25" height="1.05" fill="#9780cc"/>
<rect x="434.70" y="286.70" width="10.25" height="1.05" fill="#9f8ad0"/>
<rect x="434.70" y="287.70" width="10.25" height="1.05" fill="#aa95d6"/>
<rect x="434.70" y="288.70" width="10.25" height="1.05" fill="#a893d5"/>
<rect x="434.70" y="289.70" width="10.25" height="1.05" fill="#957fcb"/>
<rect x="434.70" y="290.70" width="10.25" height="1.05" fill="#8e77c7"/>
<rect x="434.70" y="291.70" width="10.25" height="1.05" fill="#917ac9"/>
<rect x="434.70" y="292.70" width="10.25" height="1.05" fill="#a18cd1"/>
<rect x="434.70" y="293.70" width="10.25" height="1.05" fill="#8f78c8"/>
<rect x="434.70" y="294.70" width="10.25" height="1.05" fill="#8067c0"/>
<rect x="434.70" y="295.70" width="10.25" height="1.05" fill="#8067c0"/>
<rect x="434.70" y="296.70" width="10.25" height="1.05" fill="#8870c4"/>
<rect x="434.70" y="297.70" width="10.25" height="1.05" fill="#9c86cf"/>
<rect x="434.70" y="298.70" width="10.25" height="1.05" fill="#927bc9"/>
<rect x="434.70" y="299.70" width="10.25" height="1.05" fill="#9881cd"/>
<rect x="434.70" y="300.70" width="10.25" height="1.05" fill="#9a84ce"/>
<rect x="434.70" y="301.70" width="10.25" height="1.05" fill="#8a72c5"/>
<rect x="434.70" y="302.70" width="10.25" height="1.05" fill="#846bc2"/>
<rect x="434.70" y="303.70" width="10.25" height="1.05" fill="#8b72c5"/>
<rect x="434.70" y="304.70" width="10.25" height="1.05" fill="#856dc3"/>
<rect x="434.70" y="305.70" width="10.25" height="1.05" fill="#836ac1"/>
<rect x="434.70" y="306.70" width="10.25" height="1.05" fill="#917ac9"/>
<rect x="434.70" y="307.70" width="10.25" height="1.05" fill="#9179c9"/>
<rect x="434.70" y="308.70" width="10.25" height="1.05" fill="#8f77c8"/>
<rect x="434.70" y="309.70" width="10.25" height="1.05" fill="#9079c8"/>
<rect x="434.70" y="310.70" width="10.25" height="1.05" fill="#8b73c6"/>
<rect x="434.70" y="311.70" width="10.25" height="1.05" fill="#9079c8"/>
<rect x="434.70" y="312.70" width="10.25" height="1.05" fill="#9982cd"/>
<rect x="434.70" y="313.70" width="10.25" height="1.05" fill="#967fcb"/>
<rect x="434.70" y="314.70" width="10.25" height="1.05" fill="#8a71c5"/>
<rect x="434.70" y="315.70" width="10.25" height="1.05" fill="#8269c1"/>
<rect x="434.70" y="316.70" width="10.25" height="1.05" fill="#866ec3"/>
<rect x="434.70" y="317.70" width="10.25" height="1.05" fill="#957ecb"/>
<rect x="434.70" y="318.70" width="10.25" height="1.05" fill="#9983cd"/>
<rect x="434.70" y="319.70" width="10.25" height="1.05" fill="#9079c8"/>
<rect x="434.70" y="320.70" width="10.25" height="1.05" fill="#8870c4"/>
<rect x="434.70" y="321.70" width="10.25" height="1.05" fill="#9881cd"/>
<rect x="434.70" y="322.70" width="10.25" height="1.05" fill="#a38dd2"/>
<rect x="434.70" y="323.70" width="10.25" height="1.05" fill="#9a84ce"/>
<rect x="434.70" y="324.70" width="10.25" height="1.05" fill="#947dca"/>
<rect x="434.70" y="325.70" width="10.25" height="1.05" fill="#886fc4"/>
<rect x="434.70" y="326.70" width="10.25" height="1.05" fill="#7b61bd"/>
<rect x="434.70" y="327.70" width="10.25" height="1.05" fill="#7e64be"/>
<rect x="434.70" y="328.70" width="10.25" height="1.05" fill="#795fbc"/>
<rect x="434.70" y="329.70" width="10.25" height="1.05" fill="#8971c5"/>
<rect x="434.70" y="330.70" width="10.25" height="1.05" fill="#856cc2"/>
<rect x="434.70" y="331.70" width="10.25" height="1.05" fill="#8d75c7"/>
<rect x="434.70" y="332.70" width="10.25" height="1.05" fill="#9a83cd"/>
<rect x="434.70" y="333.70" width="10.25" height="1.05" fill="#8e77c7"/>
<rect x="434.70" y="334.70" width="10.25" height="1.05" fill="#846bc2"/>
<rect x="434.70" y="335.70" width="10.25" height="1.05" fill="#8167c0"/>
<rect x="434.70" y="336.70" width="10.25" height="1.05" fill="#7f66bf"/>
<rect x="434.70" y="337.70" width="10.25" height="1.05" fill="#9079c8"/>
<rect x="434.70" y="338.70" width="10.25" height="1.05" fill="#a590d4"/>
<rect x="434.70" y="339.70" width="10.25" height="1.05" fill="#ab97d7"/>
<rect x="434.70" y="340.70" width="10.25" height="1.05" fill="#a590d3"/>
<rect x="434.70" y="341.70" width="10.25" height="1.05" fill="#9882cd"/>
<rect x="434.70" y="342.70" width="10.25" height="1.05" fill="#a38ed2"/>
<rect x="434.70" y="343.70" width="10.25" height="1.05" fill="#b09dd9"/>
<rect x="434.70" y="344.70" width="10.25" height="1.05" fill="#ae9ad8"/>
<rect x="434.70" y="345.70" width="10.25" height="1.05" fill="#9881cd"/>
<rect x="434.70" y="346.70" width="10.25" height="1.05" fill="#866ec3"/>
<rect x="434.70" y="347.70" width="10.25" height="1.05" fill="#876fc4"/>
<rect x="434.70" y="348.70" width="10.25" height="1.05" fill="#8f78c8"/>
<rect x="434.70" y="349.70" width="10.25" height="1.05" fill="#927bc9"/>
<rect x="434.70" y="350.70" width="10.25" height="1.05" fill="#846bc2"/>
<rect x="434.70" y="351.70" width="10.25" height="1.05" fill="#775dbb"/>
<rect x="434.70" y="352.70" width="10.25" height="1.05" fill="#7055b7"/>
<rect x="444.90" y="213.70" width="10.25" height="1.05" fill="#9983cd"/>
<rect x="444.90" y="214.70" width="10.25" height="1.05" fill="#927bca"/>
<rect x="444.90" y="215.70" width="10.25" height="1.05" fill="#7e65bf"/>
<rect x="444.90" y="216.70" width="10.25" height="1.05" fill="#836ac1"/>
<rect x="444.90" y="217.70" width="10.25" height="1.05" fill="#927bca"/>
<rect x="444.90" y="218.70" width="10.25" height="1.05" fill="#957ecb"/>
<rect x="444.90" y="219.70" width="10.25" height="1.05" fill="#856dc3"/>
<rect x="444.90" y="220.70" width="10.25" height="1.05" fill="#6a4eb4"/>
<rect x="444.90" y="221.70" width="10.25" height="1.05" fill="#694eb4"/>
<rect x="444.90" y="222.70" width="10.25" height="1.05" fill="#7a60bd"/>
<rect x="444.90" y="223.70" width="10.25" height="1.05" fill="#846bc2"/>
<rect x="444.90" y="224.70" width="10.25" height="1.05" fill="#8066c0"/>
<rect x="444.90" y="225.70" width="10.25" height="1.05" fill="#755aba"/>
<rect x="444.90" y="226.70" width="10.25" height="1.05" fill="#7055b7"/>
<rect x="444.90" y="227.70" width="10.25" height="1.05" fill="#7b62bd"/>
<rect x="444.90" y="228.70" width="10.25" height="1.05" fill="#8067c0"/>
<rect x="444.90" y="229.70" width="10.25" height="1.05" fill="#785dbb"/>
<rect x="444.90" y="230.70" width="10.25" height="1.05" fill="#674cb2"/>
<rect x="444.90" y="231.70" width="10.25" height="1.05" fill="#7358b9"/>
<rect x="444.90" y="232.70" width="10.25" height="1.05" fill="#7d63be"/>
<rect x="444.90" y="233.70" width="10.25" height="1.05" fill="#7156b8"/>
<rect x="444.90" y="234.70" width="10.25" height="1.05" fill="#7055b7"/>
<rect x="444.90" y="235.70" width="10.25" height="1.05" fill="#7e65bf"/>
<rect x="444.90" y="236.70" width="10.25" height="1.05" fill="#755bba"/>
<rect x="444.90" y="237.70" width="10.25" height="1.05" fill="#6e52b6"/>
<rect x="444.90" y="238.70" width="10.25" height="1.05" fill="#7f65bf"/>
<rect x="444.90" y="239.70" width="10.25" height="1.05" fill="#856cc2"/>
<rect x="444.90" y="240.70" width="10.25" height="1.05" fill="#856dc3"/>
<rect x="444.90" y="241.70" width="10.25" height="1.05" fill="#9680cc"/>
<rect x="444.90" y="242.70" width="10.25" height="1.05" fill="#8c74c6"/>
<rect x="444.90" y="243.70" width="10.25" height="1.05" fill="#7d63be"/>
<rect x="444.90" y="244.70" width="10.25" height="1.05" fill="#7c62bd"/>
<rect x="444.90" y="245.70" width="10.25" height="1.05" fill="#7d63be"/>
<rect x="444.90" y="246.70" width="10.25" height="1.05" fill="#856cc2"/>
<rect x="444.90" y="247.70" width="10.25" height="1.05" fill="#8a72c5"/>
<rect x="444.90" y="248.70" width="10.25" height="1.05" fill="#856cc2"/>
<rect x="444.90" y="249.70" width="10.25" height="1.05" fill="#8971c4"/>
<rect x="444.90" y="250.70" width="10.25" height="1.05" fill="#957ecb"/>
<rect x="444.90" y="251.70" width="10.25" height="1.05" fill="#9780cc"/>
<rect x="444.90" y="252.70" width="10.25" height="1.05" fill="#856cc2"/>
<rect x="444.90" y="253.70" width="10.25" height="1.05" fill="#795fbc"/>
<rect x="444.90" y="254.70" width="10.25" height="1.05" fill="#8b73c6"/>
<rect x="444.90" y="255.70" width="10.25" height="1.05" fill="#8b73c5"/>
<rect x="444.90" y="256.70" width="10.25" height="1.05" fill="#7d63be"/>
<rect x="444.90" y="257.70" width="10.25" height="1.05" fill="#7e64bf"/>
<rect x="444.90" y="258.70" width="10.25" height="1.05" fill="#7a60bd"/>
<rect x="444.90" y="259.70" width="10.25" height="1.05" fill="#846bc2"/>
<rect x="444.90" y="260.70" width="10.25" height="1.05" fill="#775cbb"/>
<rect x="444.90" y="261.70" width="10.25" height="1.05" fill="#6e53b6"/>
<rect x="444.90" y="262.70" width="10.25" height="1.05" fill="#8168c0"/>
<rect x="444.90" y="263.70" width="10.25" height="1.05" fill="#8c74c6"/>
<rect x="444.90" y="264.70" width="10.25" height="1.05" fill="#876fc4"/>
<rect x="444.90" y="265.70" width="10.25" height="1.05" fill="#6e53b6"/>
<rect x="444.90" y="266.70" width="10.25" height="1.05" fill="#6349af"/>
<rect x="444.90" y="267.70" width="10.25" height="1.05" fill="#684db3"/>
<rect x="444.90" y="268.70" width="10.25" height="1.05" fill="#6a4eb4"/>
<rect x="444.90" y="269.70" width="10.25" height="1.05" fill="#674bb1"/>
<rect x="444.90" y="270.70" width="10.25" height="1.05" fill="#6248ae"/>
<rect x="444.90" y="271.70" width="10.25" height="1.05" fill="#785ebb"/>
<rect x="444.90" y="272.70" width="10.25" height="1.05" fill="#8269c1"/>
<rect x="444.90" y="273.70" width="10.25" height="1.05" fill="#6e52b6"/>
<rect x="444.90" y="274.70" width="10.25" height="1.05" fill="#7055b7"/>
<rect x="444.90" y="275.70" width="10.25" height="1.05" fill="#7d63be"/>
<rect x="444.90" y="276.70" width="10.25" height="1.05" fill="#967fcb"/>
<rect x="444.90" y="277.70" width="10.25" height="1.05" fill="#8a72c5"/>
<rect x="444.90" y="278.70" width="10.25" height="1.05" fill="#8b73c6"/>
<rect x="444.90" y="279.70" width="10.25" height="1.05" fill="#8f77c8"/>
<rect x="444.90" y="280.70" width="10.25" height="1.05" fill="#7f66bf"/>
<rect x="444.90" y="281.70" width="10.25" height="1.05" fill="#765bba"/>
<rect x="444.90" y="282.70" width="10.25" height="1.05" fill="#866dc3"/>
<rect x="444.90" y="283.70" width="10.25" height="1.05" fill="#7f66bf"/>
<rect x="444.90" y="284.70" width="10.25" height="1.05" fill="#7055b7"/>
<rect x="444.90" y="285.70" width="10.25" height="1.05" fill="#836ac2"/>
<rect x="444.90" y="286.70" width="10.25" height="1.05" fill="#866dc3"/>
<rect x="444.90" y="287.70" width="10.25" height="1.05" fill="#8269c1"/>
<rect x="444.90" y="288.70" width="10.25" height="1.05" fill="#836ac1"/>
<rect x="444.90" y="289.70" width="10.25" height="1.05" fill="#6c51b5"/>
<rect x="444.90" y="290.70" width="10.25" height="1.05" fill="#674cb2"/>
<rect x="444.90" y="291.70" width="10.25" height="1.05" fill="#6d52b6"/>
<rect x="444.90" y="292.70" width="10.25" height="1.05" fill="#7d63be"/>
<rect x="444.90" y="293.70" width="10.25" height="1.05" fill="#775dbb"/>
<rect x="444.90" y="294.70" width="10.25" height="1.05" fill="#7156b8"/>
<rect x="444.90" y="295.70" width="10.25" height="1.05" fill="#755aba"/>
<rect x="444.90" y="296.70" width="10.25" height="1.05" fill="#846bc2"/>
<rect x="444.90" y="297.70" width="10.25" height="1.05" fill="#8a72c5"/>
<rect x="444.90" y="298.70" width="10.25" height="1.05" fill="#785ebc"/>
<rect x="444.90" y="299.70" width="10.25" height="1.05" fill="#775cbb"/>
<rect x="444.90" y="300.70" width="10.25" height="1.05" fill="#8167c0"/>
<rect x="444.90" y="301.70" width="10.25" height="1.05" fill="#9079c8"/>
<rect x="444.90" y="302.70" width="10.25" height="1.05" fill="#8b73c6"/>
<rect x="444.90" y="303.70" width="10.25" height="1.05" fill="#8168c0"/>
<rect x="444.90" y="304.70" width="10.25" height="1.05" fill="#755aba"/>
<rect x="444.90" y="305.70" width="10.25" height="1.05" fill="#7358b9"/>
<rect x="444.90" y="306.70" width="10.25" height="1.05" fill="#765bba"/>
<rect x="444.90" y="307.70" width="10.25" height="1.05" fill="#7a60bd"/>
<rect x="444.90" y="308.70" width="10.25" height="1.05" fill="#765bba"/>
<rect x="444.90" y="309.70" width="10.25" height="1.05" fill="#785ebc"/>
<rect x="444.90" y="310.70" width="10.25" height="1.05" fill="#8066c0"/>
<rect x="444.90" y="311.70" width="10.25" height="1.05" fill="#8a71c5"/>
<rect x="444.90" y="312.70" width="10.25" height="1.05" fill="#876ec3"/>
<rect x="444.90" y="313.70" width="10.25" height="1.05" fill="#8168c0"/>
<rect x="444.90" y="314.70" width="10.25" height="1.05" fill="#745ab9"/>
<rect x="444.90" y="315.70" width="10.25" height="1.05" fill="#7459b9"/>
<rect x="444.90" y="316.70" width="10.25" height="1.05" fill="#7b61bd"/>
<rect x="444.90" y="317.70" width="10.25" height="1.05" fill="#7a5fbc"/>
<rect x="444.90" y="318.70" width="10.25" height="1.05" fill="#7a60bd"/>
<rect x="444.90" y="319.70" width="10.25" height="1.05" fill="#846bc2"/>
<rect x="444.90" y="320.70" width="10.25" height="1.05" fill="#8c75c6"/>
<rect x="444.90" y="321.70" width="10.25" height="1.05" fill="#8870c4"/>
<rect x="444.90" y="322.70" width="10.25" height="1.05" fill="#7c63be"/>
<rect x="444.90" y="323.70" width="10.25" height="1.05" fill="#8870c4"/>
<rect x="444.90" y="324.70" width="10.25" height="1.05" fill="#846bc2"/>
<rect x="444.90" y="325.70" width="10.25" height="1.05" fill="#836ac1"/>
<rect x="444.90" y="326.70" width="10.25" height="1.05" fill="#8e76c7"/>
<rect x="444.90" y="327.70" width="10.25" height="1.05" fill="#8971c5"/>
<rect x="444.90" y="328.70" width="10.25" height="1.05" fill="#7f65bf"/>
<rect x="444.90" y="329.70" width="10.25" height="1.05" fill="#7459b9"/>
<rect x="444.90" y="330.70" width="10.25" height="1.05" fill="#6e53b6"/>
<rect x="444.90" y="331.70" width="10.25" height="1.05" fill="#8971c5"/>
<rect x="444.90" y="332.70" width="10.25" height="1.05" fill="#8b73c6"/>
<rect x="444.90" y="333.70" width="10.25" height="1.05" fill="#6e52b6"/>
<rect x="444.90" y="334.70" width="10.25" height="1.05" fill="#6349af"/>
<rect x="444.90" y="335.70" width="10.25" height="1.05" fill="#795fbc"/>
<rect x="444.90" y="336.70" width="10.25" height="1.05" fill="#8b73c6"/>
<rect x="444.90" y="337.70" width="10.25" height="1.05" fill="#927bca"/>
<rect x="444.90" y="338.70" width="10.25" height="1.05" fill="#957ecb"/>
<rect x="444.90" y="339.70" width="10.25" height="1.05" fill="#8f77c8"/>
<rect x="444.90" y="340.70" width="10.25" height="1.05" fill="#8971c4"/>
<rect x="444.90" y="341.70" width="10.25" height="1.05" fill="#7e64bf"/>
<rect x="444.90" y="342.70" width="10.25" height="1.05" fill="#785ebc"/>
<rect x="444.90" y="343.70" width="10.25" height="1.05" fill="#8269c1"/>
<rect x="444.90" y="344.70" width="10.25" height="1.05" fill="#876fc4"/>
<rect x="444.90" y="345.70" width="10.25" height="1.05" fill="#7459b9"/>
<rect x="444.90" y="346.70" width="10.25" height="1.05" fill="#674cb2"/>
<rect x="444.90" y="347.70" width="10.25" height="1.05" fill="#6f54b7"/>
<rect x="444.90" y="348.70" width="10.25" height="1.05" fill="#765bba"/>
<rect x="444.90" y="349.70" width="10.25" height="1.05" fill="#765bba"/>
<rect x="444.90" y="350.70" width="10.25" height="1.05" fill="#7257b8"/>
<rect x="444.90" y="351.70" width="10.25" height="1.05" fill="#7155b7"/>
<rect x="444.90" y="352.70" width="10.25" height="1.05" fill="#6c50b5"/>
<text x="410.30" y="40.00" font-size="6.7" textLength="32.50" lengthAdjust="spacingAndGlyphs" fill="#333" transform="rotate(-90 410.30 40.00)">NT_CB-103</text>
<text x="442.00" y="40.00" font-size="6.7" textLength="33.00" lengthAdjust="spacingAndGlyphs" fill="#333" transform="rotate(-90 442.00 40.00)">KO_CB-103</text>
<text x="387.90" y="138.80" font-size="6.5" textLength="21.70" lengthAdjust="spacingAndGlyphs" fill="#333" transform="rotate(-90 387.90 138.80)">Induced</text>
<text x="387.90" y="298.70" font-size="6.5" textLength="29.00" lengthAdjust="spacingAndGlyphs" fill="#333" transform="rotate(-90 387.90 298.70)">Repressed</text>
<text x="463.30" y="50.70" font-size="6.2" fill="#1e1e1e" stroke="#1e1e1e" stroke-width="0.18">CCND2</text>
<text x="463.30" y="58.56" font-size="6.2" fill="#1e1e1e" stroke="#1e1e1e" stroke-width="0.18">TK1</text>
<text x="463.30" y="66.42" font-size="6.2" fill="#1e1e1e" stroke="#1e1e1e" stroke-width="0.18">MAP2K6</text>
<text x="463.30" y="74.28" font-size="6.2" fill="#1e1e1e" stroke="#1e1e1e" stroke-width="0.18">E2F2</text>
<text x="463.30" y="82.14" font-size="6.2" fill="#1e1e1e" stroke="#1e1e1e" stroke-width="0.18">MCM2</text>
<text x="463.30" y="90.00" font-size="6.2" fill="#1e1e1e" stroke="#1e1e1e" stroke-width="0.18">RPS6KA3</text>
<text x="463.30" y="97.86" font-size="6.2" fill="#1e1e1e" stroke="#1e1e1e" stroke-width="0.18">BCL2L11</text>
<text x="463.30" y="105.72" font-size="6.2" fill="#1e1e1e" stroke="#1e1e1e" stroke-width="0.18">MCM3</text>
<text x="463.30" y="113.58" font-size="6.2" fill="#1e1e1e" stroke="#1e1e1e" stroke-width="0.18">BRCA1</text>
<text x="463.30" y="121.44" font-size="6.2" fill="#1e1e1e" stroke="#1e1e1e" stroke-width="0.18">MCM5</text>
<text x="463.30" y="129.30" font-size="6.2" fill="#1e1e1e" stroke="#1e1e1e" stroke-width="0.18">EIF4E</text>
<text x="463.30" y="137.16" font-size="6.2" fill="#1e1e1e" stroke="#1e1e1e" stroke-width="0.18">BCL2L1</text>
<text x="463.30" y="145.02" font-size="6.2" fill="#1e1e1e" stroke="#1e1e1e" stroke-width="0.18">MCM6</text>
<text x="463.30" y="152.88" font-size="6.2" fill="#1e1e1e" stroke="#1e1e1e" stroke-width="0.18">CDK2</text>
<text x="463.30" y="160.74" font-size="6.2" fill="#1e1e1e" stroke="#1e1e1e" stroke-width="0.18">E2F1</text>
<text x="463.30" y="168.60" font-size="6.2" fill="#1e1e1e" stroke="#1e1e1e" stroke-width="0.18">EIF4A1</text>
<text x="463.30" y="176.46" font-size="6.2" fill="#1e1e1e" stroke="#1e1e1e" stroke-width="0.18">MAP2K3</text>
<text x="463.30" y="184.32" font-size="6.2" fill="#1e1e1e" stroke="#1e1e1e" stroke-width="0.18">GRB2</text>
<text x="463.30" y="192.18" font-size="6.2" fill="#1e1e1e" stroke="#1e1e1e" stroke-width="0.18">CDKN2C</text>
<text x="463.30" y="200.04" font-size="6.2" fill="#1e1e1e" stroke="#1e1e1e" stroke-width="0.18">E2F3</text>
<text x="463.30" y="207.90" font-size="6.2" fill="#1e1e1e" stroke="#1e1e1e" stroke-width="0.18">CDK1</text>
<text x="463.30" y="215.76" font-size="6.2" fill="#1e1e1e" stroke="#1e1e1e" stroke-width="0.18">CCNB2</text>
<text x="463.30" y="223.62" font-size="6.2" fill="#1e1e1e" stroke="#1e1e1e" stroke-width="0.18">BUB1B</text>
<path d="M455.3 50.5 H457 C458.6 50.5 459.4 48.5 461.8 48.5 M455.3 59.8 H456.8 C458.6 59.8 459.4 56.3 461.8 56.3 M455.3 66.8 H458.2 M461.8 64.1 C459.2 64.1 458.3 64.8 458.3 66.8 C458.3 69.4 459.2 71.9 461.8 71.9 M455.3 75.6 H458 Q459.2 75.6 459.2 77.2 V86 Q459.2 87.3 460.6 87.3 H461.8 M459.2 79.8 H461.8 M455.3 78.2 H459.2 M459.2 90.6 V150.5 M459.2 95.66 H461.8 M459.2 103.52 H461.8 M459.2 111.38 H461.8 M459.2 119.24 H461.8 M459.2 127.10 H461.8 M459.2 134.96 H461.8 M459.2 142.82 H461.8 M459.2 150.68 H461.8 M455.3 91.30 H459.2 M455.3 101.90 H459.2 M455.3 115.00 H459.2 M455.3 122.80 H459.2 M455.3 126.30 H459.2 M455.3 143.00 H459.2 M455.3 149.40 H459.2 M458.3 150 L461.2 158.6" stroke="#46555f" stroke-width="0.75" fill="none"/>
<path d="M456.8 158.4 H458.5 V221.9 M458.5 158.54 H461.8 M458.5 166.40 H461.8 M458.5 174.26 H461.8 M458.5 182.12 H461.8 M458.5 189.98 H461.8 M458.5 197.84 H461.8 M458.5 205.70 H461.8 M458.5 213.56 H461.8 M458.5 221.42 H461.8 M455.5 174.50 H458.5 M455.5 180.70 H458.5 M455.5 184.40 H458.5" stroke="#1c2326" stroke-width="0.9" fill="none"/>
<line x1="458.5" y1="158.4" x2="458.5" y2="221.9" stroke="#111" stroke-width="1.2"/>
<line x1="456.9" y1="271.3" x2="461.9" y2="271.3" stroke="#222" stroke-width="0.7"/>
<text x="463.70" y="273.50" font-size="6.0" fill="#222">TSC2</text>
<line x1="456.3" y1="328.5" x2="461.9" y2="328.5" stroke="#222" stroke-width="0.7"/>
<text x="463.50" y="330.70" font-size="6.1" fill="#222">E2F5</text>
<text x="494.80" y="266.40" font-size="6.0" textLength="18.30" lengthAdjust="spacingAndGlyphs" fill="#333">Z-score</text>
<rect x="494.2" y="271.9" width="6.9" height="45.6" fill="url(#gz)"/>
<text x="504.20" y="275.90" font-size="5.8" fill="#333">2</text>
<text x="504.20" y="286.50" font-size="5.8" fill="#333">1</text>
<text x="504.20" y="297.10" font-size="5.8" fill="#333">0</text>
<text x="503.60" y="307.70" font-size="5.8" fill="#333">−1</text>
<text x="503.60" y="318.30" font-size="5.8" fill="#333">−2</text>
<text x="49.80" y="278.00" font-size="8.6" textLength="18.60" lengthAdjust="spacingAndGlyphs" font-style="italic" fill="#1e1e1e" stroke="#1e1e1e" stroke-width="0.22">E2F1</text>
<line x1="40.10" y1="288.10" x2="40.10" y2="348.30" stroke="#222" stroke-width="1.0"/>
<line x1="37.50" y1="348.30" x2="78.50" y2="348.30" stroke="#222" stroke-width="1.0"/>
<line x1="37.50" y1="348.30" x2="40.10" y2="348.30" stroke="#222" stroke-width="0.9"/>
<text x="33.70" y="350.60" font-size="6.5" text-anchor="end" fill="#2a2a2a" stroke="#2a2a2a" stroke-width="0.15">0</text>
<line x1="37.50" y1="333.97" x2="40.10" y2="333.97" stroke="#222" stroke-width="0.9"/>
<text x="33.70" y="336.27" font-size="6.5" text-anchor="end" fill="#2a2a2a" stroke="#2a2a2a" stroke-width="0.15">10</text>
<line x1="37.50" y1="319.64" x2="40.10" y2="319.64" stroke="#222" stroke-width="0.9"/>
<text x="33.70" y="321.94" font-size="6.5" text-anchor="end" fill="#2a2a2a" stroke="#2a2a2a" stroke-width="0.15">20</text>
<line x1="37.50" y1="305.31" x2="40.10" y2="305.31" stroke="#222" stroke-width="0.9"/>
<text x="33.70" y="307.61" font-size="6.5" text-anchor="end" fill="#2a2a2a" stroke="#2a2a2a" stroke-width="0.15">30</text>
<line x1="37.50" y1="290.98" x2="40.10" y2="290.98" stroke="#222" stroke-width="0.9"/>
<text x="33.70" y="293.28" font-size="6.5" text-anchor="end" fill="#2a2a2a" stroke="#2a2a2a" stroke-width="0.15">40</text>
<text x="20.00" y="318.10" font-size="7.2" textLength="11.20" lengthAdjust="spacingAndGlyphs" text-anchor="middle" font-weight="bold" fill="#1a1a1a" transform="rotate(-90 20.00 318.10)" stroke="#1a1a1a" stroke-width="0.2">TPM</text>
<rect x="46.00" y="311.40" width="10.00" height="36.90" fill="#114c8c"/>
<line x1="51.00" y1="311.40" x2="51.00" y2="309.40" stroke="#222" stroke-width="0.9"/>
<line x1="48.10" y1="309.40" x2="53.90" y2="309.40" stroke="#222" stroke-width="0.9"/>
<rect x="62.00" y="299.90" width="10.00" height="48.40" fill="#c8041f"/>
<line x1="67.00" y1="299.90" x2="67.00" y2="298.50" stroke="#222" stroke-width="0.9"/>
<line x1="64.10" y1="298.50" x2="69.90" y2="298.50" stroke="#222" stroke-width="0.9"/>
<path d="M51.00 306.20 L51.00 292.30 L67.00 292.30 L67.00 295.30" stroke="#1e1e1e" stroke-width="1.0" fill="none"/>
<circle cx="56.80" cy="288.90" r="0.8" fill="#222"/>
<circle cx="59.00" cy="288.90" r="0.8" fill="#222"/>
<circle cx="61.20" cy="288.90" r="0.8" fill="#222"/>
<text x="132.80" y="278.00" font-size="8.6" textLength="18.70" lengthAdjust="spacingAndGlyphs" font-style="italic" fill="#1e1e1e" stroke="#1e1e1e" stroke-width="0.22">E2F2</text>
<line x1="123.10" y1="289.40" x2="123.10" y2="348.30" stroke="#222" stroke-width="1.0"/>
<line x1="120.50" y1="348.30" x2="160.00" y2="348.30" stroke="#222" stroke-width="1.0"/>
<line x1="120.50" y1="348.30" x2="123.10" y2="348.30" stroke="#222" stroke-width="0.9"/>
<text x="117.60" y="350.60" font-size="6.5" text-anchor="end" fill="#2a2a2a" stroke="#2a2a2a" stroke-width="0.15">0</text>
<line x1="120.50" y1="329.40" x2="123.10" y2="329.40" stroke="#222" stroke-width="0.9"/>
<text x="117.60" y="331.70" font-size="6.5" text-anchor="end" fill="#2a2a2a" stroke="#2a2a2a" stroke-width="0.15">10</text>
<line x1="120.50" y1="310.50" x2="123.10" y2="310.50" stroke="#222" stroke-width="0.9"/>
<text x="117.60" y="312.80" font-size="6.5" text-anchor="end" fill="#2a2a2a" stroke="#2a2a2a" stroke-width="0.15">20</text>
<line x1="120.50" y1="291.60" x2="123.10" y2="291.60" stroke="#222" stroke-width="0.9"/>
<text x="117.60" y="293.90" font-size="6.5" text-anchor="end" fill="#2a2a2a" stroke="#2a2a2a" stroke-width="0.15">30</text>
<text x="104.20" y="318.10" font-size="7.2" textLength="11.20" lengthAdjust="spacingAndGlyphs" text-anchor="middle" font-weight="bold" fill="#1a1a1a" transform="rotate(-90 104.20 318.10)" stroke="#1a1a1a" stroke-width="0.2">TPM</text>
<rect x="129.30" y="320.60" width="9.70" height="27.70" fill="#114c8c"/>
<line x1="134.15" y1="320.60" x2="134.15" y2="318.40" stroke="#222" stroke-width="0.9"/>
<line x1="131.25" y1="318.40" x2="137.05" y2="318.40" stroke="#222" stroke-width="0.9"/>
<rect x="145.30" y="297.30" width="9.70" height="51.00" fill="#c8041f"/>
<line x1="150.15" y1="297.30" x2="150.15" y2="295.20" stroke="#222" stroke-width="0.9"/>
<line x1="147.25" y1="295.20" x2="153.05" y2="295.20" stroke="#222" stroke-width="0.9"/>
<path d="M134.15 315.20 L134.15 288.20 L150.15 288.20 L150.15 292.00" stroke="#1e1e1e" stroke-width="1.0" fill="none"/>
<circle cx="139.80" cy="284.90" r="0.8" fill="#222"/>
<circle cx="142.00" cy="284.90" r="0.8" fill="#222"/>
<circle cx="144.20" cy="284.90" r="0.8" fill="#222"/>
<text x="213.50" y="278.00" font-size="8.6" textLength="18.80" lengthAdjust="spacingAndGlyphs" font-style="italic" fill="#1e1e1e" stroke="#1e1e1e" stroke-width="0.22">E2F3</text>
<line x1="203.75" y1="287.50" x2="203.75" y2="348.30" stroke="#222" stroke-width="1.0"/>
<line x1="201.15" y1="348.30" x2="242.20" y2="348.30" stroke="#222" stroke-width="1.0"/>
<line x1="201.15" y1="348.30" x2="203.75" y2="348.30" stroke="#222" stroke-width="0.9"/>
<text x="197.60" y="350.60" font-size="6.5" text-anchor="end" fill="#2a2a2a" stroke="#2a2a2a" stroke-width="0.15">0</text>
<line x1="201.15" y1="336.64" x2="203.75" y2="336.64" stroke="#222" stroke-width="0.9"/>
<text x="197.60" y="338.94" font-size="6.5" text-anchor="end" fill="#2a2a2a" stroke="#2a2a2a" stroke-width="0.15">10</text>
<line x1="201.15" y1="324.98" x2="203.75" y2="324.98" stroke="#222" stroke-width="0.9"/>
<text x="197.60" y="327.28" font-size="6.5" text-anchor="end" fill="#2a2a2a" stroke="#2a2a2a" stroke-width="0.15">20</text>
<line x1="201.15" y1="313.32" x2="203.75" y2="313.32" stroke="#222" stroke-width="0.9"/>
<text x="197.60" y="315.62" font-size="6.5" text-anchor="end" fill="#2a2a2a" stroke="#2a2a2a" stroke-width="0.15">30</text>
<line x1="201.15" y1="301.66" x2="203.75" y2="301.66" stroke="#222" stroke-width="0.9"/>
<text x="197.60" y="303.96" font-size="6.5" text-anchor="end" fill="#2a2a2a" stroke="#2a2a2a" stroke-width="0.15">40</text>
<line x1="201.15" y1="290.00" x2="203.75" y2="290.00" stroke="#222" stroke-width="0.9"/>
<text x="197.60" y="292.30" font-size="6.5" text-anchor="end" fill="#2a2a2a" stroke="#2a2a2a" stroke-width="0.15">50</text>
<text x="184.80" y="318.10" font-size="7.2" textLength="11.20" lengthAdjust="spacingAndGlyphs" text-anchor="middle" font-weight="bold" fill="#1a1a1a" transform="rotate(-90 184.80 318.10)" stroke="#1a1a1a" stroke-width="0.2">TPM</text>
<rect x="210.20" y="312.30" width="9.60" height="36.00" fill="#114c8c"/>
<line x1="215.00" y1="312.30" x2="215.00" y2="309.90" stroke="#222" stroke-width="0.9"/>
<line x1="212.10" y1="309.90" x2="217.90" y2="309.90" stroke="#222" stroke-width="0.9"/>
<rect x="226.20" y="304.40" width="9.60" height="43.90" fill="#c8041f"/>
<line x1="231.00" y1="304.40" x2="231.00" y2="302.10" stroke="#222" stroke-width="0.9"/>
<line x1="228.10" y1="302.10" x2="233.90" y2="302.10" stroke="#222" stroke-width="0.9"/>
<path d="M215.00 306.70 L215.00 295.10 L231.00 295.10 L231.00 298.90" stroke="#1e1e1e" stroke-width="1.0" fill="none"/>
<circle cx="221.80" cy="291.30" r="0.8" fill="#222"/>
<circle cx="224.00" cy="291.30" r="0.8" fill="#222"/>
<text x="297.30" y="278.00" font-size="8.6" textLength="19.00" lengthAdjust="spacingAndGlyphs" font-style="italic" fill="#1e1e1e" stroke="#1e1e1e" stroke-width="0.22">E2F5</text>
<line x1="287.00" y1="285.60" x2="287.00" y2="348.30" stroke="#222" stroke-width="1.0"/>
<line x1="284.40" y1="348.30" x2="327.00" y2="348.30" stroke="#222" stroke-width="1.0"/>
<line x1="284.40" y1="348.30" x2="287.00" y2="348.30" stroke="#222" stroke-width="0.9"/>
<text x="281.20" y="350.60" font-size="6.5" text-anchor="end" fill="#2a2a2a" stroke="#2a2a2a" stroke-width="0.15">0</text>
<line x1="284.40" y1="336.34" x2="287.00" y2="336.34" stroke="#222" stroke-width="0.9"/>
<text x="281.20" y="338.64" font-size="6.5" text-anchor="end" fill="#2a2a2a" stroke="#2a2a2a" stroke-width="0.15">5</text>
<line x1="284.40" y1="324.38" x2="287.00" y2="324.38" stroke="#222" stroke-width="0.9"/>
<text x="281.20" y="326.68" font-size="6.5" text-anchor="end" fill="#2a2a2a" stroke="#2a2a2a" stroke-width="0.15">10</text>
<line x1="284.40" y1="312.42" x2="287.00" y2="312.42" stroke="#222" stroke-width="0.9"/>
<text x="281.20" y="314.72" font-size="6.5" text-anchor="end" fill="#2a2a2a" stroke="#2a2a2a" stroke-width="0.15">15</text>
<line x1="284.40" y1="300.46" x2="287.00" y2="300.46" stroke="#222" stroke-width="0.9"/>
<text x="281.20" y="302.76" font-size="6.5" text-anchor="end" fill="#2a2a2a" stroke="#2a2a2a" stroke-width="0.15">20</text>
<line x1="284.40" y1="288.50" x2="287.00" y2="288.50" stroke="#222" stroke-width="0.9"/>
<text x="281.20" y="290.80" font-size="6.5" text-anchor="end" fill="#2a2a2a" stroke="#2a2a2a" stroke-width="0.15">25</text>
<text x="268.60" y="318.10" font-size="7.2" textLength="11.20" lengthAdjust="spacingAndGlyphs" text-anchor="middle" font-weight="bold" fill="#1a1a1a" transform="rotate(-90 268.60 318.10)" stroke="#1a1a1a" stroke-width="0.2">TPM</text>
<rect x="293.10" y="301.90" width="10.00" height="46.40" fill="#114c8c"/>
<line x1="298.10" y1="301.90" x2="298.10" y2="299.40" stroke="#222" stroke-width="0.9"/>
<line x1="295.20" y1="299.40" x2="301.00" y2="299.40" stroke="#222" stroke-width="0.9"/>
<rect x="310.30" y="309.00" width="10.00" height="39.30" fill="#c8041f"/>
<line x1="315.30" y1="309.00" x2="315.30" y2="307.20" stroke="#222" stroke-width="0.9"/>
<line x1="312.40" y1="307.20" x2="318.20" y2="307.20" stroke="#222" stroke-width="0.9"/>
<path d="M298.10 296.20 L298.10 292.30 L315.30 292.30 L315.30 304.00" stroke="#1e1e1e" stroke-width="1.0" fill="none"/>
<circle cx="305.80" cy="288.80" r="0.8" fill="#222"/>
<circle cx="308.00" cy="288.80" r="0.8" fill="#222"/>
<text x="45.00" y="374.20" font-size="8.6" textLength="30.00" lengthAdjust="spacingAndGlyphs" font-style="italic" fill="#1e1e1e" stroke="#1e1e1e" stroke-width="0.22">CCND2</text>
<line x1="39.75" y1="383.10" x2="39.75" y2="445.90" stroke="#222" stroke-width="1.0"/>
<line x1="37.15" y1="445.90" x2="80.00" y2="445.90" stroke="#222" stroke-width="1.0"/>
<line x1="37.15" y1="445.90" x2="39.75" y2="445.90" stroke="#222" stroke-width="0.9"/>
<text x="33.60" y="448.20" font-size="6.5" text-anchor="end" fill="#2a2a2a" stroke="#2a2a2a" stroke-width="0.15">0.00</text>
<line x1="37.15" y1="433.97" x2="39.75" y2="433.97" stroke="#222" stroke-width="0.9"/>
<text x="33.60" y="436.27" font-size="6.5" text-anchor="end" fill="#2a2a2a" stroke="#2a2a2a" stroke-width="0.15">0.05</text>
<line x1="37.15" y1="422.04" x2="39.75" y2="422.04" stroke="#222" stroke-width="0.9"/>
<text x="33.60" y="424.34" font-size="6.5" text-anchor="end" fill="#2a2a2a" stroke="#2a2a2a" stroke-width="0.15">0.10</text>
<line x1="37.15" y1="410.11" x2="39.75" y2="410.11" stroke="#222" stroke-width="0.9"/>
<text x="33.60" y="412.41" font-size="6.5" text-anchor="end" fill="#2a2a2a" stroke="#2a2a2a" stroke-width="0.15">0.15</text>
<line x1="37.15" y1="398.18" x2="39.75" y2="398.18" stroke="#222" stroke-width="0.9"/>
<text x="33.60" y="400.48" font-size="6.5" text-anchor="end" fill="#2a2a2a" stroke="#2a2a2a" stroke-width="0.15">0.20</text>
<line x1="37.15" y1="386.25" x2="39.75" y2="386.25" stroke="#222" stroke-width="0.9"/>
<text x="33.60" y="388.55" font-size="6.5" text-anchor="end" fill="#2a2a2a" stroke="#2a2a2a" stroke-width="0.15">0.25</text>
<text x="16.00" y="414.60" font-size="7.2" textLength="11.20" lengthAdjust="spacingAndGlyphs" text-anchor="middle" font-weight="bold" fill="#1a1a1a" transform="rotate(-90 16.00 414.60)" stroke="#1a1a1a" stroke-width="0.2">TPM</text>
<rect x="46.20" y="433.20" width="10.30" height="12.70" fill="#114c8c"/>
<line x1="51.35" y1="433.20" x2="51.35" y2="429.70" stroke="#222" stroke-width="0.9"/>
<line x1="48.45" y1="429.70" x2="54.25" y2="429.70" stroke="#222" stroke-width="0.9"/>
<rect x="63.00" y="400.10" width="10.80" height="45.80" fill="#c8041f"/>
<line x1="68.40" y1="400.10" x2="68.40" y2="396.50" stroke="#222" stroke-width="0.9"/>
<line x1="65.50" y1="396.50" x2="71.30" y2="396.50" stroke="#222" stroke-width="0.9"/>
<path d="M51.35 426.50 L51.35 389.20 L68.40 389.20 L68.40 393.30" stroke="#1e1e1e" stroke-width="1.0" fill="none"/>
<circle cx="57.80" cy="386.00" r="0.8" fill="#222"/>
<circle cx="60.00" cy="386.00" r="0.8" fill="#222"/>
<circle cx="62.20" cy="386.00" r="0.8" fill="#222"/>
<text x="128.80" y="374.20" font-size="8.6" textLength="29.30" lengthAdjust="spacingAndGlyphs" font-style="italic" fill="#1e1e1e" stroke="#1e1e1e" stroke-width="0.22">CCND3</text>
<line x1="123.50" y1="383.10" x2="123.50" y2="445.90" stroke="#222" stroke-width="1.0"/>
<line x1="120.90" y1="445.90" x2="163.50" y2="445.90" stroke="#222" stroke-width="1.0"/>
<line x1="120.90" y1="445.90" x2="123.50" y2="445.90" stroke="#222" stroke-width="0.9"/>
<text x="118.40" y="448.20" font-size="6.5" text-anchor="end" fill="#2a2a2a" stroke="#2a2a2a" stroke-width="0.15">0</text>
<line x1="120.90" y1="430.98" x2="123.50" y2="430.98" stroke="#222" stroke-width="0.9"/>
<text x="118.40" y="433.28" font-size="6.5" text-anchor="end" fill="#2a2a2a" stroke="#2a2a2a" stroke-width="0.15">50</text>
<line x1="120.90" y1="416.07" x2="123.50" y2="416.07" stroke="#222" stroke-width="0.9"/>
<text x="118.40" y="418.37" font-size="6.5" text-anchor="end" fill="#2a2a2a" stroke="#2a2a2a" stroke-width="0.15">100</text>
<line x1="120.90" y1="401.15" x2="123.50" y2="401.15" stroke="#222" stroke-width="0.9"/>
<text x="118.40" y="403.45" font-size="6.5" text-anchor="end" fill="#2a2a2a" stroke="#2a2a2a" stroke-width="0.15">150</text>
<line x1="120.90" y1="386.24" x2="123.50" y2="386.24" stroke="#222" stroke-width="0.9"/>
<text x="118.40" y="388.54" font-size="6.5" text-anchor="end" fill="#2a2a2a" stroke="#2a2a2a" stroke-width="0.15">200</text>
<text x="100.60" y="414.60" font-size="7.2" textLength="11.20" lengthAdjust="spacingAndGlyphs" text-anchor="middle" font-weight="bold" fill="#1a1a1a" transform="rotate(-90 100.60 414.60)" stroke="#1a1a1a" stroke-width="0.2">TPM</text>
<rect x="130.20" y="408.40" width="9.80" height="37.50" fill="#114c8c"/>
<line x1="135.10" y1="408.40" x2="135.10" y2="404.20" stroke="#222" stroke-width="0.9"/>
<line x1="132.20" y1="404.20" x2="138.00" y2="404.20" stroke="#222" stroke-width="0.9"/>
<rect x="147.30" y="394.00" width="9.80" height="51.90" fill="#c8041f"/>
<line x1="152.20" y1="394.00" x2="152.20" y2="390.80" stroke="#222" stroke-width="0.9"/>
<line x1="149.30" y1="390.80" x2="155.10" y2="390.80" stroke="#222" stroke-width="0.9"/>
<path d="M135.10 401.00 L135.10 384.20 L152.20 384.20 L152.20 387.60" stroke="#1e1e1e" stroke-width="1.0" fill="none"/>
<circle cx="142.65" cy="380.70" r="0.8" fill="#222"/>
<circle cx="144.85" cy="380.70" r="0.8" fill="#222"/>
<text x="214.80" y="374.20" font-size="8.6" textLength="20.80" lengthAdjust="spacingAndGlyphs" font-style="italic" fill="#1e1e1e" stroke="#1e1e1e" stroke-width="0.22">BCL2</text>
<line x1="203.60" y1="379.40" x2="203.60" y2="445.90" stroke="#222" stroke-width="1.0"/>
<line x1="201.00" y1="445.90" x2="246.50" y2="445.90" stroke="#222" stroke-width="1.0"/>
<line x1="201.00" y1="445.90" x2="203.60" y2="445.90" stroke="#222" stroke-width="0.9"/>
<text x="197.20" y="448.20" font-size="6.5" text-anchor="end" fill="#2a2a2a" stroke="#2a2a2a" stroke-width="0.15">0</text>
<line x1="201.00" y1="429.99" x2="203.60" y2="429.99" stroke="#222" stroke-width="0.9"/>
<text x="197.20" y="432.29" font-size="6.5" text-anchor="end" fill="#2a2a2a" stroke="#2a2a2a" stroke-width="0.15">1</text>
<line x1="201.00" y1="414.08" x2="203.60" y2="414.08" stroke="#222" stroke-width="0.9"/>
<text x="197.20" y="416.38" font-size="6.5" text-anchor="end" fill="#2a2a2a" stroke="#2a2a2a" stroke-width="0.15">2</text>
<line x1="201.00" y1="398.17" x2="203.60" y2="398.17" stroke="#222" stroke-width="0.9"/>
<text x="197.20" y="400.47" font-size="6.5" text-anchor="end" fill="#2a2a2a" stroke="#2a2a2a" stroke-width="0.15">3</text>
<line x1="201.00" y1="382.26" x2="203.60" y2="382.26" stroke="#222" stroke-width="0.9"/>
<text x="197.20" y="384.56" font-size="6.5" text-anchor="end" fill="#2a2a2a" stroke="#2a2a2a" stroke-width="0.15">4</text>
<text x="188.00" y="412.10" font-size="7.2" textLength="11.20" lengthAdjust="spacingAndGlyphs" text-anchor="middle" font-weight="bold" fill="#1a1a1a" transform="rotate(-90 188.00 412.10)" stroke="#1a1a1a" stroke-width="0.2">TPM</text>
<rect x="210.60" y="425.90" width="10.60" height="20.00" fill="#114c8c"/>
<line x1="215.90" y1="425.90" x2="215.90" y2="424.00" stroke="#222" stroke-width="0.9"/>
<line x1="213.00" y1="424.00" x2="218.80" y2="424.00" stroke="#222" stroke-width="0.9"/>
<rect x="228.90" y="401.60" width="10.60" height="44.30" fill="#c8041f"/>
<line x1="234.20" y1="401.60" x2="234.20" y2="394.00" stroke="#222" stroke-width="0.9"/>
<line x1="231.30" y1="394.00" x2="237.10" y2="394.00" stroke="#222" stroke-width="0.9"/>
<path d="M215.90 420.80 L215.90 387.30 L234.20 387.30 L234.20 390.80" stroke="#1e1e1e" stroke-width="1.0" fill="none"/>
<circle cx="224.15" cy="383.80" r="0.8" fill="#222"/>
<circle cx="226.35" cy="383.80" r="0.8" fill="#222"/>
<text x="275.00" y="374.20" font-size="8.6" textLength="66.30" lengthAdjust="spacingAndGlyphs" font-style="italic" fill="#1e1e1e" stroke="#1e1e1e" stroke-width="0.22">BCL2L1 (BCL-xL)</text>
<line x1="286.50" y1="379.00" x2="286.50" y2="445.90" stroke="#222" stroke-width="1.0"/>
<line x1="283.90" y1="445.90" x2="329.40" y2="445.90" stroke="#222" stroke-width="1.0"/>
<line x1="283.90" y1="445.90" x2="286.50" y2="445.90" stroke="#222" stroke-width="0.9"/>
<text x="280.30" y="448.20" font-size="6.5" text-anchor="end" fill="#2a2a2a" stroke="#2a2a2a" stroke-width="0.15">0</text>
<line x1="283.90" y1="429.99" x2="286.50" y2="429.99" stroke="#222" stroke-width="0.9"/>
<text x="280.30" y="432.29" font-size="6.5" text-anchor="end" fill="#2a2a2a" stroke="#2a2a2a" stroke-width="0.15">20</text>
<line x1="283.90" y1="414.08" x2="286.50" y2="414.08" stroke="#222" stroke-width="0.9"/>
<text x="280.30" y="416.38" font-size="6.5" text-anchor="end" fill="#2a2a2a" stroke="#2a2a2a" stroke-width="0.15">40</text>
<line x1="283.90" y1="398.16" x2="286.50" y2="398.16" stroke="#222" stroke-width="0.9"/>
<text x="280.30" y="400.46" font-size="6.5" text-anchor="end" fill="#2a2a2a" stroke="#2a2a2a" stroke-width="0.15">60</text>
<line x1="283.90" y1="382.25" x2="286.50" y2="382.25" stroke="#222" stroke-width="0.9"/>
<text x="280.30" y="384.55" font-size="6.5" text-anchor="end" fill="#2a2a2a" stroke="#2a2a2a" stroke-width="0.15">80</text>
<text x="266.60" y="412.10" font-size="7.2" textLength="11.20" lengthAdjust="spacingAndGlyphs" text-anchor="middle" font-weight="bold" fill="#1a1a1a" transform="rotate(-90 266.60 412.10)" stroke="#1a1a1a" stroke-width="0.2">TPM</text>
<rect x="293.40" y="410.60" width="10.40" height="35.30" fill="#114c8c"/>
<line x1="298.60" y1="410.60" x2="298.60" y2="407.20" stroke="#222" stroke-width="0.9"/>
<line x1="295.70" y1="407.20" x2="301.50" y2="407.20" stroke="#222" stroke-width="0.9"/>
<rect x="312.00" y="397.30" width="10.40" height="48.60" fill="#c8041f"/>
<line x1="317.20" y1="397.30" x2="317.20" y2="395.50" stroke="#222" stroke-width="0.9"/>
<line x1="314.30" y1="395.50" x2="320.10" y2="395.50" stroke="#222" stroke-width="0.9"/>
<path d="M298.60 404.00 L298.60 388.20 L317.20 388.20 L317.20 392.30" stroke="#1e1e1e" stroke-width="1.0" fill="none"/>
<circle cx="306.65" cy="384.50" r="0.8" fill="#222"/>
<circle cx="308.85" cy="384.50" r="0.8" fill="#222"/>
<rect x="350.1" y="405.0" width="5.9" height="5.8" fill="#114c8c"/>
<rect x="350.1" y="414.4" width="5.9" height="5.8" fill="#c8041f"/>
<text x="359.00" y="410.10" font-size="6.1" textLength="29.80" lengthAdjust="spacingAndGlyphs" fill="#333">NT_CB-103</text>
<text x="359.00" y="419.50" font-size="6.1" textLength="30.80" lengthAdjust="spacingAndGlyphs" fill="#333">KO_CB-103</text>
<rect x="0.5" y="0.5" width="519" height="455" fill="none" stroke="#5e5e5e" stroke-width="1"/>
</svg></body></html>
